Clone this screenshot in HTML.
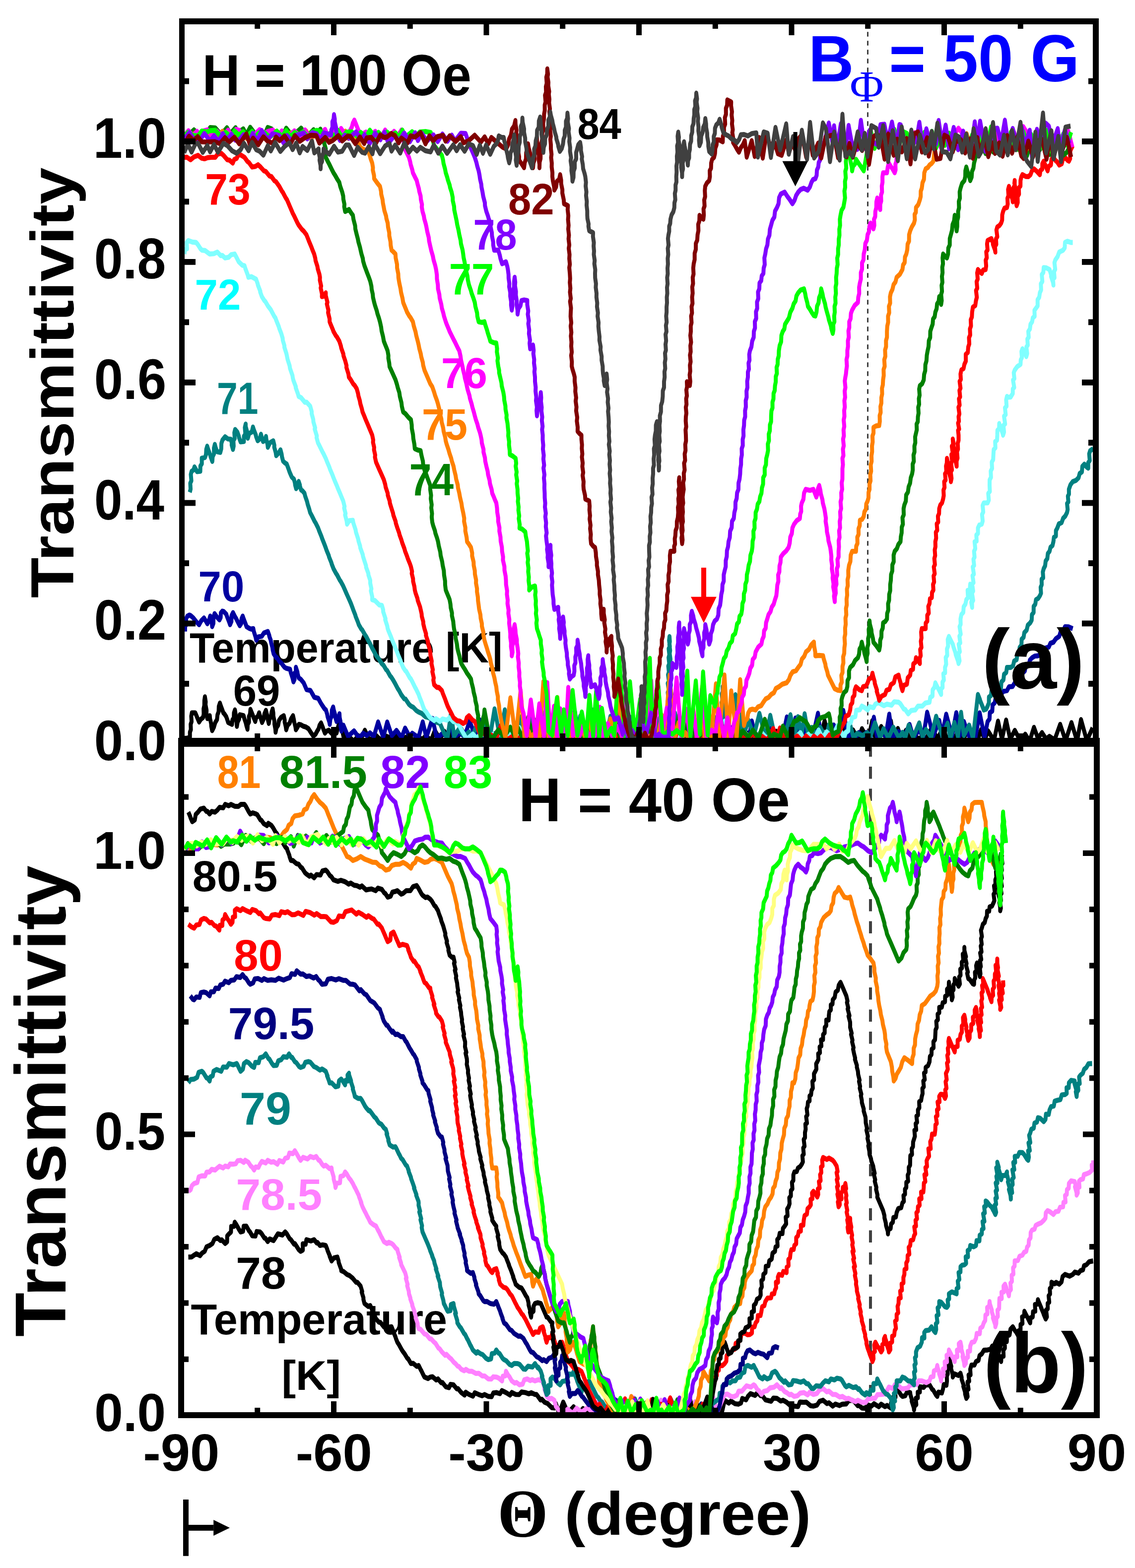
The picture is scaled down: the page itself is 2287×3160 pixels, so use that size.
<!DOCTYPE html>
<html><head><meta charset="utf-8"><title>Transmittivity vs angle</title><style>html,body{margin:0;padding:0;background:#fff;}svg{display:block;}</style></head><body>
<svg width="2287" height="3160" viewBox="0 0 2287 3160">
<defs><clipPath id="ca"><rect x="372" y="49" width="1830" height="1438"/></clipPath><clipPath id="cb"><rect x="371" y="1505" width="1833" height="1341"/></clipPath></defs>
<rect width="100%" height="100%" fill="#fff"/>
<line x1="1748.5" y1="49" x2="1748.5" y2="1487" stroke="#404040" stroke-width="3" stroke-dasharray="9.5 8.5" stroke-dashoffset="2.8"/>
<line x1="1754" y1="1505" x2="1754" y2="2846" stroke="#404040" stroke-width="6" stroke-dasharray="24.5 20" stroke-dashoffset="4.6"/>
<g><text transform="translate(189.82,1532.35) scale(1.0458,1.1493)" font-family="'Liberation Sans', sans-serif" font-weight="bold" font-size="100" fill="#000">0.0</text><text transform="translate(189.82,1289.47) scale(1.0458,1.1493)" font-family="'Liberation Sans', sans-serif" font-weight="bold" font-size="100" fill="#000">0.2</text><text transform="translate(189.94,1046.59) scale(1.0148,1.1493)" font-family="'Liberation Sans', sans-serif" font-weight="bold" font-size="100" fill="#000">0.4</text><text transform="translate(189.82,803.71) scale(1.0458,1.1493)" font-family="'Liberation Sans', sans-serif" font-weight="bold" font-size="100" fill="#000">0.6</text><text transform="translate(189.85,560.83) scale(1.0379,1.1493)" font-family="'Liberation Sans', sans-serif" font-weight="bold" font-size="100" fill="#000">0.8</text><text transform="translate(187.63,317.95) scale(1.0620,1.1493)" font-family="'Liberation Sans', sans-serif" font-weight="bold" font-size="100" fill="#000">1.0</text><text transform="translate(190.36,2884.08) scale(1.0344,1.0690)" font-family="'Liberation Sans', sans-serif" font-weight="bold" font-size="100" fill="#000">0.0</text><text transform="translate(190.39,2317.48) scale(1.0265,1.0690)" font-family="'Liberation Sans', sans-serif" font-weight="bold" font-size="100" fill="#000">0.5</text><text transform="translate(188.20,1750.88) scale(1.0504,1.0690)" font-family="'Liberation Sans', sans-serif" font-weight="bold" font-size="100" fill="#000">1.0</text><text transform="translate(148.31,1205.33) rotate(-90) scale(1.3349,1.2234)" font-family="'Liberation Sans', sans-serif" font-weight="bold" font-size="100" fill="#000">Transmittivity</text><text transform="translate(132.33,2694.16) rotate(-90) scale(1.4610,1.4415)" font-family="'Liberation Sans', sans-serif" font-weight="bold" font-size="100" fill="#000">Transmittivity</text><text transform="translate(1002.46,3096.62) scale(1.3088,1.3788)" font-family="'Liberation Serif', serif" font-weight="bold" font-size="100" fill="#000">Θ</text><text transform="translate(1137.40,3093.15) scale(1.2595,1.2213)" font-family="'Liberation Sans', sans-serif" font-weight="bold" font-size="100" fill="#000">(degree)</text><text transform="translate(407.52,191.83) scale(1.0548,1.1690)" font-family="'Liberation Sans', sans-serif" font-weight="bold" font-size="100" fill="#000">H = 100 Oe</text><text transform="translate(1628.94,163.90) scale(1.2656,1.3145)" font-family="'Liberation Sans', sans-serif" font-weight="bold" font-size="100" fill="#0000FF">B</text><text transform="translate(1712.20,203.60) scale(0.9343,0.8862)" font-family="'Liberation Serif', serif" font-weight="normal" font-size="100" fill="#0000FF">Φ</text><text transform="translate(1791.33,164.47) scale(1.2666,1.3310)" font-family="'Liberation Sans', sans-serif" font-weight="bold" font-size="100" fill="#0000FF">= 50 G</text><text transform="translate(1044.64,1654.56) scale(1.1937,1.2408)" font-family="'Liberation Sans', sans-serif" font-weight="bold" font-size="100" fill="#000">H = 40 Oe</text><text transform="translate(1163.42,280.12) scale(0.7944,0.8775)" font-family="'Liberation Sans', sans-serif" font-weight="bold" font-size="100" fill="#000">84</text><text transform="translate(1024.00,432.31) scale(0.8317,0.8944)" font-family="'Liberation Sans', sans-serif" font-weight="bold" font-size="100" fill="#800000">82</text><text transform="translate(953.53,503.32) scale(0.7913,0.8789)" font-family="'Liberation Sans', sans-serif" font-weight="bold" font-size="100" fill="#8000FF">78</text><text transform="translate(904.75,592.89) scale(0.8136,0.8897)" font-family="'Liberation Sans', sans-serif" font-weight="bold" font-size="100" fill="#00FF00">77</text><text transform="translate(889.07,782.12) scale(0.8330,0.8775)" font-family="'Liberation Sans', sans-serif" font-weight="bold" font-size="100" fill="#FF00FF">76</text><text transform="translate(850.10,885.91) scale(0.8250,0.8914)" font-family="'Liberation Sans', sans-serif" font-weight="bold" font-size="100" fill="#FF8000">75</text><text transform="translate(824.79,998.00) scale(0.8019,0.9058)" font-family="'Liberation Sans', sans-serif" font-weight="bold" font-size="100" fill="#008000">74</text><text transform="translate(413.31,411.72) scale(0.8214,0.8817)" font-family="'Liberation Sans', sans-serif" font-weight="bold" font-size="100" fill="#FF0000">73</text><text transform="translate(392.57,624.30) scale(0.8330,0.8800)" font-family="'Liberation Sans', sans-serif" font-weight="bold" font-size="100" fill="#00FFFF">72</text><text transform="translate(437.00,833.80) scale(0.7500,0.9043)" font-family="'Liberation Sans', sans-serif" font-weight="bold" font-size="100" fill="#008080">71</text><text transform="translate(399.57,1211.52) scale(0.8330,0.8789)" font-family="'Liberation Sans', sans-serif" font-weight="bold" font-size="100" fill="#0000A0">70</text><text transform="translate(469.69,1422.12) scale(0.8524,0.8789)" font-family="'Liberation Sans', sans-serif" font-weight="bold" font-size="100" fill="#000">69</text><text transform="translate(382.08,1334.72) scale(0.8241,0.8468)" font-family="'Liberation Sans', sans-serif" font-weight="bold" font-size="100" fill="#000">Temperature [K]</text><text transform="translate(437.63,1588.08) scale(0.7905,0.9239)" font-family="'Liberation Sans', sans-serif" font-weight="bold" font-size="100" fill="#FF8000">81</text><text transform="translate(562.77,1588.08) scale(0.9101,0.9239)" font-family="'Liberation Sans', sans-serif" font-weight="bold" font-size="100" fill="#008000">81.5</text><text transform="translate(765.98,1588.08) scale(0.9067,0.9239)" font-family="'Liberation Sans', sans-serif" font-weight="bold" font-size="100" fill="#8000FF">82</text><text transform="translate(893.63,1588.08) scale(0.8885,0.9239)" font-family="'Liberation Sans', sans-serif" font-weight="bold" font-size="100" fill="#00FF00">83</text><text transform="translate(387.76,1796.32) scale(0.8815,0.8789)" font-family="'Liberation Sans', sans-serif" font-weight="bold" font-size="100" fill="#000">80.5</text><text transform="translate(471.24,1956.11) scale(0.8856,0.8873)" font-family="'Liberation Sans', sans-serif" font-weight="bold" font-size="100" fill="#FF0000">80</text><text transform="translate(459.83,2093.89) scale(0.8915,0.9070)" font-family="'Liberation Sans', sans-serif" font-weight="bold" font-size="100" fill="#000080">79.5</text><text transform="translate(483.06,2266.48) scale(0.9340,0.9211)" font-family="'Liberation Sans', sans-serif" font-weight="bold" font-size="100" fill="#008080">79</text><text transform="translate(475.43,2438.11) scale(0.8920,0.8944)" font-family="'Liberation Sans', sans-serif" font-weight="bold" font-size="100" fill="#FF80FF">78.5</text><text transform="translate(475.36,2596.89) scale(0.9106,0.9070)" font-family="'Liberation Sans', sans-serif" font-weight="bold" font-size="100" fill="#000">78</text><text transform="translate(384.54,2688.80) scale(0.8633,0.8667)" font-family="'Liberation Sans', sans-serif" font-weight="bold" font-size="100" fill="#000">Temperature</text><text transform="translate(567.44,2800.57) scale(0.8598,0.8298)" font-family="'Liberation Sans', sans-serif" font-weight="bold" font-size="100" fill="#000">[K]</text><text transform="translate(288.23,2963.83) scale(1.0662,1.0662)" font-family="'Liberation Sans', sans-serif" font-weight="bold" font-size="100" fill="#000">-90</text><text transform="translate(595.73,2963.83) scale(1.0662,1.0662)" font-family="'Liberation Sans', sans-serif" font-weight="bold" font-size="100" fill="#000">-60</text><text transform="translate(903.23,2963.83) scale(1.0662,1.0662)" font-family="'Liberation Sans', sans-serif" font-weight="bold" font-size="100" fill="#000">-30</text><text transform="translate(1258.18,2963.83) scale(1.0662,1.0662)" font-family="'Liberation Sans', sans-serif" font-weight="bold" font-size="100" fill="#000">0</text><text transform="translate(1536.89,2963.83) scale(1.0662,1.0662)" font-family="'Liberation Sans', sans-serif" font-weight="bold" font-size="100" fill="#000">30</text><text transform="translate(1843.33,2963.83) scale(1.0662,1.0662)" font-family="'Liberation Sans', sans-serif" font-weight="bold" font-size="100" fill="#000">60</text><text transform="translate(2150.83,2963.83) scale(1.0662,1.0662)" font-family="'Liberation Sans', sans-serif" font-weight="bold" font-size="100" fill="#000">90</text></g>
<g clip-path="url(#ca)"><g transform="scale(1,1.27)">
<polyline points="372.0,1171.7 377.8,1171.4 382.7,1169.4 382.7,1161.9 384.6,1157.8 384.2,1149.4 386.0,1145.1 385.4,1136.5 386.6,1131.1 393.4,1131.1 396.3,1136.4 397.8,1139.5 401.2,1145.7 404.7,1141.4 409.0,1138.7 410.5,1133.3 410.2,1124.9 411.7,1119.5 411.8,1111.7 412.9,1105.7 414.5,1113.7 414.1,1118.2 416.2,1127.1 416.0,1132.0 417.8,1140.3 422.7,1135.7 423.2,1140.4 425.4,1148.1 425.7,1152.4 427.5,1159.4 431.0,1154.0 433.6,1146.9 437.3,1141.8 438.2,1134.3 440.5,1129.4 440.9,1121.0 443.1,1115.7 445.0,1120.2 448.2,1126.9 450.0,1131.1 452.2,1132.9 455.8,1137.2 458.3,1142.8 459.7,1146.5 467.5,1149.5 468.3,1142.6 471.1,1139.2 471.4,1131.3 473.4,1126.5 474.9,1134.0 474.8,1138.6 476.8,1146.8 477.3,1152.6 478.8,1145.7 481.7,1141.2 483.1,1134.2 490.9,1135.7 492.1,1139.7 495.4,1147.5 496.4,1151.1 498.7,1157.2 499.1,1149.5 501.7,1145.7 501.6,1137.1 503.9,1132.9 504.6,1125.7 508.4,1133.1 510.7,1137.9 514.3,1144.9 516.2,1139.0 519.8,1136.3 522.1,1131.1 523.4,1135.1 526.3,1141.9 528.0,1146.5 531.2,1141.1 532.8,1133.0 535.8,1127.2 538.3,1135.2 539.1,1140.0 541.6,1148.0 543.0,1141.2 545.9,1137.2 547.2,1130.3 549.4,1125.0 550.7,1131.7 550.8,1136.3 553.0,1144.5 553.0,1148.9 554.8,1156.5 555.3,1161.8 557.1,1154.8 560.5,1150.7 562.1,1143.4 566.3,1138.4 571.8,1135.7 573.6,1142.2 573.6,1145.7 575.8,1153.0 576.7,1158.0 579.4,1151.1 583.8,1147.3 586.6,1140.6 590.4,1135.7 592.1,1141.8 593.0,1146.2 595.3,1153.4 596.2,1158.0 599.4,1154.2 602.1,1149.5 606.5,1150.2 611.8,1152.6 616.2,1153.6 621.6,1156.4 626.9,1163.0 631.3,1168.0 635.8,1165.1 639.1,1160.2 642.0,1156.4 643.9,1150.9 646.9,1147.2 650.3,1153.9 651.5,1156.9 654.7,1163.3 658.1,1160.2 662.5,1158.7 667.0,1162.9 670.3,1164.9 678.1,1163.3 685.0,1141.9 693.2,1172.9 700.6,1166.8 712.7,1176.3 722.1,1167.6 727.6,1172.0 735.1,1158.8 745.1,1175.7 756.4,1166.1 766.6,1173.8 777.3,1168.0 789.7,1171.8 799.5,1166.1 810.7,1172.3 822.5,1168.5 833.2,1175.0 842.3,1168.0 850.4,1173.8 857.3,1168.1 868.8,1174.3 876.2,1159.4 886.1,1172.3 895.7,1160.7 901.9,1173.1 913.5,1160.9 920.6,1173.5 929.3,1156.4 940.8,1172.1 946.6,1164.4 952.1,1172.4 958.3,1168.4 968.2,1172.1 977.7,1143.8 984.1,1175.2 993.7,1168.0 1005.9,1175.1 1014.1,1148.1 1020.2,1175.6 1031.7,1168.3 1043.7,1175.4 1055.7,1167.1 1066.4,1175.3 1074.3,1168.5 1079.8,1174.0 1089.1,1168.3 1099.1,1171.9 1107.9,1162.8 1114.8,1171.9 1126.7,1150.0 1136.3,1171.8 1145.5,1144.0 1156.4,1174.9 1162.1,1160.9 1169.2,1176.3 1174.7,1167.7 1186.4,1172.2 1194.0,1166.7 1205.7,1174.9 1217.8,1167.9 1223.9,1173.3 1234.8,1159.6 1246.9,1175.0 1252.9,1166.6 1259.8,1172.9 1270.0,1164.4 1280.8,1171.7 1292.8,1168.1 1303.5,1175.6 1309.2,1161.9 1321.6,1171.7 1330.6,1164.8 1338.8,1172.6 1345.5,1167.2 1352.4,1173.0 1364.3,1144.8 1371.6,1171.8 1378.9,1149.8 1385.6,1174.8 1391.6,1166.1 1398.3,1174.6 1406.3,1153.7 1415.5,1173.6 1421.0,1150.6 1426.7,1174.0 1439.2,1152.9 1447.2,1176.0 1454.4,1160.8 1464.0,1175.1 1471.4,1165.3 1479.2,1176.0 1489.9,1166.3 1500.9,1174.6 1508.0,1163.1 1514.1,1172.7 1520.1,1168.4 1529.9,1175.6 1541.3,1167.7 1553.6,1173.2 1563.9,1160.4 1572.8,1174.9 1584.6,1156.9 1593.6,1175.7 1604.4,1165.7 1616.9,1173.6 1622.6,1143.9 1634.7,1174.2 1645.5,1156.9 1651.7,1175.4 1661.6,1143.8 1670.4,1173.0 1681.4,1161.7 1693.0,1171.9 1703.4,1147.0 1710.1,1172.1 1719.0,1158.4 1729.0,1174.2 1736.8,1156.3 1749.3,1174.0 1757.6,1143.6 1764.2,1174.3 1775.7,1152.9 1786.5,1174.9 1795.1,1143.8 1800.5,1173.7 1809.2,1156.0 1816.6,1172.6 1825.3,1159.0 1834.5,1175.8 1843.3,1167.8 1853.3,1173.5 1858.9,1165.2 1865.1,1174.7 1877.0,1155.4 1889.3,1172.3 1900.7,1154.1 1907.8,1173.9 1914.5,1166.7 1923.6,1173.5 1931.8,1156.3 1942.1,1172.2 1951.6,1153.5 1957.3,1175.2 1962.8,1164.7 1971.0,1171.7 1976.9,1157.8 1984.2,1174.1 1990.8,1159.7 2002.9,1175.2 2011.0,1144.3 2018.9,1173.0 2027.3,1142.6 2035.5,1173.0 2044.8,1159.0 2055.7,1175.0 2065.9,1165.0 2074.5,1176.3 2083.4,1154.2 2091.4,1171.7 2099.6,1162.5 2107.9,1172.6 2114.5,1168.5 2125.0,1174.1 2136.2,1149.4 2147.1,1175.4 2159.0,1146.7 2170.3,1175.9 2178.2,1141.9 2190.0,1175.5 2201.5,1154.8" fill="none" stroke="#000000" stroke-width="8" stroke-linejoin="round"/>
<polyline points="372.9,1002.1 373.0,994.5 375.4,990.9 374.9,982.1 377.5,977.7 381.7,976.0 385.1,977.4 389.5,980.6 396.0,987.1 401.2,991.3 405.6,985.0 411.0,980.6 414.0,984.5 417.8,989.8 421.1,984.4 423.6,977.6 424.2,982.0 427.0,990.1 427.5,994.4 430.0,989.1 430.1,979.4 432.4,973.7 438.0,980.0 442.2,983.7 444.6,979.9 445.0,972.6 448.0,969.8 451.0,970.5 455.8,974.5 457.7,978.9 461.7,986.9 463.6,991.3 466.3,986.2 466.6,976.9 469.5,972.1 473.6,978.7 475.5,981.1 480.4,988.9 483.1,992.9 486.0,989.5 486.7,982.0 489.0,977.6 491.1,982.3 494.6,989.5 496.8,994.4 502.1,997.1 506.5,998.3 510.4,997.5 511.4,1001.9 515.0,1010.9 516.3,1015.9 520.7,1010.7 527.5,1009.6 531.9,1004.4 539.7,1002.1 542.7,1008.7 542.6,1009.6 545.5,1015.9 546.6,1020.6 548.9,1027.4 549.5,1031.3 551.4,1037.4 556.5,1043.5 558.1,1043.6 563.1,1049.7 567.2,1052.5 573.1,1058.6 576.7,1060.5 584.5,1062.0 585.7,1066.8 589.5,1076.1 591.3,1082.0 593.6,1078.0 592.8,1068.7 596.1,1066.6 596.2,1058.9 599.3,1066.5 599.7,1069.3 602.1,1075.8 605.8,1077.7 611.8,1083.5 615.2,1089.6 617.7,1094.3 625.5,1095.7 628.7,1100.0 633.3,1106.5 641.1,1108.0 646.1,1115.3 648.9,1118.8 653.9,1124.7 656.7,1126.5 659.2,1133.2 660.1,1137.2 663.7,1145.9 664.5,1149.5 665.6,1141.5 668.3,1136.5 668.7,1127.2 671.3,1121.9 672.6,1127.0 675.6,1135.0 675.3,1137.2 678.1,1144.9 681.9,1140.2 684.0,1132.6 684.4,1138.5 686.5,1147.5 686.0,1151.7 687.9,1160.2 692.0,1150.8 701.3,1168.5 713.4,1159.8 723.7,1171.2 732.0,1163.6 739.0,1167.2 745.4,1162.9 753.3,1168.7 761.9,1145.6 772.2,1170.2 780.2,1145.7 789.6,1167.5 798.9,1159.0 809.2,1170.4 816.3,1155.3 825.0,1168.3 830.7,1163.6 843.2,1170.4 851.8,1145.6 859.1,1170.3 871.4,1140.0 880.1,1171.6 892.1,1163.6 900.5,1169.1 907.9,1148.0 914.3,1170.5 925.9,1163.5 936.3,1168.2 946.3,1144.3 958.7,1170.7 966.5,1142.3 973.0,1170.3 981.4,1160.3 988.5,1168.0 999.7,1163.2 1006.7,1167.8 1013.3,1142.3 1022.9,1170.1 1034.8,1154.8 1040.4,1167.8 1049.6,1143.1 1061.6,1169.3 1068.6,1149.0 1080.7,1168.5 1092.8,1132.3 1102.4,1169.2 1108.7,1163.1 1114.4,1169.8 1125.0,1126.4 1134.7,1171.6 1143.0,1162.8 1148.8,1168.3 1158.0,1126.9 1165.6,1168.0 1176.2,1156.9 1185.6,1167.6 1197.2,1131.3 1208.0,1171.3 1215.8,1163.7 1223.4,1171.2 1232.2,1161.7 1238.7,1167.7 1247.2,1130.9 1259.0,1170.5 1269.8,1161.9 1280.8,1168.0 1290.0,1163.7 1301.8,1167.5 1311.5,1145.8 1321.5,1170.2 1329.6,1138.9 1341.7,1169.8 1354.2,1135.6 1360.0,1170.1 1366.1,1145.8 1374.1,1171.0 1379.9,1129.5 1385.6,1167.2 1391.0,1162.9 1403.5,1170.9 1415.5,1161.9 1425.8,1170.7 1436.5,1160.2 1448.9,1170.4 1459.2,1159.8 1467.5,1170.5 1476.6,1153.4 1488.6,1168.9 1500.2,1163.6 1509.4,1170.3 1514.9,1144.1 1522.3,1169.9 1532.2,1162.7 1544.4,1168.1 1550.8,1155.1 1556.7,1167.4 1567.5,1163.2 1576.8,1171.1 1585.5,1137.7 1596.9,1167.7 1602.8,1139.4 1614.5,1171.0 1625.0,1152.5 1637.3,1170.4 1648.2,1131.8 1654.0,1170.4 1663.6,1163.8 1670.8,1170.3 1680.0,1150.4 1687.5,1169.6 1699.2,1127.3 1708.6,1170.4 1714.7,1162.7 1724.1,1170.8 1730.3,1162.6 1739.3,1168.4 1745.7,1162.4 1754.2,1170.7 1760.8,1138.1 1766.8,1168.1 1777.0,1163.8 1784.7,1167.7 1791.8,1133.3 1798.3,1170.3 1810.3,1160.8 1821.9,1168.4 1832.8,1149.6 1840.8,1171.1 1851.2,1158.9 1860.7,1168.3 1868.2,1130.1 1880.6,1167.7 1892.6,1143.2 1898.1,1167.4 1906.6,1133.3 1918.3,1168.1 1926.9,1130.9 1933.8,1167.4 1942.2,1144.9 1953.9,1171.1 1959.4,1162.1 1965.7,1169.7 1974.0,1131.1 1983.8,1169.8 1990.0,1145.0 1993.9,1140.9 1994.5,1130.8 1999.4,1128.5 2000.1,1118.7 2004.4,1115.2 2006.3,1107.5 2009.5,1102.0 2017.0,1101.7 2022.0,1097.0 2029.0,1095.9 2033.1,1089.9 2040.3,1089.4 2044.6,1083.6 2050.3,1079.4 2054.0,1071.5 2060.2,1068.3 2064.9,1064.7 2067.0,1056.7 2072.8,1055.1 2075.2,1047.6 2079.7,1043.7 2084.9,1041.1 2091.4,1040.6 2097.3,1037.8 2100.9,1030.8 2107.0,1028.3 2113.1,1026.9 2116.6,1020.8 2122.6,1019.1 2127.8,1013.3 2134.3,1009.9 2137.0,1002.7 2142.5,1000.4 2146.0,994.5 2153.0,994.7 2161.6,997.6" fill="none" stroke="#0000A0" stroke-width="8" stroke-linejoin="round"/>
<polyline points="382.4,781.2 384.0,776.1 383.4,766.9 385.6,762.8 384.5,752.9 386.1,747.8 389.9,745.9 391.9,740.9 394.1,743.9 397.0,748.3 403.6,747.8 403.8,739.5 406.7,735.9 406.6,727.1 413.1,725.9 415.1,720.9 415.6,713.2 417.5,708.0 419.1,712.4 423.5,721.7 424.5,724.9 427.8,732.2 428.5,724.5 431.2,720.1 431.1,711.1 432.9,705.2 434.2,709.4 437.3,716.7 443.9,717.9 445.8,712.1 446.1,703.7 448.2,698.3 453.4,693.1 459.2,696.5 465.1,697.1 467.2,703.7 466.8,705.9 469.4,713.2 470.8,707.8 470.3,699.1 472.9,695.8 472.2,686.6 473.8,681.6 478.2,685.6 481.3,692.4 481.5,694.0 484.8,701.2 491.4,700.6 491.5,692.3 494.4,688.8 493.4,678.5 495.0,672.9 495.0,676.6 498.1,685.8 497.6,688.5 499.4,695.4 502.0,687.9 507.4,685.5 509.7,677.6 511.3,681.6 515.6,690.6 516.0,692.6 519.2,699.4 523.6,696.3 525.8,689.1 527.4,693.9 530.1,700.6 534.1,698.5 536.0,692.5 536.6,697.1 539.0,705.0 539.7,709.8 544.0,702.6 550.6,699.4 552.8,706.6 552.6,709.6 555.6,718.1 556.5,723.0 561.3,719.2 565.2,713.8 567.5,720.7 568.2,724.9 570.4,731.7 574.5,734.8 577.7,736.3 581.1,743.5 583.5,749.0 586.3,754.1 587.9,757.0 592.3,760.5 594.3,766.5 594.7,769.5 596.7,775.4 600.2,771.4 601.8,763.9 604.3,769.9 604.2,771.3 606.9,777.7 609.5,778.9 613.5,782.7 614.9,787.2 618.7,795.9 620.0,800.3 623.2,808.1 625.0,813.4 628.3,818.3 634.1,827.5 635.8,829.6 641.0,837.8 643.2,842.6 647.4,850.7 649.4,855.2 653.5,863.3 656.0,868.5 657.7,872.5 662.5,881.8 663.0,883.7 667.8,893.1 668.4,895.1 672.0,902.4 677.0,909.8 679.2,912.3 684.7,920.7 686.6,922.7 691.5,929.9 694.2,934.7 698.2,941.9 699.6,944.4 704.4,952.8 707.0,957.5 710.5,964.7 711.6,967.4 716.1,976.4 716.5,978.0 721.0,986.8 723.0,991.3 727.9,998.1 729.8,999.5 734.8,1006.5 738.0,1010.2 742.4,1017.0 745.2,1020.9 750.6,1029.5 753.2,1033.1 758.0,1040.6 762.2,1044.4 769.2,1052.9 773.0,1055.9 778.0,1062.6 780.0,1063.9 786.2,1072.6 788.6,1074.7 793.0,1080.3 796.0,1084.4 801.6,1092.9 803.9,1095.5 808.5,1102.4 814.5,1108.9 817.2,1109.5 824.1,1117.6 828.0,1120.5 832.4,1122.2 838.8,1127.5 843.6,1129.9 849.6,1132.0 857.5,1137.5 863.0,1138.6 870.3,1140.8 879.2,1145.7 886.5,1148.0 895.0,1163.5 901.7,1171.5 908.7,1132.2 915.1,1168.5 923.9,1157.6 936.2,1168.1 945.1,1161.5 951.3,1170.2 959.1,1153.0 969.5,1167.3 975.3,1143.7 987.9,1167.0 996.5,1124.8 1007.9,1171.6 1017.1,1126.4 1022.9,1169.2 1034.4,1156.5 1043.0,1169.1 1051.1,1136.7 1063.6,1168.0 1071.3,1137.2 1082.0,1170.8 1092.3,1130.2 1103.8,1169.9 1111.3,1163.3 1122.9,1171.0 1134.7,1160.2 1145.4,1171.3 1152.3,1163.7 1158.9,1168.0 1169.2,1136.2 1180.5,1170.2 1193.0,1126.4 1201.5,1171.3 1212.1,1160.6 1221.7,1167.7 1230.0,1136.7 1235.5,1169.5 1244.0,1159.7 1249.9,1169.4 1257.7,1163.2 1266.0,1170.1 1271.9,1138.3 1277.9,1169.2 1286.0,1133.9 1297.8,1170.4 1305.3,1158.6 1316.7,1169.3 1326.6,1141.8 1333.4,1168.7 1344.0,1169.3 1345.3,1164.3 1343.9,1154.6 1345.0,1149.2 1344.1,1140.2 1345.7,1135.8 1344.4,1126.3 1346.5,1122.7 1345.3,1113.3 1346.7,1108.4 1345.5,1098.9 1347.5,1095.2 1345.5,1084.4 1347.9,1081.3 1346.1,1070.7 1347.9,1066.7 1346.6,1057.1 1348.5,1053.2 1347.2,1043.6 1348.7,1039.0 1347.4,1029.4 1349.7,1026.0 1348.2,1016.2 1349.0,1010.2 1349.7,1018.0 1348.8,1022.9 1350.3,1032.2 1349.4,1037.1 1351.0,1046.4 1349.7,1050.6 1351.6,1060.5 1350.2,1064.6 1351.9,1074.2 1350.0,1077.3 1351.9,1087.2 1350.9,1092.0 1353.0,1102.2 1351.3,1105.8 1352.9,1115.1 1352.0,1120.0 1353.8,1129.7 1352.3,1133.6 1354.2,1143.6 1352.5,1147.1 1354.1,1156.4 1352.6,1160.3 1354.0,1169.3 1360.0,1131.2 1370.8,1169.8 1381.6,1128.0 1388.4,1168.1 1399.3,1155.6 1411.8,1170.9 1421.0,1162.3 1430.8,1169.8 1440.4,1138.7 1449.2,1171.1 1452.0,1169.3 1453.4,1164.5 1452.2,1155.1 1454.1,1151.4 1452.2,1140.8 1454.2,1137.1 1453.5,1128.6 1455.3,1124.6 1453.9,1115.0 1455.7,1110.8 1454.3,1101.3 1456.3,1097.5 1456.0,1089.8 1457.2,1097.8 1455.6,1101.1 1458.2,1111.7 1456.9,1115.5 1458.7,1124.6 1457.4,1128.4 1459.5,1138.2 1458.0,1141.6 1459.4,1150.2 1458.7,1154.9 1460.5,1164.1 1460.0,1169.3 1465.0,1162.4 1475.9,1168.5 1480.0,1169.3 1481.0,1164.0 1479.5,1154.3 1481.1,1150.2 1480.2,1141.5 1482.1,1137.7 1480.5,1127.9 1482.1,1123.6 1480.7,1114.2 1482.7,1110.7 1482.0,1102.4 1481.6,1107.6 1483.9,1117.7 1482.1,1120.5 1484.7,1131.2 1482.9,1133.8 1485.3,1144.2 1483.9,1147.5 1485.9,1157.1 1485.2,1161.8 1486.0,1169.3 1490.0,1133.1 1498.4,1168.5 1507.7,1142.4 1519.1,1167.5 1530.2,1132.0 1542.6,1171.4 1552.1,1135.1 1561.8,1170.9 1574.3,1157.7 1580.6,1170.5 1592.7,1134.2 1601.5,1169.1 1607.8,1137.2 1615.1,1167.5 1621.3,1132.6 1629.6,1170.7 1635.6,1154.3 1646.3,1170.6 1653.1,1154.3 1664.3,1171.2 1670.4,1150.2 1682.2,1169.9 1693.3,1159.8 1702.2,1167.0 1713.4,1151.2 1720.1,1171.4 1727.0,1163.7 1737.6,1167.3 1747.8,1162.8 1753.3,1170.4 1763.1,1147.0 1773.6,1170.3 1780.3,1156.2 1790.0,1171.0 1800.0,1154.0 1811.3,1170.9 1818.5,1162.1 1824.0,1171.0 1830.9,1150.6 1840.1,1170.0 1852.2,1147.1 1858.9,1169.0 1865.6,1157.5 1876.3,1170.0 1886.3,1136.6 1898.8,1168.1 1909.3,1147.6 1914.9,1171.6 1923.2,1146.4 1930.2,1168.9 1936.5,1130.4 1942.2,1167.3 1952.8,1150.6 1960.5,1171.4 1970.5,1102.0 1974.4,1109.9 1975.2,1112.3 1980.4,1122.4 1982.2,1126.6 1987.1,1125.3 1990.0,1120.5 1992.6,1115.5 1992.7,1106.1 1996.8,1103.8 1997.8,1095.9 2006.4,1097.4 2013.4,1095.9 2017.0,1091.5 2017.8,1082.2 2021.9,1078.8 2023.1,1070.1 2027.5,1067.1 2029.0,1059.1 2036.8,1059.1 2041.4,1056.2 2043.5,1048.9 2048.5,1046.8 2049.8,1039.1 2053.8,1036.1 2054.6,1027.4 2058.2,1023.7 2058.6,1014.3 2062.5,1011.2 2064.0,1003.8 2068.7,999.9 2071.0,992.0 2075.8,988.4 2078.8,984.1 2079.3,975.4 2082.7,971.8 2082.8,962.4 2086.1,958.7 2087.5,951.6 2092.0,949.5 2095.3,945.4 2097.6,941.4 2096.9,932.1 2099.0,927.8 2098.8,919.2 2102.0,916.8 2101.3,907.5 2103.0,902.4 2105.9,897.8 2107.0,890.2 2110.3,886.4 2111.4,878.4 2114.8,874.8 2116.7,868.5 2120.7,865.7 2122.6,859.4 2123.7,852.6 2127.6,850.6 2127.7,842.0 2130.4,838.0 2133.5,831.4 2139.1,829.3 2142.1,822.6 2146.5,818.9 2150.0,813.4 2151.3,808.5 2150.1,799.0 2152.7,796.4 2151.8,787.4 2153.9,784.0 2153.8,776.5 2157.0,769.2 2161.6,764.3 2168.1,762.3 2173.3,758.1 2175.5,751.4 2180.0,748.9 2180.9,740.0 2185.0,736.6 2189.8,741.3 2192.8,742.8 2192.8,734.1 2195.8,730.8 2194.7,720.2 2196.7,715.1 2202.6,712.0" fill="none" stroke="#008080" stroke-width="8" stroke-linejoin="round"/>
<polyline points="371.7,403.1 372.7,396.0 376.9,394.7 376.2,384.7 379.5,381.7 387.8,384.2 395.0,384.7 398.3,387.7 403.8,394.5 406.8,397.0 413.1,397.5 422.4,403.1 430.8,402.6 438.0,400.0 444.6,405.6 447.9,405.3 453.6,409.3 460.7,408.3 465.9,404.1 473.0,403.1 476.3,408.1 481.0,415.4 488.1,420.8 492.6,421.6 494.3,426.0 499.2,436.3 500.4,440.0 506.8,439.0 516.0,443.1 519.2,450.2 519.6,452.1 524.6,462.4 524.2,463.1 527.7,470.7 532.4,476.7 534.7,478.5 540.1,485.8 543.3,489.1 545.7,491.6 552.6,502.0 555.0,504.5 556.7,508.4 561.7,518.2 562.8,521.2 566.7,529.1 569.6,536.9 569.8,540.0 573.1,548.6 573.0,551.0 577.0,560.8 578.4,565.9 579.5,570.4 583.6,580.4 584.3,584.4 589.3,595.8 590.0,599.7 591.2,603.6 596.1,613.8 595.8,615.1 600.2,624.7 601.8,629.1 606.5,630.9 614.3,638.4 617.8,638.2 625.0,644.5 628.1,653.3 628.0,656.5 631.2,665.7 631.5,669.5 635.0,679.0 634.1,680.8 638.4,691.8 637.9,694.4 640.8,702.8 644.0,707.7 649.5,716.7 651.4,719.3 656.4,727.4 658.6,731.9 663.7,741.5 664.9,744.3 670.0,753.9 672.0,758.1 674.4,762.8 679.7,772.6 680.3,774.0 686.1,784.6 686.7,786.0 691.5,795.0 694.3,803.8 693.4,806.0 696.3,815.0 695.3,817.1 698.5,826.6 699.3,831.8 703.7,826.2 711.0,825.7 712.1,830.2 716.5,840.7 717.2,844.4 721.5,854.8 722.7,859.4 725.6,866.5 725.9,869.1 730.9,880.0 731.4,882.8 734.4,890.2 737.5,897.7 737.6,899.9 742.2,910.0 742.4,912.4 746.0,920.9 746.0,925.5 748.4,934.5 747.3,937.4 750.1,947.1 750.0,951.6 755.7,953.1 764.4,960.0 769.5,960.6 772.1,967.9 772.1,970.6 776.8,981.8 776.1,983.1 780.3,993.4 781.2,997.6 782.8,1001.1 787.9,1010.8 789.5,1014.2 794.2,1023.1 796.8,1028.3 800.7,1035.8 802.0,1038.9 807.4,1049.0 807.8,1050.4 812.4,1059.1 816.8,1064.5 818.6,1065.4 825.5,1075.3 828.0,1077.5 831.3,1082.5 836.3,1090.7 838.2,1093.2 843.6,1102.0 845.1,1105.6 850.8,1116.7 851.1,1118.1 855.3,1126.6 858.4,1129.4 863.9,1136.1 867.0,1138.9 874.8,1143.3 878.6,1140.5 886.5,1144.9 891.9,1140.9 900.5,1142.7 906.0,1138.9 913.7,1145.2 917.8,1144.9 925.5,1151.2 930.0,1158.2 940.6,1173.1 952.8,1164.9 960.3,1171.4 970.7,1162.9 982.8,1170.7 993.7,1165.2 1001.1,1168.6 1012.2,1158.0 1024.4,1171.4 1032.2,1161.7 1040.3,1169.4 1046.5,1154.5 1054.1,1170.6 1064.6,1163.1 1073.2,1170.0 1080.9,1154.0 1087.0,1170.4 1093.2,1153.9 1100.8,1173.1 1109.6,1154.1 1118.8,1172.4 1129.3,1154.7 1134.9,1169.2 1145.7,1160.6 1158.1,1171.5 1169.4,1151.4 1181.8,1171.6 1193.9,1160.3 1201.3,1169.0 1208.5,1146.0 1218.6,1168.7 1224.2,1159.5 1233.5,1170.2 1239.1,1163.2 1250.8,1171.9 1262.1,1163.1 1272.3,1169.4 1279.9,1143.6 1286.8,1169.9 1293.8,1147.0 1304.1,1171.3 1315.6,1159.4 1327.6,1172.2 1335.2,1163.6 1344.5,1170.6 1355.6,1154.4 1366.3,1171.4 1373.6,1151.5 1386.1,1171.5 1396.6,1163.6 1402.8,1170.6 1412.5,1152.0 1421.3,1171.1 1427.4,1165.3 1433.6,1170.0 1440.8,1164.6 1448.6,1170.1 1460.0,1144.4 1472.5,1172.0 1478.0,1163.6 1490.6,1171.8 1502.2,1164.1 1509.3,1169.0 1518.5,1161.5 1527.3,1169.2 1532.8,1161.1 1544.9,1171.6 1554.4,1165.2 1563.0,1170.2 1572.9,1160.8 1584.1,1169.8 1594.7,1165.4 1601.2,1172.3 1612.7,1162.6 1619.5,1173.0 1629.2,1165.0 1641.7,1171.2 1649.3,1158.4 1657.3,1171.2 1665.7,1161.3 1676.4,1169.9 1687.8,1151.4 1700.0,1169.2 1701.4,1169.6 1703.8,1162.3 1709.1,1160.0 1709.7,1149.3 1714.6,1146.2 1717.0,1138.9 1723.5,1137.1 1725.4,1127.2 1732.4,1126.4 1736.5,1120.5 1741.8,1122.6 1748.2,1126.6 1752.2,1121.4 1760.1,1123.0 1763.8,1117.3 1770.3,1115.0 1780.8,1119.8 1787.2,1117.3 1796.5,1119.0 1801.8,1113.6 1810.6,1114.3 1814.1,1116.6 1821.2,1125.2 1823.8,1125.7 1830.0,1132.8 1835.9,1127.5 1844.2,1126.6 1849.6,1120.5 1858.5,1120.5 1864.7,1115.5 1873.0,1114.3 1874.4,1106.6 1879.0,1104.4 1879.3,1094.6 1882.9,1090.7 1884.7,1083.6 1889.8,1091.9 1891.1,1093.5 1896.4,1102.0 1896.0,1093.3 1899.3,1090.9 1899.1,1082.5 1901.8,1079.1 1900.8,1069.2 1904.4,1067.6 1904.2,1059.1 1906.5,1054.1 1905.6,1043.5 1908.6,1039.9 1908.1,1029.9 1910.4,1025.1 1909.7,1014.8 1912.0,1009.9 1917.5,1018.9 1919.8,1022.2 1921.3,1026.8 1925.2,1035.7 1925.8,1038.7 1930.2,1048.6 1931.5,1052.9 1933.5,1048.6 1931.2,1036.9 1934.0,1034.1 1931.8,1022.5 1934.9,1020.1 1933.2,1009.5 1935.8,1006.2 1933.5,994.4 1935.7,990.5 1935.4,982.3 1937.2,975.2 1941.0,971.7 1941.8,962.8 1945.3,958.7 1947.1,951.6 1950.5,947.9 1949.7,936.9 1954.6,935.9 1955.0,927.0 1954.5,931.1 1957.4,941.3 1955.3,942.6 1958.2,952.6 1957.1,955.8 1958.8,963.8 1958.6,956.1 1960.9,952.7 1958.5,941.0 1960.9,937.9 1958.9,927.1 1961.6,924.5 1959.6,913.6 1962.3,911.0 1960.1,899.6 1962.8,897.2 1961.5,887.5 1963.7,884.0 1962.7,874.8 1965.1,870.6 1963.8,859.8 1967.9,858.6 1967.3,849.1 1970.6,846.5 1970.5,837.8 1973.4,833.0 1978.3,831.8 1980.1,826.8 1978.8,816.4 1981.2,812.5 1980.0,802.3 1982.2,798.0 1990.0,798.0 1992.4,793.6 1991.3,783.0 1994.5,779.9 1994.0,770.4 1994.1,761.6 1996.8,757.4 1996.3,747.6 1999.0,743.4 1998.4,733.4 2001.2,729.4 2001.7,721.3 2002.3,713.5 2005.7,710.5 2005.2,700.8 2009.0,698.6 2009.5,690.6 2009.8,682.7 2013.2,680.3 2013.4,672.1 2015.3,677.1 2019.7,686.3 2021.2,690.6 2023.1,685.6 2021.9,675.0 2025.3,672.7 2023.1,660.5 2026.4,657.9 2025.0,647.1 2028.2,644.4 2027.4,634.6 2029.0,629.1 2029.0,630.4 2036.4,630.1 2040.7,624.3 2040.8,617.2 2043.6,614.8 2041.2,603.2 2043.9,600.8 2042.7,591.4 2044.6,587.4 2049.8,581.6 2056.3,578.2 2056.8,571.2 2059.1,567.4 2058.2,557.8 2060.2,553.5 2063.2,558.1 2068.0,565.9 2069.7,561.0 2068.2,550.7 2070.9,547.6 2070.1,538.2 2072.8,535.2 2072.0,526.0 2075.3,522.1 2076.4,514.5 2079.7,510.6 2081.1,504.3 2084.8,502.0 2084.4,492.5 2087.5,489.1 2090.8,485.4 2090.7,475.6 2094.0,471.8 2095.3,464.6 2097.8,460.1 2097.3,450.3 2100.3,446.7 2099.2,435.8 2102.3,432.4 2103.0,424.6 2108.3,425.1 2114.8,427.7 2118.1,436.3 2117.9,438.6 2122.0,448.5 2122.6,452.3 2121.9,443.3 2124.8,440.6 2123.8,430.9 2126.2,427.5 2124.7,416.9 2126.5,412.4 2131.0,407.2 2134.3,400.0 2142.1,397.0 2145.4,393.2 2146.0,384.7 2150.8,382.9 2157.7,384.7 2161.6,384.7" fill="none" stroke="#80FFFF" stroke-width="8" stroke-linejoin="round"/>
<polyline points="371.7,249.6 376.7,249.5 384.0,253.5 390.9,249.0 399.0,246.5 406.5,251.0 412.0,252.0 418.6,250.1 426.0,249.6 433.8,249.6 438.7,244.5 445.8,243.3 451.2,247.2 458.0,253.5 462.3,254.1 469.0,258.8 471.9,253.1 477.0,251.2 480.0,245.7 485.4,246.0 492.6,249.6 498.5,256.1 502.0,258.3 508.0,265.0 514.5,264.2 520.0,261.4 525.3,265.3 531.6,270.9 535.6,272.1 543.0,279.2 547.0,280.3 553.0,286.8 556.3,288.4 562.8,295.7 568.0,303.3 570.0,305.4 575.6,313.8 578.4,317.2 582.3,324.3 583.1,325.9 588.0,334.8 590.0,338.6 592.7,342.6 599.1,353.2 601.8,357.1 607.9,363.7 611.8,366.6 617.4,372.4 621.0,379.5 623.1,383.8 627.7,392.5 629.4,396.2 633.0,403.1 635.3,410.0 635.8,413.5 639.5,422.6 640.4,426.9 643.7,435.5 644.7,440.0 644.5,444.5 647.1,453.8 646.2,456.9 648.8,466.4 648.6,470.7 653.6,469.7 656.4,464.6 656.4,469.1 659.8,479.8 658.6,482.3 661.7,492.4 661.1,496.0 664.1,505.9 664.2,510.6 666.4,515.0 670.6,523.0 672.0,526.0 676.7,532.6 679.0,534.8 683.7,541.3 686.9,549.1 687.5,552.0 691.8,561.7 692.1,564.3 695.4,572.0 698.2,580.2 698.0,583.0 702.1,593.5 703.0,598.4 706.6,602.3 711.9,609.4 714.3,611.2 718.8,616.9 721.4,624.2 722.2,628.2 725.1,636.1 726.0,640.4 729.1,648.6 730.5,653.7 734.8,661.8 736.5,665.2 740.8,673.1 743.1,677.5 747.6,685.9 750.0,690.6 752.0,698.2 751.6,701.8 753.9,710.0 753.6,713.7 756.0,722.1 755.5,725.3 757.8,733.5 760.2,737.8 764.9,746.2 765.9,747.9 771.1,757.1 773.4,761.2 776.2,768.8 777.1,773.0 781.2,782.8 781.4,785.8 785.2,795.1 785.6,798.4 789.0,807.1 792.0,814.5 792.6,817.5 797.2,827.6 797.6,830.2 800.7,837.8 804.2,845.5 805.1,848.8 808.9,857.0 810.4,861.2 814.9,870.7 816.3,874.8 819.8,881.9 821.6,886.1 826.2,895.1 828.0,899.2 830.3,907.1 829.6,909.8 832.3,918.4 832.4,922.5 835.0,930.9 835.8,936.2 837.3,940.9 841.2,949.8 841.7,952.7 846.3,962.8 847.5,966.9 849.5,973.9 849.9,978.0 852.8,986.5 853.0,990.1 855.3,997.6 858.5,1006.0 858.2,1008.2 862.4,1018.3 862.2,1020.5 865.6,1029.4 867.0,1034.5 867.4,1040.1 869.9,1049.1 869.4,1053.1 872.1,1062.7 871.2,1065.9 874.0,1075.7 873.2,1079.1 874.8,1086.6 880.6,1090.8 884.1,1090.8 890.4,1095.9 892.2,1100.2 897.1,1109.8 898.6,1113.4 902.0,1120.5 906.3,1127.3 908.6,1130.6 913.8,1138.9 921.3,1143.8 926.4,1144.3 933.3,1148.0 938.1,1145.6 940.6,1138.9 945.0,1135.8 952.0,1142.5 956.7,1144.9 960.0,1151.0 961.5,1153.9 966.7,1163.4 968.4,1166.5 975.0,1160.6 980.7,1173.6 990.4,1166.6 998.8,1175.2 1009.0,1151.6 1021.2,1174.1 1033.7,1168.0 1042.8,1174.8 1054.9,1162.4 1063.4,1175.9 1072.2,1168.4 1080.9,1172.9 1091.0,1152.1 1096.7,1173.1 1108.6,1152.4 1119.7,1173.5 1131.9,1150.9 1143.2,1174.2 1153.2,1167.9 1158.9,1171.7 1164.7,1161.5 1176.9,1174.4 1188.0,1154.3 1200.2,1173.0 1209.1,1148.0 1216.9,1175.0 1225.3,1167.7 1232.1,1173.4 1237.8,1149.7 1245.7,1172.8 1256.9,1168.5 1267.8,1173.8 1273.8,1164.0 1286.3,1171.8 1293.8,1167.4 1303.4,1172.6 1314.9,1164.7 1327.2,1172.2 1334.2,1168.5 1339.9,1172.5 1349.6,1160.4 1360.2,1172.8 1369.9,1145.5 1377.6,1172.8 1384.4,1146.3 1394.3,1174.0 1403.3,1168.3 1410.3,1175.0 1417.5,1161.4 1429.5,1172.5 1438.3,1154.0 1449.0,1175.6 1461.0,1159.7 1468.0,1174.1 1480.1,1167.2 1487.6,1172.6 1499.3,1168.1 1505.8,1174.5 1516.5,1163.5 1527.2,1175.0 1535.5,1168.3 1545.8,1174.6 1558.1,1156.0 1564.0,1172.6 1571.6,1155.2 1579.2,1172.8 1586.0,1166.2 1594.9,1175.0 1606.5,1168.1 1615.8,1176.2 1624.1,1167.9 1634.2,1175.5 1639.9,1168.2 1647.5,1173.4 1653.7,1168.2 1662.1,1176.2 1671.6,1166.2 1683.9,1173.0 1697.5,1151.2 1701.8,1145.8 1704.1,1136.8 1710.1,1134.3 1713.1,1126.6 1714.2,1118.9 1717.4,1115.1 1718.2,1106.9 1721.6,1103.3 1722.3,1095.0 1724.8,1089.8 1731.7,1094.6 1736.5,1095.9 1739.2,1089.6 1744.9,1088.8 1748.2,1083.6 1750.9,1077.4 1755.9,1075.4 1758.0,1068.3 1759.5,1073.7 1762.4,1081.5 1762.7,1084.6 1767.0,1095.1 1766.6,1096.9 1770.1,1105.9 1771.6,1111.3 1776.4,1104.8 1783.3,1102.0 1786.3,1095.4 1792.2,1093.7 1795.0,1086.6 1801.1,1083.1 1804.1,1074.2 1810.6,1071.3 1811.8,1076.2 1815.0,1084.5 1815.3,1087.7 1818.4,1095.9 1821.1,1087.6 1827.4,1085.8 1829.1,1075.7 1834.0,1071.3 1835.2,1063.8 1839.7,1062.1 1840.3,1053.4 1844.4,1051.0 1845.7,1043.7 1849.0,1047.2 1853.5,1052.9 1853.1,1044.4 1855.2,1040.4 1854.2,1030.8 1856.7,1027.4 1855.5,1017.6 1856.8,1012.2 1856.1,1003.1 1857.4,997.6 1865.2,997.6 1865.3,988.8 1868.5,985.6 1868.4,976.4 1871.4,972.8 1870.5,962.3 1873.0,957.7 1873.8,950.2 1877.6,948.2 1878.0,940.2 1880.8,936.2 1880.1,927.4 1882.2,923.5 1881.2,914.0 1883.4,910.3 1881.6,899.6 1883.8,895.9 1882.7,886.3 1884.3,881.6 1883.5,872.6 1884.9,867.5 1884.7,859.4 1886.3,854.0 1885.7,844.7 1888.5,841.4 1887.5,831.3 1890.5,828.4 1889.9,819.1 1892.2,815.0 1892.5,807.2 1894.7,801.4 1898.2,797.9 1900.3,791.9 1901.6,786.4 1901.1,777.7 1903.2,773.5 1902.5,764.4 1905.4,761.7 1904.2,751.9 1906.8,748.7 1906.2,739.6 1907.8,734.7 1908.1,727.4 1910.5,735.5 1910.1,738.6 1912.9,747.4 1912.2,749.9 1915.6,759.7 1916.0,764.3 1917.3,759.0 1915.8,749.0 1918.1,745.6 1916.6,735.7 1918.4,731.4 1917.0,721.5 1919.7,718.8 1917.9,708.1 1920.5,705.4 1919.8,696.7 1921.7,704.2 1921.1,707.3 1923.7,716.1 1923.1,719.3 1926.2,728.9 1925.6,731.9 1927.6,739.7 1927.5,731.5 1929.4,726.9 1928.4,717.0 1930.3,712.5 1929.8,703.5 1931.5,698.6 1931.5,690.6 1930.5,683.0 1932.6,680.8 1930.5,671.4 1932.2,668.4 1931.5,661.4 1933.1,656.8 1931.3,646.2 1933.6,642.7 1932.3,632.9 1934.6,629.6 1933.3,619.7 1935.4,616.0 1933.6,605.3 1936.0,602.2 1935.4,593.5 1937.2,587.0 1941.5,584.8 1943.2,578.2 1946.1,573.0 1946.0,562.3 1950.1,559.4 1951.0,550.6 1953.1,545.6 1952.5,536.0 1954.9,531.5 1954.4,522.0 1956.5,517.2 1956.0,507.5 1958.3,503.1 1958.8,495.3 1960.4,487.4 1965.1,484.9 1966.6,476.9 1968.3,471.8 1966.7,461.0 1969.1,457.3 1967.9,447.1 1970.0,442.8 1969.0,433.1 1970.5,427.7 1974.9,431.7 1978.3,433.9 1980.9,428.6 1986.0,427.7 1987.1,422.1 1986.2,412.9 1988.3,409.0 1987.3,399.7 1989.9,396.7 1988.9,387.2 1990.0,381.7 1997.8,378.6 2000.7,385.7 2000.7,387.5 2004.9,396.8 2005.6,400.0 2005.0,391.2 2007.5,387.7 2006.9,379.0 2009.5,375.7 2007.8,364.9 2009.5,360.2 2013.8,357.9 2017.3,354.0 2019.3,349.2 2019.5,341.0 2021.2,335.6 2023.9,330.4 2029.0,329.4 2030.5,323.9 2030.0,314.8 2032.1,310.5 2031.3,300.8 2033.0,295.7 2035.4,302.6 2036.4,307.2 2040.0,316.2 2040.7,320.2 2041.0,312.6 2043.0,308.1 2042.0,298.1 2044.5,294.5 2044.6,286.5 2044.0,290.8 2046.6,301.0 2045.8,305.0 2047.7,314.0 2046.8,317.9 2048.5,326.4 2050.7,321.3 2050.4,311.9 2053.3,308.1 2052.8,298.1 2056.2,295.2 2056.3,286.5 2057.8,281.0 2060.2,277.2 2066.8,280.0 2072.0,280.3 2076.4,277.2 2079.2,271.2 2083.6,268.0 2089.0,271.8 2095.3,277.2 2096.4,270.4 2100.2,268.3 2100.3,259.7 2103.0,255.7 2106.4,262.2 2107.1,263.9 2111.0,271.1 2112.9,264.0 2117.6,261.7 2118.6,253.1 2122.6,249.6 2127.3,255.1 2129.8,256.5 2134.4,261.9 2139.4,259.8 2141.6,252.8 2146.0,249.6 2150.8,254.3 2153.8,255.7 2156.3,251.7 2155.6,242.1 2157.7,237.3 2161.6,231.2" fill="none" stroke="#FF0000" stroke-width="8" stroke-linejoin="round"/>
<polyline points="371.5,215.1 379.5,214.5 390.8,206.1 398.8,212.5 406.8,215.7 416.9,211.8 423.4,202.5 433.8,203.0 445.5,213.8 457.3,202.7 463.9,212.0 474.6,202.7 478.5,211.4 490.3,204.5 496.4,213.8 504.1,202.0 514.7,213.0 524.4,206.7 533.0,214.2 539.3,202.3 547.0,204.4 557.6,213.5 570.3,214.4 576.7,203.5 584.2,210.9 596.7,210.6 606.9,203.3 616.3,215.6 623.3,212.8 631.9,205.8 638.2,212.8 645.6,204.9 656.4,236.2 655.8,241.8 656.4,249.6 661.1,257.1 663.6,260.8 668.4,268.6 672.0,274.2 675.2,278.1 680.1,285.0 683.7,289.5 685.4,295.2 689.6,305.0 691.5,311.0 691.9,316.2 694.0,324.2 693.6,327.9 695.4,335.6 703.2,332.5 707.4,337.7 711.0,341.7 712.3,348.2 715.6,358.3 716.0,363.2 718.8,372.4 721.1,379.3 722.2,383.9 725.1,391.7 726.6,397.0 728.2,402.5 731.1,410.3 731.6,413.9 734.4,421.6 737.8,428.7 739.7,432.9 743.6,440.8 746.0,446.1 748.4,454.3 748.9,459.2 751.1,466.9 751.6,471.8 754.0,479.9 755.8,485.1 759.2,493.2 760.4,497.4 763.7,505.2 765.6,510.6 768.0,519.2 768.9,524.9 771.9,534.5 773.4,541.3 775.6,545.9 779.3,553.1 781.0,556.7 782.6,564.0 782.5,568.4 784.3,576.2 785.0,581.9 788.5,587.9 793.4,596.5 797.0,602.8 799.9,610.2 801.5,615.2 804.6,623.0 805.7,629.1 808.9,639.1 809.7,644.8 812.4,653.7 816.9,656.5 823.2,662.5 828.0,666.0 829.6,674.3 829.8,679.9 832.2,689.5 832.9,696.2 835.0,705.3 835.8,712.0 842.0,714.2 847.5,715.1 849.1,722.1 852.1,731.8 852.6,736.8 855.3,745.8 858.8,752.9 860.8,757.4 864.5,765.1 867.0,770.4 866.9,776.6 868.6,786.0 868.0,791.4 869.8,801.0 869.0,805.9 870.5,815.0 869.9,820.5 871.0,828.7 872.7,833.8 876.4,842.3 877.2,845.8 880.8,854.2 882.6,859.4 884.2,866.6 887.1,875.8 887.9,881.5 890.9,891.1 892.0,897.2 894.3,905.5 894.8,912.3 896.8,921.8 896.9,927.9 898.2,936.2 900.0,939.9 903.8,947.1 906.0,951.6 907.7,959.0 908.2,964.2 910.7,972.8 910.6,976.9 913.3,986.2 913.8,991.3 914.9,997.9 917.7,1007.5 918.2,1013.0 920.7,1022.1 921.6,1028.3 923.2,1033.9 925.9,1041.3 926.9,1045.6 929.4,1052.8 933.6,1058.5 936.6,1062.0 941.1,1068.3 944.4,1071.8 949.0,1077.5 950.4,1083.6 953.2,1092.4 954.4,1098.3 957.3,1107.1 957.9,1111.9 960.6,1120.5 960.8,1126.0 963.5,1135.6 963.2,1140.2 965.7,1149.6 965.8,1154.9 967.9,1163.6 968.4,1169.6 970.5,1163.8 970.2,1153.9 972.7,1148.8 973.3,1140.3 975.3,1134.6 976.2,1126.6 985.0,1165.3 991.8,1173.0 1003.8,1158.3 1015.6,1169.4 1028.2,1153.9 1038.0,1169.8 1043.5,1154.9 1053.4,1171.8 1064.4,1138.0 1070.0,1171.7 1076.0,1142.0 1085.2,1168.5 1093.5,1142.3 1105.3,1172.9 1114.4,1149.4 1124.7,1170.8 1135.6,1164.1 1142.7,1171.4 1153.4,1135.1 1159.3,1173.2 1166.9,1160.2 1177.3,1173.2 1184.2,1159.5 1196.1,1172.5 1204.5,1162.4 1215.7,1169.5 1223.7,1165.3 1230.7,1170.6 1239.7,1145.7 1249.6,1169.6 1257.8,1162.9 1264.2,1169.3 1276.5,1144.4 1288.0,1171.9 1295.3,1146.9 1304.6,1172.2 1314.2,1151.2 1320.5,1172.6 1331.0,1154.0 1338.2,1171.6 1346.6,1163.3 1357.5,1171.8 1368.7,1134.2 1377.0,1171.3 1383.0,1150.4 1394.3,1170.5 1399.8,1148.2 1408.0,1169.4 1418.9,1159.1 1427.9,1171.3 1436.6,1149.7 1444.0,1169.6 1452.8,1143.9 1460.5,1169.4 1467.8,1160.6 1474.3,1170.7 1483.8,1134.2 1489.9,1169.8 1496.4,1159.9 1508.0,1169.3 1517.1,1158.6 1528.5,1171.1 1541.1,1141.4 1553.1,1172.2 1559.3,1164.8 1571.7,1169.4 1577.6,1152.3 1587.3,1169.3 1600.0,1145.0 1606.4,1142.9 1611.7,1138.9 1617.9,1142.6 1623.4,1145.0 1626.8,1149.3 1632.0,1156.7 1635.1,1160.4 1639.7,1154.5 1645.6,1151.0 1649.0,1143.0 1654.6,1138.9 1663.0,1136.9 1670.2,1132.8 1672.6,1140.9 1672.8,1145.4 1675.5,1154.2 1676.0,1159.0 1678.0,1166.5 1683.4,1162.8 1689.7,1160.4 1690.3,1152.8 1692.2,1147.5 1691.9,1138.4 1694.1,1133.7 1693.8,1124.5 1695.9,1119.6 1695.7,1110.5 1697.5,1105.1 1700.6,1099.1 1705.3,1095.9 1707.4,1089.4 1707.8,1080.1 1710.8,1075.3 1710.7,1064.9 1713.1,1059.1 1718.8,1054.8 1723.0,1048.0 1728.7,1043.7 1731.0,1038.2 1731.9,1030.1 1734.9,1025.9 1736.5,1019.1 1737.9,1024.3 1740.8,1032.1 1741.9,1036.8 1744.7,1044.3 1746.3,1049.8 1746.5,1041.9 1748.2,1036.6 1747.7,1027.4 1749.5,1022.3 1749.2,1013.5 1750.9,1008.1 1750.4,999.0 1752.0,993.4 1752.1,985.4 1752.8,990.6 1755.9,999.9 1756.3,1004.6 1759.0,1013.4 1760.0,1019.1 1764.9,1023.8 1771.6,1031.5 1773.2,1024.8 1773.6,1016.1 1776.0,1010.8 1776.2,1001.8 1778.7,996.6 1779.4,988.4 1783.8,986.2 1787.2,982.3 1787.6,973.5 1789.8,968.2 1789.5,958.1 1791.5,952.4 1791.7,943.3 1793.7,937.3 1793.7,927.9 1795.0,920.9 1795.5,911.7 1797.9,906.0 1798.1,896.4 1800.8,891.3 1800.6,880.9 1802.8,874.8 1807.2,870.6 1810.2,863.9 1814.5,859.4 1815.2,851.6 1816.8,845.5 1817.0,836.8 1819.3,831.8 1818.5,821.5 1821.0,816.8 1820.7,807.2 1822.3,801.1 1825.2,795.3 1825.9,785.6 1829.5,780.9 1830.9,772.4 1833.8,766.7 1835.2,758.1 1837.9,752.0 1839.2,745.6 1839.0,736.6 1841.3,732.0 1840.7,722.1 1842.7,717.0 1842.5,708.0 1844.3,702.5 1844.0,693.2 1845.7,687.5 1847.3,682.0 1846.9,673.1 1849.3,669.1 1849.6,661.4 1850.9,655.7 1850.2,646.3 1852.0,641.6 1851.5,632.6 1853.0,627.1 1852.1,617.5 1853.5,612.0 1858.2,608.8 1861.3,602.8 1862.1,594.1 1864.3,588.1 1864.6,578.7 1866.8,572.6 1867.5,563.8 1869.1,556.7 1871.0,549.9 1871.6,540.8 1874.3,535.5 1874.5,525.8 1876.9,519.8 1879.3,514.4 1880.1,506.3 1883.4,502.5 1884.7,495.3 1887.2,490.2 1888.2,482.2 1891.4,478.3 1892.5,470.7 1893.8,475.7 1896.4,483.0 1897.5,477.1 1896.4,467.2 1898.1,462.4 1897.3,453.0 1898.9,448.0 1898.0,438.6 1899.2,432.8 1898.7,424.1 1900.1,418.5 1899.3,409.3 1900.3,403.1 1904.9,407.5 1908.1,409.3 1910.3,403.0 1910.8,393.7 1913.7,388.7 1913.8,378.7 1916.0,372.4 1918.3,365.5 1919.4,356.3 1922.4,350.6 1923.7,341.7 1925.5,349.4 1924.9,352.7 1927.0,360.8 1927.6,366.3 1928.8,359.3 1928.8,350.3 1930.6,344.5 1930.6,335.4 1932.4,329.7 1932.0,319.8 1934.1,314.4 1933.7,304.7 1935.4,298.7 1938.5,291.1 1943.2,286.5 1945.0,280.3 1945.2,271.1 1947.1,265.0 1949.2,271.1 1952.7,279.8 1955.0,286.5 1957.8,281.1 1958.6,272.2 1961.4,266.9 1962.7,258.8 1967.7,244.1 1975.8,223.4 1985.9,243.7 1993.9,220.1 2001.4,241.3 2010.2,222.1 2021.2,227.1 2030.5,242.7 2035.2,218.7 2042.9,215.0 2055.2,235.9 2062.1,227.1 2069.1,247.6 2078.7,222.2 2087.0,218.0 2095.4,237.5 2105.2,218.2 2115.3,245.2 2124.5,238.3 2134.4,226.9 2143.2,246.0 2149.3,241.8 2159.6,227.0" fill="none" stroke="#008000" stroke-width="8" stroke-linejoin="round"/>
<polyline points="373.2,222.1 383.7,216.0 394.1,210.9 404.6,217.1 413.1,212.2 422.9,215.9 432.7,210.5 440.0,216.5 448.3,208.4 457.5,219.7 465.1,217.9 475.1,210.8 482.3,218.6 489.1,210.1 496.8,219.6 504.0,211.5 510.7,219.2 518.0,211.0 523.6,217.0 533.2,210.4 543.4,218.2 554.2,208.8 559.9,216.7 567.7,212.4 575.9,219.3 585.6,211.0 597.7,218.0 609.8,211.3 617.2,208.0 623.7,218.7 632.9,215.9 642.3,210.5 648.1,216.8 661.6,221.3 669.7,208.3 679.0,210.7 688.0,218.7 695.8,208.2 701.8,219.6 709.0,212.1 716.8,216.0 726.6,234.3 734.7,237.9 742.2,240.4 745.5,247.8 746.7,251.5 750.0,258.8 751.5,265.9 751.2,269.7 753.6,278.3 754.0,283.5 760.4,290.6 765.6,295.7 767.8,303.5 768.2,308.3 770.9,317.0 771.6,322.2 773.4,329.4 774.5,334.2 778.0,343.0 778.5,346.5 781.2,354.0 781.9,360.2 784.3,369.3 784.4,374.2 786.8,383.4 787.2,389.0 789.0,397.0 792.6,399.6 796.8,403.1 797.3,409.3 800.0,419.5 800.1,425.0 802.5,434.7 802.8,440.6 804.6,449.2 807.0,457.7 808.1,463.9 811.0,473.2 812.4,479.9 814.2,483.6 817.9,490.7 820.2,495.3 824.8,501.5 827.2,504.0 832.0,510.6 833.7,517.0 837.4,526.8 838.6,532.0 841.5,540.6 843.6,547.5 844.9,553.0 847.8,561.4 848.8,566.2 852.0,575.2 852.6,579.4 855.3,587.4 859.5,595.1 862.7,601.0 867.0,608.9 871.0,613.8 874.6,621.9 876.4,626.8 880.6,636.0 882.6,641.4 885.4,650.1 886.1,655.3 889.3,664.8 890.0,669.9 893.0,679.0 893.9,684.4 897.0,693.7 898.2,699.8 900.1,705.2 903.9,714.0 905.6,719.1 909.1,727.2 910.4,731.6 913.8,739.7 915.4,746.2 918.0,754.6 919.1,760.1 922.4,769.7 922.9,774.3 925.5,782.7 927.1,789.8 929.9,799.0 930.9,804.9 933.3,813.4 935.4,822.6 935.1,827.3 937.7,837.3 937.6,842.5 940.2,852.5 941.1,859.4 944.5,863.1 949.0,868.7 951.4,877.6 951.3,882.1 954.3,892.0 954.5,897.0 956.7,905.5 956.9,911.0 959.3,920.5 959.1,925.3 961.2,934.2 961.1,939.0 962.9,947.5 963.2,953.2 964.5,960.6 965.4,966.6 968.0,975.5 968.5,980.8 970.9,989.4 971.0,993.8 974.0,1003.4 974.1,1007.9 976.2,1016.1 978.3,1021.7 981.2,1028.8 983.0,1033.9 986.3,1041.8 988.0,1046.8 989.2,1052.4 992.7,1062.4 993.3,1067.0 996.4,1076.1 997.7,1082.1 1000.0,1089.8 1000.9,1096.4 1003.3,1105.6 1003.2,1110.4 1005.6,1119.7 1005.9,1125.2 1008.0,1133.9 1010.0,1143.3 1018.4,1170.5 1028.4,1107.3 1039.0,1171.9 1049.0,1095.6 1056.9,1171.0 1065.2,1160.0 1070.2,1169.9 1077.7,1162.7 1087.0,1169.9 1094.9,1081.6 1105.1,1170.6 1113.0,1164.1 1118.0,1171.1 1123.1,1106.9 1128.7,1169.6 1138.4,1157.6 1147.9,1168.6 1155.9,1133.3 1162.2,1170.0 1172.4,1152.4 1178.6,1170.6 1185.9,1133.9 1194.1,1171.2 1200.5,1125.3 1208.8,1172.4 1215.3,1158.4 1222.2,1172.3 1229.9,1140.7 1238.2,1168.9 1244.8,1079.1 1252.7,1171.6 1258.2,1161.4 1269.3,1168.9 1278.9,1159.3 1287.5,1170.7 1293.6,1135.1 1304.8,1171.3 1314.2,1165.3 1324.9,1170.8 1333.5,1134.7 1339.6,1169.7 1349.3,1071.3 1358.9,1173.2 1367.3,1146.7 1375.6,1168.9 1380.7,1162.5 1388.9,1172.8 1397.1,1126.2 1405.6,1168.8 1414.8,1089.2 1419.7,1172.8 1428.3,1126.4 1433.4,1171.4 1442.6,1085.2 1448.8,1169.8 1459.7,1071.1 1467.3,1171.7 1473.4,1096.4 1484.4,1169.4 1491.4,1078.6 1499.2,1151.2 1501.5,1143.9 1505.8,1140.2 1507.5,1131.8 1511.0,1126.6 1516.0,1125.3 1522.6,1126.6 1527.4,1121.7 1533.8,1119.8 1538.2,1114.2 1542.8,1109.1 1548.9,1106.6 1553.8,1102.0 1559.6,1099.1 1563.4,1092.4 1569.4,1089.8 1576.6,1085.6 1585.0,1083.5 1589.6,1078.6 1592.8,1071.3 1597.3,1066.1 1603.9,1064.3 1608.4,1059.1 1613.1,1054.3 1615.8,1046.0 1620.5,1041.4 1624.0,1034.5 1630.0,1030.5 1634.4,1023.6 1640.0,1018.9 1640.5,1025.3 1642.7,1034.7 1642.9,1040.6 1650.4,1040.1 1658.5,1040.6 1659.8,1045.6 1663.1,1054.0 1663.6,1057.6 1667.2,1066.7 1668.3,1071.3 1672.3,1077.7 1674.4,1081.0 1678.9,1088.2 1681.9,1092.9 1688.2,1095.3 1693.6,1095.9 1693.6,1086.9 1696.2,1082.4 1695.3,1071.9 1697.7,1067.1 1697.6,1057.7 1699.4,1051.9 1699.0,1042.2 1701.1,1036.8 1701.4,1028.3 1702.5,1021.7 1701.7,1011.8 1703.2,1005.9 1702.9,996.8 1704.1,990.5 1703.6,981.0 1705.3,975.5 1704.6,965.6 1706.2,959.9 1705.8,950.7 1707.0,944.4 1706.5,934.9 1708.2,929.4 1707.8,920.2 1709.4,914.4 1709.2,905.5 1710.8,897.1 1713.5,890.9 1714.2,881.0 1717.0,874.8 1724.8,874.8 1725.3,866.7 1727.8,862.2 1727.4,852.4 1730.0,848.1 1729.9,838.9 1732.3,834.1 1732.6,825.7 1737.3,824.0 1740.4,819.5 1741.7,812.3 1744.8,808.0 1745.5,799.8 1748.2,795.0 1750.0,789.8 1750.1,781.4 1752.1,776.5 1752.1,768.0 1754.1,762.9 1753.6,753.2 1755.3,747.6 1754.5,737.6 1756.3,732.1 1756.0,723.1 1757.3,716.7 1757.1,707.7 1758.4,701.4 1758.0,691.9 1760.1,687.1 1760.0,678.3 1765.3,675.9 1771.6,675.2 1772.8,668.6 1772.5,659.5 1774.5,654.4 1774.1,645.1 1775.9,639.7 1775.9,631.1 1777.5,625.2 1777.2,616.1 1778.9,610.6 1779.4,602.8 1780.7,595.9 1780.4,586.4 1782.6,581.3 1781.8,570.8 1783.9,565.5 1783.4,555.5 1785.4,550.0 1785.3,540.7 1787.2,535.1 1787.2,526.0 1787.8,517.7 1789.6,511.4 1789.4,501.7 1791.7,496.3 1791.2,486.1 1793.6,481.0 1793.3,471.0 1795.0,464.6 1798.3,459.1 1800.5,451.7 1804.4,447.3 1806.7,440.0 1813.3,435.1 1818.4,427.7 1819.7,420.5 1822.9,416.5 1823.5,407.9 1826.2,403.1 1828.1,396.4 1828.8,387.5 1831.7,382.6 1831.8,372.5 1834.0,366.3 1837.6,359.6 1841.8,354.0 1843.4,348.9 1842.9,340.3 1845.4,336.8 1845.7,329.4 1850.3,324.6 1853.5,317.2 1855.2,311.8 1855.3,303.4 1857.4,298.7 1858.8,290.1 1861.8,284.3 1862.4,274.2 1865.2,268.0 1869.6,265.8 1873.0,261.9 1877.2,259.4 1880.8,255.7 1884.1,230.0 1897.4,218.3 1903.2,229.1 1912.2,212.8 1918.5,229.3 1926.9,214.6 1937.3,231.7 1947.8,212.1 1954.5,233.3 1966.9,216.8 1976.4,231.8 1988.9,215.3 1994.9,230.4 2004.6,225.4 2010.2,216.7 2018.7,225.1 2027.8,217.0 2038.8,218.3 2050.3,227.6 2056.9,216.1 2066.6,239.1 2074.7,230.0 2083.6,216.2 2092.0,229.5 2099.5,214.3 2109.2,237.5 2120.0,219.1 2128.1,227.8 2136.6,231.6 2144.9,214.2 2155.2,228.6" fill="none" stroke="#FF8000" stroke-width="8" stroke-linejoin="round"/>
<polyline points="372.2,214.1 379.8,207.6 389.2,216.0 396.8,208.3 402.3,214.8 410.0,207.8 418.0,206.0 429.5,217.3 436.9,208.0 449.3,217.0 459.4,206.6 467.0,214.8 475.6,205.3 482.2,207.1 490.2,214.8 501.5,217.7 511.4,215.0 523.1,205.7 528.5,213.6 540.2,208.4 550.0,206.4 558.4,218.0 567.7,207.7 575.4,218.0 585.8,213.7 593.2,207.6 604.6,216.5 614.6,206.1 622.5,217.5 633.1,208.2 641.6,217.8 655.1,205.3 661.3,216.6 671.5,206.9 679.1,216.8 687.2,203.8 698.0,216.6 706.0,206.3 709.0,201.6 711.0,195.3 714.0,190.6 717.5,197.3 718.5,199.5 722.0,206.3 727.6,214.6 737.4,209.5 744.4,216.1 756.2,208.5 766.5,219.4 776.0,206.4 781.5,219.3 794.0,208.6 801.6,215.8 809.0,206.4 816.3,237.3 819.7,242.8 824.0,249.6 826.4,256.4 827.5,261.0 830.7,269.3 832.0,274.2 836.5,281.5 839.7,286.5 841.4,292.1 844.0,299.4 844.8,303.6 847.5,311.0 848.0,316.4 850.3,324.7 849.8,328.3 851.4,335.6 854.1,343.0 854.9,347.2 857.7,354.9 859.2,360.2 860.9,367.4 863.9,376.9 864.6,382.3 867.0,390.9 868.9,397.4 872.3,406.7 873.6,412.3 877.0,421.5 878.7,427.7 880.3,436.5 880.4,442.6 882.3,452.0 882.6,458.4 885.3,467.5 885.9,472.8 889.1,482.7 890.4,489.1 893.3,496.9 894.7,501.9 898.2,510.6 899.9,514.2 904.1,522.1 906.0,526.0 910.4,533.0 913.8,538.3 916.9,543.0 922.3,551.9 925.5,556.7 927.9,565.1 928.9,571.2 931.6,580.2 933.3,587.4 935.7,594.9 936.8,600.0 939.5,607.9 941.0,613.8 942.6,619.1 946.0,627.8 946.9,632.1 950.2,640.6 951.9,646.2 954.8,653.9 956.7,659.8 958.6,665.3 962.1,673.4 963.3,677.5 966.8,685.8 968.4,690.6 970.4,698.3 970.9,703.1 974.3,713.2 974.2,717.2 977.2,726.6 977.7,731.6 980.0,739.7 982.7,748.2 983.4,753.1 986.5,762.3 987.2,767.2 990.7,777.0 991.8,782.7 995.1,788.7 996.4,791.4 1000.0,798.0 1001.5,806.2 1001.9,812.6 1003.8,821.6 1003.8,827.3 1006.4,837.4 1006.2,842.7 1008.5,852.3 1008.8,858.5 1011.3,868.5 1011.7,874.8 1013.7,883.8 1013.4,888.6 1016.4,899.2 1016.5,904.9 1018.8,914.2 1019.5,920.9 1019.7,927.5 1021.8,937.6 1021.4,943.1 1023.0,952.2 1022.6,957.8 1024.8,968.0 1024.3,973.4 1026.3,983.3 1025.9,988.8 1027.3,997.6 1028.3,1005.4 1028.2,1011.3 1029.8,1020.1 1029.6,1025.8 1031.3,1034.9 1031.2,1040.6 1032.8,1035.0 1032.2,1025.3 1034.1,1020.2 1034.1,1011.7 1036.0,1006.6 1035.3,996.8 1037.0,991.3 1038.6,999.5 1039.0,1005.5 1041.4,1014.9 1041.4,1020.3 1043.0,1028.3 1044.3,1037.2 1043.6,1042.4 1045.3,1052.1 1045.0,1058.0 1046.5,1067.2 1046.3,1073.5 1047.8,1082.6 1047.5,1088.7 1049.3,1098.4 1048.8,1104.1 1050.9,1114.3 1050.7,1120.5 1055.0,1132.3 1061.3,1167.2 1069.6,1110.9 1079.3,1168.9 1086.6,1117.0 1096.1,1168.3 1102.7,1083.3 1108.6,1167.8 1116.3,1120.7 1122.9,1170.8 1128.8,1124.8 1139.9,1167.9 1145.0,1090.9 1154.6,1167.6 1160.0,1159.2 1168.1,1167.6 1177.9,1146.8 1186.7,1170.6 1193.1,1163.2 1198.5,1168.8 1208.8,1122.4 1215.7,1169.4 1224.7,1148.2 1234.9,1171.0 1243.4,1152.8 1253.4,1168.0 1262.0,1100.4 1268.6,1167.4 1275.9,1159.0 1286.6,1170.6 1294.9,1148.1 1301.9,1171.1 1312.1,1080.2 1317.7,1168.5 1327.0,1090.0 1332.9,1170.1 1343.5,1123.5 1354.1,1167.4 1363.3,1075.8 1372.9,1171.5 1381.6,1124.8 1391.1,1169.0 1396.6,1125.6 1403.9,1169.9 1414.3,1094.0 1423.4,1168.5 1434.1,1158.6 1440.9,1167.3 1448.1,1126.0 1459.3,1170.4 1465.8,1139.1 1473.3,1171.2 1479.7,1144.9 1483.1,1139.7 1484.9,1131.5 1489.3,1128.1 1491.4,1120.5 1494.4,1115.3 1495.4,1106.5 1498.8,1102.0 1499.8,1093.3 1503.2,1088.7 1504.0,1079.6 1507.0,1074.4 1509.9,1068.3 1511.8,1060.5 1515.5,1055.6 1516.7,1046.6 1520.8,1042.6 1522.6,1034.5 1527.7,1027.0 1534.3,1022.0 1536.0,1014.9 1538.8,1009.8 1539.6,1001.1 1542.8,996.8 1543.6,988.1 1546.0,982.3 1548.6,975.2 1552.6,970.5 1555.1,963.3 1559.0,958.6 1561.6,951.6 1564.3,945.2 1565.5,936.2 1566.3,928.3 1568.4,922.5 1568.0,912.3 1570.4,907.2 1570.7,898.2 1572.7,892.4 1573.3,884.0 1578.3,878.4 1584.0,874.3 1589.0,868.7 1591.3,861.5 1592.4,852.3 1595.5,846.7 1596.7,837.8 1600.0,831.8 1605.3,826.2 1611.7,822.6 1612.4,815.9 1614.4,811.6 1614.1,803.2 1615.6,798.0 1618.9,792.1 1620.1,782.5 1623.4,776.5 1632.1,778.1 1639.0,776.5 1641.5,781.8 1644.9,788.8 1647.2,783.3 1648.2,775.5 1650.7,770.4 1653.1,778.4 1654.0,783.7 1657.2,793.0 1658.0,798.2 1661.1,807.4 1662.4,813.4 1664.1,822.3 1663.6,827.4 1665.7,837.1 1666.3,844.1 1668.7,852.7 1669.3,858.0 1672.9,868.6 1674.0,874.8 1675.2,882.8 1675.0,888.5 1676.6,897.4 1676.2,902.6 1678.3,912.3 1677.7,917.2 1679.6,926.5 1678.9,931.3 1681.4,941.7 1680.5,946.1 1682.0,954.6 1682.2,946.5 1684.0,941.2 1683.5,931.8 1685.5,926.8 1684.6,916.8 1686.9,912.3 1686.2,902.6 1688.4,898.0 1687.5,888.0 1689.8,883.5 1689.7,874.8 1690.5,867.7 1689.9,858.1 1691.7,852.7 1690.8,842.6 1692.7,837.4 1692.0,827.6 1693.5,821.7 1692.9,812.2 1694.8,807.0 1693.7,796.5 1695.4,790.9 1695.1,781.9 1696.9,776.5 1696.0,766.3 1697.4,760.3 1697.5,752.0 1697.5,743.7 1698.5,737.4 1697.5,727.4 1699.5,722.8 1698.5,712.8 1700.1,707.4 1698.8,696.8 1700.4,691.6 1699.7,682.1 1701.2,676.6 1700.0,666.3 1701.5,660.7 1701.0,651.5 1702.3,645.7 1701.4,635.9 1702.9,630.4 1702.0,620.6 1703.5,615.0 1702.2,604.6 1703.4,598.4 1704.6,593.4 1705.3,587.4 1706.5,580.8 1705.7,570.6 1707.4,564.9 1707.4,556.2 1708.7,549.9 1708.5,540.7 1710.3,535.1 1709.6,525.2 1711.3,519.5 1711.2,510.6 1713.9,505.8 1714.6,497.4 1717.0,492.1 1722.1,484.7 1728.7,479.9 1729.4,471.7 1731.3,465.8 1731.1,455.9 1732.6,449.2 1734.6,442.8 1734.6,432.7 1737.0,427.1 1737.0,417.2 1739.9,412.2 1740.4,403.1 1742.6,396.0 1743.6,386.5 1746.8,381.1 1748.2,372.4 1751.0,367.7 1751.8,359.7 1754.0,354.0 1756.3,357.3 1760.0,363.2 1761.7,357.6 1761.1,348.0 1763.5,343.7 1763.8,335.6 1765.7,329.5 1765.9,320.4 1767.7,314.2 1770.2,321.3 1771.3,325.8 1773.6,332.5 1773.7,324.0 1775.6,318.9 1775.2,309.6 1777.3,304.7 1776.8,295.3 1778.2,289.3 1778.1,280.5 1779.4,274.2 1787.2,274.2 1788.7,265.7 1791.0,258.8 1795.4,264.7 1798.2,267.8 1802.8,274.2 1804.6,269.4 1804.2,260.8 1806.1,256.4 1806.7,249.6 1810.6,230.1 1818.0,210.6 1827.4,212.3 1836.9,233.4 1842.9,210.6 1854.7,234.8 1865.8,214.4 1876.0,230.7 1887.6,215.8 1895.9,234.3 1905.9,212.5 1915.4,233.7 1924.2,211.4 1931.3,203.5 1940.5,212.9 1948.5,235.4 1958.4,230.0 1964.5,215.8 1976.5,228.4 1984.1,213.7 1991.0,230.3 1997.9,225.9 2007.8,211.4 2019.0,235.5 2025.7,217.8 2035.1,227.8 2043.0,209.4 2052.9,231.0 2061.7,200.8 2070.7,212.2 2079.3,225.7 2088.0,216.6 2098.4,231.4 2109.8,211.9 2119.9,229.0 2125.8,234.6 2135.0,216.0 2141.6,235.6 2152.4,207.9 2160.8,233.7" fill="none" stroke="#FF00FF" stroke-width="8" stroke-linejoin="round"/>
<polyline points="372.9,214.8 378.5,210.1 389.8,215.1 399.0,215.7 406.3,208.0 417.0,209.4 423.7,207.4 433.8,206.8 443.8,215.3 454.9,210.2 466.2,217.9 472.6,207.6 481.2,214.5 489.9,208.9 498.8,215.6 507.8,208.4 512.3,218.5 522.6,210.5 533.4,210.5 541.0,215.9 546.7,215.7 557.9,208.1 568.1,217.0 576.6,206.9 584.9,217.1 593.8,210.2 601.3,214.5 610.7,209.2 621.3,217.7 627.9,210.0 638.5,206.8 649.5,210.0 657.3,215.4 667.2,210.4 672.8,218.3 680.7,206.5 689.6,218.6 697.9,209.8 708.3,209.1 719.5,216.2 727.0,210.3 737.2,217.9 745.2,206.6 755.8,217.8 762.6,210.0 770.0,215.8 780.0,209.5 787.9,215.4 797.1,210.9 803.7,218.6 810.6,206.4 817.3,217.4 830.3,209.0 839.3,215.5 845.6,209.5 858.2,208.8 867.8,210.2 874.8,231.2 879.6,235.5 885.6,242.1 890.4,246.5 892.8,254.2 893.7,259.3 896.7,268.0 898.2,274.2 901.2,281.5 902.6,285.9 906.1,294.0 906.8,297.2 910.0,304.9 912.2,313.4 912.3,318.2 915.0,327.7 915.3,332.8 917.7,341.7 919.9,349.9 921.3,356.6 924.0,365.6 925.5,372.4 928.1,381.3 928.8,386.7 932.1,396.8 933.3,403.1 934.1,408.5 936.2,416.0 937.2,421.6 938.7,428.4 941.9,438.4 942.7,444.1 945.0,452.3 948.7,460.6 950.1,464.8 954.1,473.6 956.7,479.9 957.9,486.2 961.3,496.5 961.8,501.7 964.5,510.6 970.9,511.6 976.2,510.6 977.9,515.6 981.2,523.4 982.9,528.4 986.1,536.0 988.0,541.3 994.5,543.7 1000.0,544.4 1001.6,553.2 1001.2,558.4 1003.3,568.1 1002.4,572.5 1004.0,581.3 1005.7,587.7 1005.7,591.3 1007.8,598.4 1010.4,607.3 1011.0,612.5 1014.2,622.5 1015.6,629.1 1016.1,635.0 1018.4,644.3 1018.6,649.5 1020.8,658.6 1020.5,663.0 1022.6,671.8 1023.4,678.3 1024.4,686.1 1024.1,691.6 1025.8,700.6 1025.6,706.2 1027.0,714.7 1027.3,721.3 1032.6,723.4 1039.0,727.4 1040.1,735.4 1039.1,739.7 1041.0,749.0 1040.1,753.6 1042.1,763.1 1041.2,767.6 1042.8,776.5 1042.9,782.7 1044.1,790.8 1043.5,795.7 1045.0,804.5 1044.6,809.8 1046.2,818.6 1045.3,823.1 1047.2,832.4 1046.8,837.8 1051.9,839.5 1058.5,844.1 1059.5,850.6 1061.8,859.5 1062.4,865.4 1063.6,874.0 1062.4,878.1 1064.1,887.6 1063.3,892.6 1064.8,901.5 1064.3,907.1 1065.6,915.8 1065.1,921.2 1066.6,930.4 1066.3,936.2 1071.5,931.8 1078.0,929.9 1079.2,938.7 1078.4,944.1 1079.8,953.3 1079.4,959.3 1080.6,968.2 1079.8,973.6 1081.7,983.6 1080.8,988.8 1082.0,997.6 1085.3,1005.0 1086.5,1008.5 1089.7,1015.7 1089.7,1021.8 1091.8,1031.6 1091.2,1036.6 1093.1,1046.0 1092.1,1050.3 1093.6,1059.1 1095.4,1067.2 1095.5,1072.1 1098.3,1082.0 1098.1,1086.4 1100.4,1095.5 1101.4,1102.0 1105.0,1160.1 1112.7,1166.6 1122.3,1107.0 1130.7,1166.1 1136.0,1126.4 1144.0,1167.2 1153.8,1095.7 1163.5,1166.6 1172.3,1129.8 1181.4,1168.3 1187.7,1103.5 1195.2,1167.8 1201.2,1096.8 1207.2,1168.8 1212.9,1124.3 1221.4,1168.1 1232.0,1155.7 1237.7,1167.0 1247.8,1044.0 1258.5,1167.1 1269.4,1082.0 1279.7,1168.2 1289.9,1109.5 1298.2,1165.6 1309.4,1044.8 1314.2,1168.3 1325.1,1077.9 1335.8,1168.8 1344.9,1161.2 1355.1,1164.9 1363.6,1159.3 1374.5,1166.6 1384.9,1065.0 1391.1,1168.1 1402.0,1080.6 1410.2,1164.7 1416.7,1066.3 1426.0,1166.3 1431.2,1103.9 1440.7,1120.5 1442.6,1113.7 1443.0,1104.2 1445.8,1098.9 1446.5,1090.1 1448.5,1083.5 1449.7,1074.5 1453.0,1069.3 1453.8,1059.4 1456.3,1052.8 1458.5,1045.3 1462.4,1041.0 1464.3,1033.1 1468.0,1028.3 1470.6,1021.3 1475.0,1017.4 1476.7,1008.8 1481.3,1005.3 1483.6,997.6 1485.2,990.1 1488.9,986.5 1490.1,978.2 1493.7,974.4 1495.3,966.9 1496.0,957.9 1498.7,952.4 1498.9,942.4 1501.4,936.8 1501.9,927.3 1504.5,921.5 1504.9,912.1 1507.0,905.5 1508.5,897.1 1511.2,890.7 1512.1,881.2 1514.8,874.8 1516.1,867.7 1516.5,858.9 1518.4,852.9 1518.1,843.0 1520.5,838.0 1520.2,827.9 1522.4,822.5 1522.6,813.4 1525.3,807.9 1526.7,800.1 1530.1,795.8 1531.6,788.3 1534.3,782.7 1535.3,774.1 1537.6,768.1 1537.8,758.1 1540.9,753.3 1540.8,742.9 1543.4,737.3 1543.9,727.8 1546.0,721.3 1547.6,714.8 1547.2,704.6 1549.4,699.1 1549.0,689.0 1551.2,683.4 1551.4,674.3 1553.7,669.0 1553.8,659.8 1554.4,652.0 1556.6,647.2 1556.5,638.2 1558.5,633.0 1558.7,624.4 1561.0,619.7 1561.6,612.0 1563.1,606.0 1563.2,597.5 1565.4,592.7 1564.8,583.1 1566.9,578.2 1567.2,570.0 1569.1,564.8 1569.4,556.7 1571.0,548.4 1573.9,542.4 1574.5,532.3 1577.2,526.0 1580.4,522.0 1581.8,514.7 1585.0,510.6 1589.6,504.7 1592.4,495.6 1596.7,489.1 1599.2,482.2 1603.0,477.6 1604.8,469.6 1608.4,464.6 1613.4,460.1 1620.0,458.4 1622.5,466.2 1623.7,471.7 1626.6,480.2 1628.0,486.1 1631.4,490.0 1636.6,497.0 1640.0,500.8 1643.0,501.4 1645.3,494.9 1646.3,486.1 1649.3,480.8 1650.5,472.3 1653.4,466.9 1654.6,458.4 1657.4,466.6 1658.5,471.8 1662.4,481.9 1663.6,487.3 1666.3,495.3 1669.0,502.7 1670.2,507.4 1674.2,517.1 1675.1,521.4 1678.0,529.1 1679.3,523.2 1679.0,514.5 1681.3,510.4 1680.9,501.5 1682.0,495.3 1681.6,486.1 1683.6,481.1 1683.1,471.7 1684.4,465.5 1683.7,455.6 1685.2,449.8 1684.7,440.4 1685.8,433.9 1686.2,425.7 1687.8,419.7 1687.0,409.6 1688.8,403.8 1688.7,394.8 1690.1,388.6 1690.1,379.6 1691.5,373.3 1691.2,363.9 1692.7,357.7 1692.3,348.2 1693.6,341.7 1695.7,333.8 1699.5,328.7 1701.4,320.2 1702.7,313.9 1701.5,303.1 1703.0,297.2 1702.6,287.9 1704.2,282.2 1703.3,271.9 1705.2,266.6 1704.4,256.7 1705.3,249.6 1713.1,249.6 1713.7,255.6 1716.4,265.2 1717.0,271.1 1718.9,263.7 1722.9,260.0 1724.8,252.8 1730.3,259.4 1734.9,264.5 1740.4,271.1 1745.5,248.1 1754.3,206.5 1762.3,235.3 1771.5,214.8 1780.7,229.3 1786.7,217.5 1795.9,213.4 1802.0,205.1 1812.6,231.8 1817.5,208.1 1827.3,211.7 1835.3,239.8 1844.9,217.9 1854.1,230.8 1862.9,209.8 1870.8,237.6 1877.8,208.4 1886.0,235.2 1895.3,217.6 1904.1,230.5 1912.3,211.3 1920.6,229.9 1929.7,236.4 1940.9,210.9 1949.8,234.2 1958.9,214.0 1968.8,235.1 1977.7,215.6 1987.7,241.4 1996.9,201.4 2002.7,238.4 2012.0,239.4 2019.2,229.6 2031.1,230.6 2036.8,209.7 2043.9,232.9 2050.7,236.9 2062.0,208.9 2071.7,232.9 2077.9,213.3 2085.4,240.3 2095.1,231.8 2102.6,235.2 2109.6,206.8 2117.6,239.9 2123.6,215.8 2135.3,236.1 2142.3,212.5 2149.8,230.5 2158.3,209.7" fill="none" stroke="#00FF00" stroke-width="8" stroke-linejoin="round"/>
<polyline points="371.9,220.6 381.2,210.5 390.8,220.6 400.9,224.8 411.7,211.7 423.4,223.7 431.5,215.3 440.2,224.3 449.0,212.1 457.4,222.2 466.3,213.0 473.9,222.3 481.6,222.2 490.8,213.8 503.6,222.2 509.4,211.7 517.9,224.1 527.3,207.0 539.5,221.7 548.9,212.2 562.2,214.9 571.6,227.1 578.0,215.1 587.6,223.2 596.4,214.4 602.1,213.9 611.8,210.9 619.2,220.4 629.0,210.5 638.3,212.5 644.8,223.6 652.4,210.7 667.0,214.2 667.6,206.6 669.9,202.1 669.8,193.3 672.2,189.1 673.0,181.9 674.5,188.8 674.5,193.3 677.0,202.0 677.3,206.9 679.0,214.2 685.0,222.8 695.0,214.7 703.2,219.4 717.3,209.4 728.1,221.6 734.4,213.7 745.0,227.7 755.7,211.2 766.5,221.8 774.7,210.0 782.6,227.2 795.0,215.0 804.1,223.3 814.6,211.1 825.8,225.0 836.6,210.7 842.0,223.0 850.0,211.6 860.3,224.0 873.3,214.0 881.9,224.7 891.5,212.7 901.6,224.2 910.3,214.4 916.8,223.9 928.5,211.5 938.1,211.9 945.0,228.1 949.3,236.0 952.5,241.8 956.7,249.6 960.1,258.1 961.6,263.4 964.5,271.1 966.3,278.4 967.3,284.1 969.7,292.2 970.3,297.3 972.3,304.9 973.7,311.7 977.0,321.7 977.2,326.4 980.0,335.6 983.2,342.7 984.5,346.5 988.0,354.0 988.4,359.6 991.0,369.1 991.4,374.7 993.7,383.8 993.8,388.8 995.7,397.0 1004.0,397.0 1007.1,405.1 1008.3,409.9 1011.7,418.5 1019.5,415.4 1022.3,423.1 1023.4,427.7 1024.7,435.7 1024.8,441.4 1026.4,450.0 1026.0,454.9 1028.2,464.3 1028.1,469.8 1029.9,478.5 1029.8,484.0 1031.2,492.1 1032.6,485.6 1032.0,475.8 1034.5,471.3 1034.0,461.5 1035.7,455.5 1035.9,446.9 1037.0,440.0 1038.2,448.1 1037.7,453.3 1039.6,462.6 1039.4,468.3 1041.2,477.4 1040.9,482.9 1042.8,492.3 1042.9,498.4 1044.7,489.8 1048.7,485.1 1050.7,476.9 1056.1,476.0 1062.4,476.9 1062.4,483.4 1064.4,493.6 1063.5,498.7 1065.5,508.9 1064.5,513.7 1066.3,523.5 1065.8,529.3 1067.9,539.7 1067.1,544.7 1068.3,553.5 1074.0,547.5 1075.3,556.0 1074.7,561.3 1076.4,570.6 1076.0,576.1 1077.5,585.0 1076.8,590.1 1078.0,598.4 1078.0,605.3 1079.4,614.5 1079.1,620.7 1080.6,630.2 1080.0,635.9 1081.9,646.0 1081.1,651.5 1082.0,659.8 1083.0,651.5 1085.4,645.7 1086.3,637.1 1088.9,631.6 1089.7,623.0 1090.5,631.1 1090.0,636.9 1091.5,646.4 1091.0,652.3 1092.6,661.9 1091.8,667.2 1093.3,676.6 1092.3,681.6 1093.6,690.6 1093.5,697.4 1094.6,706.5 1094.0,712.6 1095.6,722.5 1094.9,728.4 1096.4,738.2 1095.1,742.8 1097.0,753.3 1096.0,758.6 1097.1,767.8 1096.9,774.4 1097.5,782.7 1097.6,789.8 1098.6,798.7 1098.0,804.5 1099.8,814.6 1098.8,819.9 1100.4,829.7 1099.8,835.6 1101.5,845.6 1100.2,850.4 1101.4,859.4 1102.9,867.6 1102.3,872.0 1103.8,880.2 1103.4,884.8 1105.4,894.0 1105.3,899.2 1106.6,893.4 1106.5,885.1 1108.1,879.6 1107.7,870.8 1109.2,865.4 1109.2,871.8 1110.8,881.1 1109.9,885.8 1111.0,894.3 1110.8,900.2 1112.3,909.4 1111.4,914.2 1113.0,923.3 1112.3,928.5 1113.0,936.2 1113.6,943.2 1115.3,952.2 1115.4,958.2 1117.0,966.9 1124.8,963.8 1124.6,969.4 1126.6,979.1 1125.7,983.4 1127.3,992.5 1126.7,997.4 1128.4,1006.5 1128.7,1013.0 1129.2,1005.0 1131.7,1000.6 1131.7,991.8 1133.7,986.5 1134.6,979.2 1136.0,987.3 1135.5,991.9 1137.6,1001.2 1137.5,1006.5 1139.6,1015.8 1139.2,1020.7 1140.4,1028.3 1142.2,1036.5 1142.3,1041.8 1144.1,1050.1 1144.1,1055.1 1146.8,1065.0 1146.4,1069.3 1148.2,1077.5 1151.7,1073.7 1156.0,1071.3 1157.4,1065.1 1157.2,1056.1 1159.5,1051.7 1159.3,1042.7 1161.2,1037.3 1161.0,1028.4 1163.6,1024.3 1163.8,1016.1 1165.6,1024.1 1166.0,1029.7 1168.1,1038.2 1168.7,1044.2 1171.0,1053.1 1171.6,1059.1 1173.3,1067.5 1173.5,1073.2 1176.2,1083.3 1176.2,1088.7 1178.8,1098.6 1179.4,1105.1 1180.3,1098.5 1180.2,1089.8 1182.2,1085.1 1181.7,1075.9 1183.1,1070.0 1182.7,1060.9 1184.4,1055.7 1184.1,1046.8 1185.3,1040.6 1185.5,1046.5 1187.4,1055.5 1187.2,1060.7 1188.9,1069.3 1188.5,1074.2 1190.8,1083.9 1191.0,1089.8 1199.0,1086.6 1202.0,1094.5 1203.4,1099.7 1206.7,1108.2 1208.3,1101.7 1207.9,1091.5 1210.0,1085.8 1209.8,1076.1 1212.2,1070.8 1211.7,1060.7 1214.2,1055.7 1214.5,1046.8 1215.5,1053.3 1217.8,1062.4 1217.6,1066.9 1220.0,1075.9 1220.2,1081.1 1222.3,1089.8 1225.1,1098.9 1225.6,1104.2 1228.6,1113.8 1230.0,1120.5 1231.9,1126.1 1236.2,1136.1 1238.0,1141.7 1245.7,1138.9 1248.5,1146.3 1250.1,1151.6 1253.0,1159.4 1255.0,1165.4 1260.0,1141.7 1265.2,1172.8 1274.2,1159.4 1282.5,1172.5 1291.7,1133.3 1300.8,1169.1 1311.8,1131.6 1322.1,1172.8 1327.7,1164.9 1335.2,1170.1 1347.0,1169.3 1347.7,1162.6 1347.3,1154.1 1348.4,1148.1 1347.9,1139.4 1349.3,1133.9 1348.7,1125.1 1350.0,1119.6 1349.2,1110.3 1350.9,1105.3 1350.3,1096.3 1351.0,1089.8 1351.3,1081.5 1353.2,1076.0 1352.6,1066.1 1354.9,1061.4 1355.0,1052.8 1359.5,1057.1 1362.7,1059.1 1363.8,1052.0 1363.6,1042.7 1365.2,1036.4 1364.8,1026.8 1366.4,1020.5 1366.3,1011.3 1367.8,1005.1 1367.6,995.7 1368.6,988.4 1368.6,995.4 1370.1,1004.9 1369.2,1010.1 1371.0,1020.2 1370.1,1025.5 1371.6,1035.2 1371.0,1040.9 1372.3,1050.2 1371.8,1056.0 1372.8,1064.7 1372.1,1070.3 1373.7,1080.2 1373.0,1085.8 1374.6,1095.6 1374.4,1102.0 1374.4,1094.1 1375.5,1088.1 1374.7,1078.8 1376.0,1073.1 1375.2,1063.6 1376.9,1058.8 1375.6,1048.5 1377.4,1043.8 1376.5,1034.2 1378.1,1029.0 1377.0,1019.2 1378.2,1013.4 1377.6,1004.4 1378.3,997.6 1379.8,1003.0 1382.5,1010.5 1383.3,1014.6 1386.0,1022.0 1387.8,1015.7 1387.6,1006.0 1389.8,1000.4 1389.8,991.0 1392.6,986.5 1392.3,976.6 1394.0,970.1 1397.0,977.9 1397.9,982.2 1401.6,991.5 1402.8,996.2 1405.6,1003.8 1408.4,1012.6 1408.9,1017.4 1412.1,1027.0 1412.6,1031.7 1415.4,1040.6 1415.4,1032.1 1417.5,1027.3 1417.4,1018.6 1419.2,1013.3 1418.9,1004.2 1420.8,999.1 1421.2,991.3 1423.6,999.8 1424.7,1006.0 1427.8,1015.7 1429.0,1022.0 1431.7,1015.7 1432.3,1005.7 1435.2,999.7 1436.8,991.3 1440.0,985.5 1444.6,982.3 1447.4,976.1 1448.0,966.0 1451.0,960.3 1452.4,951.6 1453.4,943.4 1455.3,936.8 1455.8,927.6 1458.3,922.1 1458.3,912.1 1460.2,905.5 1462.3,899.2 1462.4,889.5 1464.4,883.1 1464.8,873.7 1467.0,867.6 1468.0,859.4 1470.5,852.7 1471.2,842.9 1474.3,837.2 1475.0,827.3 1478.6,822.6 1479.7,813.4 1481.8,806.8 1482.0,797.0 1484.4,790.9 1485.2,782.0 1487.9,776.5 1488.1,766.6 1490.2,760.1 1491.4,752.0 1491.8,743.6 1493.2,737.1 1493.3,728.1 1494.8,721.8 1494.5,712.2 1496.7,707.0 1496.5,697.6 1498.2,691.6 1497.9,681.9 1499.2,675.2 1499.5,666.7 1501.5,661.2 1501.3,651.7 1502.9,645.6 1502.6,635.9 1504.5,630.3 1504.2,620.7 1506.0,614.7 1505.6,605.0 1507.0,598.4 1507.0,590.3 1509.0,585.7 1508.3,576.3 1510.2,571.6 1509.7,562.5 1511.0,556.7 1514.1,550.4 1515.6,541.4 1518.7,535.2 1519.0,526.0 1521.3,520.4 1521.0,510.3 1523.7,505.3 1523.3,494.8 1525.7,489.4 1525.4,479.2 1527.9,473.9 1527.4,463.4 1530.0,458.2 1530.4,449.2 1533.8,445.4 1534.9,437.8 1538.2,433.9 1538.8,425.5 1540.9,419.9 1540.2,409.3 1542.0,403.1 1543.6,394.8 1546.3,388.5 1547.4,379.3 1550.4,373.3 1551.3,363.9 1553.8,357.1 1556.4,349.5 1560.3,344.4 1561.7,334.9 1565.5,329.4 1568.7,323.3 1569.9,313.7 1573.3,307.9 1581.0,304.9 1586.7,311.9 1591.0,316.3 1596.7,323.3 1601.0,317.8 1604.1,310.4 1608.4,304.9 1613.3,300.7 1619.5,298.7 1627.3,301.8 1631.8,296.8 1635.0,289.5 1638.2,285.0 1643.0,283.5 1645.5,278.2 1646.1,269.8 1648.8,265.0 1649.7,257.9 1652.4,253.9 1652.7,245.8 1654.6,240.4 1661.4,224.2 1670.0,195.2 1677.0,224.7 1680.6,199.6 1686.2,235.0 1694.4,196.2 1704.9,232.6 1709.9,199.1 1718.3,235.5 1727.6,236.9 1734.7,191.0 1742.4,235.4 1752.1,207.0 1758.0,225.5 1767.1,229.2 1774.2,197.8 1782.0,197.2 1788.7,223.6 1797.3,193.7 1806.4,232.8 1812.3,197.7 1815.1,198.2 1822.4,225.0 1830.2,221.7 1836.3,233.1 1846.9,221.0 1852.5,194.1 1860.2,237.2 1866.6,204.4 1875.3,230.7 1886.0,228.3 1891.3,191.2 1898.1,226.5 1905.5,198.5 1912.2,236.0 1921.7,202.2 1930.7,237.5 1940.7,208.1 1948.5,229.4 1957.0,237.8 1964.1,193.3 1969.1,227.3 1974.9,192.3 1985.9,240.2 1994.1,228.5 2005.1,203.9 2009.9,203.4 2017.2,226.2 2024.8,190.7 2032.6,234.1 2040.6,203.8 2050.8,233.0 2058.6,201.1 2064.2,232.7 2074.9,206.7 2079.5,249.5 2089.5,205.2 2095.3,226.3 2107.2,195.6 2113.5,200.2 2120.9,228.4 2131.3,204.1 2136.1,235.1 2145.6,206.4 2155.1,227.7" fill="none" stroke="#8000FF" stroke-width="8" stroke-linejoin="round"/>
<polyline points="371.7,228.0 381.0,216.1 389.9,223.2 398.4,216.7 406.4,225.0 418.1,225.5 423.5,225.2 432.2,224.8 443.2,227.8 453.4,218.4 461.2,225.7 472.3,217.8 482.1,228.2 486.7,223.7 496.5,212.5 503.4,229.1 509.9,219.2 520.4,229.8 530.8,217.1 539.8,224.5 550.0,227.3 556.1,217.4 563.2,223.1 573.4,215.7 584.7,229.3 593.9,215.2 604.0,224.2 614.5,218.4 625.7,214.7 637.2,215.2 643.5,227.1 655.2,218.1 663.0,225.8 669.8,223.3 682.0,215.1 689.8,223.6 700.5,215.8 705.9,216.4 716.1,228.1 725.4,217.3 733.8,227.8 738.8,219.0 747.9,217.9 757.6,227.1 766.2,214.2 774.4,218.2 779.3,217.5 788.3,211.8 795.8,215.1 803.1,226.7 808.7,219.1 821.2,226.7 827.2,215.5 836.2,217.6 847.5,210.3 857.3,228.3 865.2,215.5 872.8,223.5 880.4,217.0 892.8,214.8 897.7,224.0 906.0,215.5 918.0,224.4 928.6,216.9 934.1,226.5 944.1,223.6 956.4,214.6 968.9,225.4 976.6,217.2 983.9,228.0 990.1,218.1 1005.0,228.3 1013.3,233.8 1020.0,236.2 1023.8,229.9 1025.8,220.6 1029.6,214.5 1031.6,205.0 1036.0,199.9 1038.5,191.3 1038.8,197.5 1040.8,206.5 1040.1,210.8 1042.7,220.9 1041.9,224.9 1044.1,234.4 1043.8,239.4 1046.0,248.7 1046.0,254.3 1050.5,259.3 1056.0,266.1 1057.3,258.1 1059.9,252.2 1060.2,242.4 1062.7,236.5 1064.0,228.3 1065.3,234.7 1068.6,244.5 1069.2,249.7 1072.6,259.7 1074.0,266.1 1074.9,258.8 1077.0,253.7 1076.9,244.6 1079.2,239.7 1079.1,230.7 1081.6,226.2 1082.0,218.1 1082.0,223.8 1084.3,233.4 1083.6,237.8 1085.7,247.1 1085.3,251.9 1087.1,260.7 1087.0,266.1 1087.3,257.4 1089.2,251.5 1089.3,242.4 1091.1,236.2 1090.9,226.6 1092.7,220.3 1092.6,210.9 1095.0,205.8 1094.5,195.6 1096.0,189.0 1096.3,181.2 1097.7,175.4 1097.6,166.8 1099.3,161.6 1098.2,151.3 1100.3,146.6 1099.9,137.6 1101.6,132.3 1100.8,122.6 1102.6,117.4 1102.8,109.4 1104.2,117.7 1103.3,122.0 1105.0,130.7 1104.7,136.1 1106.6,145.1 1105.8,149.5 1107.0,157.5 1106.4,163.2 1108.1,172.7 1107.0,177.5 1108.4,186.6 1107.7,192.1 1109.5,202.0 1108.5,206.9 1109.9,216.1 1108.9,221.0 1110.0,229.6 1110.0,236.2 1111.3,244.9 1110.5,250.0 1111.8,258.8 1111.6,264.9 1113.1,273.9 1113.0,280.3 1114.0,286.8 1116.3,295.6 1117.0,301.6 1120.5,296.5 1122.0,287.9 1126.6,284.7 1128.7,277.2 1130.7,286.1 1130.7,291.5 1133.2,301.2 1133.1,306.4 1135.9,316.9 1136.5,323.3 1144.3,326.4 1143.8,332.6 1145.2,342.4 1144.6,348.4 1145.7,357.6 1145.0,363.5 1146.4,373.2 1145.6,379.0 1147.1,388.8 1146.0,394.1 1147.6,404.0 1147.1,410.3 1148.2,419.4 1147.1,424.7 1148.2,433.9 1148.8,442.2 1148.2,448.3 1149.3,457.6 1148.5,463.6 1150.1,473.7 1148.7,478.4 1150.5,488.9 1150.0,495.3 1149.7,502.2 1151.1,512.2 1149.9,517.5 1151.3,527.5 1150.3,533.1 1151.5,542.8 1151.0,549.4 1152.1,558.8 1150.9,564.1 1152.3,574.1 1152.0,581.1 1153.6,586.1 1156.5,593.6 1158.0,598.4 1157.9,605.1 1159.6,615.0 1159.2,621.2 1160.9,631.1 1159.9,636.3 1161.6,646.0 1160.9,651.7 1163.1,662.5 1162.3,668.1 1164.0,677.8 1163.8,684.4 1168.2,688.4 1171.6,690.6 1171.6,697.2 1172.7,705.8 1172.3,711.6 1173.4,720.3 1172.5,725.3 1174.1,734.7 1173.4,740.2 1175.1,749.8 1174.0,754.5 1175.9,764.4 1175.5,770.4 1176.0,776.1 1178.8,785.9 1179.4,791.9 1187.2,795.0 1188.1,803.3 1187.7,809.3 1188.9,818.2 1188.1,823.6 1189.9,833.5 1189.1,838.9 1190.5,848.1 1189.9,853.9 1191.0,862.5 1195.8,867.1 1199.0,868.7 1200.6,877.0 1200.9,883.0 1202.8,891.9 1202.7,897.2 1204.9,906.7 1204.8,911.9 1206.7,920.9 1207.2,928.0 1208.5,936.9 1208.4,943.0 1210.1,952.3 1209.7,958.0 1211.4,967.4 1211.5,974.0 1212.6,982.3 1213.8,973.3 1216.5,966.9 1216.5,973.3 1218.6,983.4 1217.6,988.0 1219.8,998.2 1219.0,1003.2 1221.2,1013.4 1220.3,1018.2 1222.4,1028.3 1222.3,1034.5 1222.8,1026.9 1225.7,1023.6 1226.2,1016.1 1232.0,1009.9 1231.9,1016.3 1233.2,1025.1 1232.9,1031.1 1234.7,1040.6 1233.9,1045.8 1235.2,1054.7 1234.8,1060.5 1236.1,1069.2 1235.6,1074.8 1237.1,1084.1 1236.6,1089.7 1238.1,1098.8 1238.0,1105.1 1240.4,1099.1 1241.6,1090.8 1244.5,1085.8 1245.7,1077.5 1246.6,1083.9 1248.7,1092.5 1249.2,1098.2 1251.7,1107.6 1251.8,1112.6 1253.5,1120.5 1256.0,1129.1 1257.0,1135.1 1259.7,1144.1 1261.3,1151.2 1264.4,1158.2 1265.7,1161.9 1269.0,1169.3 1272.0,1165.1 1278.7,1174.3 1287.9,1157.2 1293.5,1175.6 1299.5,1163.5 1305.6,1174.4 1312.0,1169.3 1313.8,1163.1 1314.8,1155.3 1317.2,1150.2 1318.0,1142.0 1319.8,1135.8 1320.0,1127.1 1322.0,1121.7 1321.9,1112.3 1323.8,1106.6 1322.8,1095.9 1325.1,1090.9 1324.5,1080.7 1326.6,1075.4 1326.4,1066.0 1327.6,1059.1 1329.4,1053.2 1329.3,1044.0 1331.7,1039.3 1331.5,1029.9 1333.6,1024.7 1333.5,1015.5 1335.4,1009.9 1335.9,1001.7 1338.0,996.5 1338.4,988.2 1340.7,983.3 1340.1,973.2 1342.7,968.7 1343.2,960.6 1344.5,953.8 1344.2,944.2 1346.1,938.6 1345.2,927.9 1347.3,922.6 1346.9,912.9 1348.5,906.6 1348.5,897.6 1350.1,891.3 1349.8,881.8 1351.0,874.8 1358.8,874.8 1358.4,867.1 1360.2,863.2 1359.6,855.1 1360.8,850.2 1361.4,841.9 1363.8,836.8 1363.9,827.5 1365.8,821.4 1366.6,813.4 1366.1,805.1 1367.6,800.4 1366.8,791.6 1368.1,786.6 1367.0,777.4 1368.8,773.1 1367.8,764.1 1368.6,758.1 1368.5,764.7 1370.0,774.1 1369.1,779.1 1370.6,788.5 1370.4,794.9 1372.0,804.4 1370.7,808.9 1372.7,819.1 1371.5,823.8 1373.6,834.2 1372.8,839.5 1374.4,849.1 1373.2,853.6 1374.4,862.5 1375.4,856.8 1374.2,847.0 1375.5,841.7 1374.5,832.4 1376.0,827.5 1375.2,818.4 1376.0,812.4 1375.2,803.4 1376.6,798.2 1375.5,788.7 1376.4,782.7 1377.7,776.5 1376.5,765.9 1378.2,760.4 1377.8,751.1 1379.6,745.8 1378.4,735.1 1380.5,730.5 1379.6,720.4 1381.3,714.8 1380.8,705.4 1382.3,699.6 1382.0,690.6 1381.4,682.2 1382.7,677.2 1381.7,668.1 1382.0,661.4 1383.0,655.8 1381.9,646.4 1383.3,641.6 1382.6,632.9 1384.0,628.1 1383.0,618.8 1384.4,613.9 1384.0,605.8 1390.0,611.8 1390.9,605.2 1389.6,594.8 1390.8,588.9 1390.2,579.6 1391.6,574.0 1390.3,563.5 1391.7,558.0 1391.1,548.7 1392.5,543.1 1391.0,532.4 1392.0,526.0 1391.8,517.3 1393.5,511.9 1392.6,501.8 1394.4,496.6 1393.5,486.6 1395.4,481.5 1394.6,471.6 1395.7,465.3 1394.9,455.5 1396.5,449.9 1395.8,440.3 1397.5,434.8 1396.9,425.3 1397.8,418.5 1399.7,411.9 1399.7,402.0 1402.0,395.9 1402.1,386.3 1404.9,381.2 1405.6,372.4 1407.3,366.0 1406.9,356.0 1409.2,350.5 1409.5,341.7 1414.0,345.8 1417.3,347.9 1418.2,341.1 1417.6,331.6 1419.7,326.9 1419.0,317.3 1420.8,312.1 1420.2,302.6 1421.0,295.7 1424.5,290.2 1429.0,286.5 1430.4,280.2 1430.1,271.1 1432.7,266.9 1433.0,258.8 1435.0,252.7 1438.8,249.7 1440.7,243.5 1441.3,235.2 1443.8,230.0 1444.6,222.0 1449.7,222.2 1456.3,225.0 1456.6,216.4 1458.9,211.3 1458.8,201.8 1461.2,196.9 1460.6,186.7 1462.8,181.3 1462.7,171.9 1465.1,167.1 1465.5,158.6 1473.3,161.7 1473.1,167.7 1474.9,177.3 1474.2,182.4 1475.5,191.2 1474.9,196.5 1476.5,205.8 1475.6,210.4 1477.5,220.2 1477.2,226.1 1480.8,230.6 1485.6,237.4 1489.0,241.5 1492.5,234.7 1497.0,229.7 1500.6,223.1 1504.6,249.4 1514.7,223.2 1520.7,248.3 1529.6,218.2 1536.9,251.0 1544.4,211.6 1554.8,238.7 1560.8,226.7 1567.7,244.1 1575.0,246.3 1584.6,222.0 1589.4,243.3 1596.3,226.8 1603.3,239.7 1609.6,219.4 1616.3,213.3 1624.4,249.3 1631.4,215.8 1637.6,246.3 1648.7,227.1 1654.8,250.7 1663.6,217.1 1671.1,215.5 1680.3,213.9 1688.7,250.4 1695.1,218.3 1705.7,249.0 1711.5,227.7 1718.5,249.3 1726.5,227.4 1737.2,238.8 1742.5,216.9 1751.0,260.8 1759.8,217.0 1767.1,213.2 1774.9,219.1 1782.4,252.5 1789.9,212.7 1800.7,246.3 1807.8,220.8 1817.1,241.1 1826.9,219.7 1834.6,260.0 1841.5,212.8 1849.6,209.3 1857.7,241.3 1868.1,218.6 1871.4,247.7 1879.2,218.1 1887.4,252.6 1895.0,251.4 1902.9,214.5 1910.4,217.7 1919.7,241.0 1925.7,225.3 1936.4,221.7 1944.8,242.7 1955.1,220.3 1960.2,251.1 1969.3,218.3 1973.8,242.7 1983.4,217.7 1991.3,248.5 1999.5,226.7 2004.9,243.4 2013.5,226.6 2020.2,247.9 2029.6,215.1 2039.3,243.0 2049.5,217.5 2057.8,247.2 2062.9,251.6 2072.1,223.9 2081.6,249.0 2090.1,224.1 2099.3,221.1 2108.8,252.6 2116.8,214.7 2122.4,250.9 2131.4,225.0 2140.0,239.8 2149.8,218.0 2158.3,249.2" fill="none" stroke="#800000" stroke-width="8" stroke-linejoin="round"/>
<polyline points="371.1,242.2 378.5,228.5 386.0,241.2 394.1,227.8 399.2,227.5 408.6,241.8 417.7,230.9 423.4,240.9 431.2,229.3 439.1,241.5 450.2,227.5 458.3,231.2 467.6,239.3 476.7,243.1 484.8,237.7 491.6,227.4 500.9,239.2 507.9,226.1 516.3,237.6 523.0,239.9 530.8,246.2 539.6,231.1 545.6,239.5 554.5,226.2 564.9,240.3 573.5,232.4 582.9,226.6 589.6,237.4 596.9,226.9 604.0,242.6 609.7,232.4 619.1,238.7 628.7,223.7 633.3,242.6 642.0,236.2 642.0,241.1 644.4,250.3 643.9,254.2 645.9,262.6 646.0,267.7 646.4,260.1 648.9,256.1 648.8,247.4 651.5,243.8 652.0,236.2 657.8,241.3 663.6,244.6 673.1,232.1 680.9,241.4 689.5,240.0 697.0,230.1 703.0,230.1 713.5,246.6 720.7,233.6 729.6,241.6 735.6,243.0 742.9,232.7 750.5,243.9 754.5,228.0 766.0,243.9 776.0,231.6 784.8,227.6 788.9,239.7 796.3,230.2 806.5,242.9 814.7,226.8 824.1,241.5 832.1,233.6 840.0,239.6 847.0,233.8 857.2,239.2 867.6,241.0 874.2,230.0 883.1,243.0 891.5,231.9 900.8,243.4 913.4,229.8 920.1,239.1 927.0,229.6 936.2,240.0 944.6,228.3 953.1,231.2 960.5,244.9 966.8,230.4 973.1,243.2 979.4,230.2 987.8,244.8 995.1,232.2 1000.0,228.3 1003.3,223.5 1005.0,215.7 1010.6,218.0 1015.0,218.1 1016.2,223.7 1019.4,232.7 1020.1,237.6 1022.6,245.4 1023.5,250.3 1026.0,258.3 1028.0,251.5 1028.7,242.5 1031.7,237.5 1032.3,228.3 1034.8,222.3 1036.0,214.2 1037.5,222.4 1037.1,227.2 1038.7,235.7 1038.4,240.8 1039.9,249.0 1039.4,253.9 1041.0,262.2 1042.4,255.2 1042.7,246.1 1044.8,240.3 1045.2,231.5 1047.3,225.7 1047.5,216.5 1049.9,211.3 1049.5,200.9 1052.1,196.0 1052.6,187.4 1053.2,194.0 1056.0,204.4 1055.9,209.8 1058.2,219.3 1058.3,225.0 1060.7,234.9 1061.5,241.7 1064.8,249.1 1066.0,252.8 1069.6,260.7 1071.8,266.1 1073.5,259.7 1073.8,251.0 1076.5,246.3 1076.3,236.6 1078.8,231.8 1079.5,223.6 1081.8,216.9 1082.2,207.0 1085.5,202.1 1085.8,192.0 1088.4,185.8 1089.5,193.3 1089.7,199.3 1091.2,207.6 1091.1,212.9 1092.9,221.7 1092.7,226.9 1094.8,236.1 1094.8,241.7 1095.7,233.5 1098.2,228.1 1098.6,218.9 1101.6,214.4 1102.2,205.5 1104.9,200.5 1104.9,190.6 1107.8,185.8 1108.9,178.0 1110.0,183.1 1112.9,191.3 1113.9,196.2 1116.5,203.8 1117.9,209.4 1120.8,217.1 1121.2,220.5 1124.4,228.7 1125.1,232.5 1128.0,240.2 1132.0,235.6 1134.5,228.3 1135.5,220.8 1137.9,215.9 1138.0,206.9 1140.4,201.9 1140.4,192.6 1142.8,187.7 1143.4,179.5 1144.6,188.1 1144.0,193.5 1146.4,204.1 1145.6,209.1 1147.6,219.2 1147.1,224.7 1148.8,234.0 1148.6,240.1 1150.7,250.2 1149.8,255.1 1151.6,264.8 1151.4,270.8 1153.1,280.2 1153.5,287.4 1155.6,281.3 1155.8,272.0 1158.1,266.5 1158.1,256.7 1161.0,252.2 1160.9,242.1 1163.0,236.2 1165.2,229.7 1169.0,226.0 1170.6,233.9 1170.6,239.1 1172.9,248.4 1172.3,252.5 1174.3,261.2 1175.0,267.7 1177.9,275.2 1179.4,280.3 1180.7,289.3 1180.1,295.2 1181.6,304.6 1180.9,310.2 1182.4,319.8 1182.0,325.7 1183.3,334.9 1183.3,341.7 1183.7,346.9 1186.0,355.3 1185.7,359.1 1187.2,366.1 1195.0,369.3 1194.8,375.3 1196.6,385.0 1196.1,390.3 1197.0,398.5 1196.5,403.8 1198.3,413.4 1197.6,418.5 1199.4,428.1 1199.0,433.9 1199.2,440.8 1200.9,450.2 1200.4,456.0 1202.0,465.4 1201.8,471.6 1203.4,480.9 1202.9,486.6 1204.8,496.4 1204.1,501.8 1206.1,511.9 1205.7,517.7 1206.7,526.0 1208.0,534.3 1207.8,539.8 1210.3,550.3 1209.9,555.4 1212.3,565.7 1212.2,571.4 1214.4,581.3 1214.5,587.4 1215.1,592.9 1216.8,600.2 1216.6,604.2 1218.4,611.8 1219.1,604.7 1221.5,600.5 1222.3,593.5 1223.4,602.2 1222.4,607.3 1224.1,617.1 1223.2,622.2 1225.2,632.5 1224.6,638.3 1226.1,647.7 1225.2,652.8 1226.2,661.4 1226.8,669.7 1226.3,676.0 1227.3,684.9 1226.8,691.2 1227.9,700.3 1226.8,705.4 1228.6,715.8 1227.7,721.3 1229.0,730.7 1228.3,736.7 1229.4,745.8 1228.5,751.5 1229.7,760.7 1229.2,767.0 1230.5,776.5 1230.0,782.7 1231.2,791.8 1229.9,796.7 1231.4,806.4 1230.7,812.3 1232.4,822.3 1231.5,827.8 1232.9,837.5 1232.2,843.3 1233.9,853.3 1233.0,858.8 1234.2,868.1 1234.0,874.8 1235.2,883.7 1234.3,888.9 1235.8,898.4 1235.2,904.1 1237.4,914.7 1236.6,920.1 1237.9,929.3 1238.0,936.2 1239.1,944.8 1238.6,950.4 1240.3,959.9 1240.2,966.4 1241.9,975.9 1241.8,982.3 1243.7,991.5 1243.0,996.4 1245.2,1006.2 1245.7,1013.0 1247.8,1017.2 1251.6,1024.4 1253.5,1028.3 1255.0,1037.0 1254.8,1042.5 1257.2,1052.7 1257.4,1059.1 1258.8,1068.1 1258.2,1073.6 1260.2,1083.6 1259.3,1088.5 1261.5,1099.0 1261.3,1105.1 1261.8,1111.4 1264.6,1121.8 1264.7,1127.3 1267.3,1137.3 1267.4,1143.0 1269.0,1151.2 1269.9,1156.4 1272.0,1163.8 1273.0,1169.3 1280.0,1173.2 1288.6,1169.3 1288.1,1160.6 1290.2,1156.4 1289.2,1146.8 1290.4,1141.1 1290.1,1132.6 1291.3,1126.9 1290.3,1117.3 1291.8,1112.2 1291.4,1103.6 1293.0,1098.5 1292.5,1089.8 1293.5,1097.5 1292.6,1102.0 1294.3,1111.1 1294.0,1116.5 1295.6,1125.4 1295.1,1130.5 1296.7,1139.3 1296.4,1144.9 1296.3,1136.4 1297.6,1130.1 1296.7,1120.1 1298.7,1115.2 1297.3,1104.3 1299.0,1098.9 1298.5,1089.6 1299.8,1083.5 1299.1,1073.8 1300.6,1068.1 1300.3,1059.1 1300.0,1050.2 1301.4,1044.5 1300.6,1034.8 1301.9,1028.8 1301.4,1019.8 1303.1,1014.5 1301.9,1004.1 1303.4,998.6 1302.9,989.4 1304.1,983.2 1303.2,973.5 1304.2,966.9 1304.9,960.0 1304.2,950.4 1305.5,944.6 1304.6,934.7 1306.1,929.1 1305.4,919.6 1306.7,913.8 1305.9,904.0 1307.9,899.3 1307.0,889.5 1308.5,883.9 1308.0,874.8 1307.8,865.8 1309.5,860.3 1309.2,851.2 1310.6,845.2 1309.9,835.3 1311.3,829.3 1310.7,819.6 1312.0,813.4 1312.2,805.1 1313.7,799.2 1312.8,789.1 1314.8,784.1 1314.0,774.2 1315.3,767.8 1315.0,758.8 1316.0,752.0 1315.9,743.3 1317.7,738.0 1317.1,728.3 1318.2,721.8 1317.6,712.2 1319.6,707.2 1318.8,697.2 1319.8,690.6 1321.5,684.1 1321.6,674.8 1323.7,669.1 1324.8,677.9 1323.8,683.3 1325.7,693.6 1324.6,698.7 1326.0,708.1 1325.5,714.2 1326.9,723.6 1326.2,729.4 1328.1,739.7 1327.6,745.8 1327.2,737.0 1328.6,731.4 1327.5,721.2 1328.9,715.7 1327.7,705.3 1329.4,700.2 1328.3,690.1 1329.5,684.1 1328.8,674.6 1329.9,668.4 1329.6,659.8 1331.8,653.5 1331.9,643.5 1334.3,637.4 1335.4,629.1 1335.6,620.1 1338.0,614.9 1338.0,605.5 1339.3,598.4 1338.9,589.9 1340.4,584.7 1339.6,575.4 1340.8,569.6 1340.0,560.4 1341.8,555.7 1341.0,546.4 1342.2,540.7 1341.1,530.8 1342.9,526.1 1341.8,516.5 1343.3,511.2 1342.3,501.5 1343.2,495.3 1343.1,487.1 1344.0,480.4 1343.6,471.7 1344.6,465.3 1344.0,456.2 1345.2,450.2 1344.3,440.5 1345.5,434.5 1345.0,425.6 1345.9,419.0 1345.4,410.1 1346.5,403.9 1345.6,394.2 1347.1,388.9 1345.9,378.6 1347.0,372.4 1348.4,367.1 1348.4,359.1 1350.4,354.7 1351.0,347.9 1353.2,341.0 1356.6,336.3 1358.8,329.4 1359.0,321.8 1360.7,316.9 1359.8,307.1 1361.3,301.9 1361.2,293.7 1363.0,288.8 1362.7,280.3 1363.4,273.0 1363.0,263.5 1364.3,257.3 1363.9,248.0 1365.1,241.6 1364.4,231.7 1366.3,226.4 1365.4,216.2 1366.6,209.7 1368.0,217.8 1367.4,222.4 1369.6,232.0 1369.4,237.3 1370.9,245.7 1370.7,251.0 1372.7,260.2 1372.4,265.4 1374.3,274.4 1374.4,280.3 1374.6,272.9 1376.2,268.0 1375.5,259.0 1377.1,254.0 1376.6,245.3 1377.7,239.5 1377.1,230.7 1378.3,225.0 1379.5,231.7 1381.8,240.6 1382.5,246.4 1385.3,256.1 1386.0,261.9 1386.5,254.8 1388.5,250.5 1388.5,242.5 1390.0,237.3 1390.4,229.0 1392.6,223.9 1392.8,215.3 1394.8,209.9 1395.0,201.2 1397.3,196.3 1397.8,188.2 1399.0,182.0 1399.0,173.7 1401.1,169.3 1400.5,160.0 1402.6,155.3 1403.0,147.8 1404.5,156.9 1403.6,161.9 1405.5,171.8 1404.9,177.3 1406.7,187.0 1406.2,192.6 1407.5,201.6 1407.2,207.5 1408.9,217.1 1408.5,222.9 1409.5,231.2 1412.3,225.5 1412.9,215.9 1415.6,210.2 1417.0,202.0 1420.1,196.8 1421.2,188.2 1422.7,196.3 1422.9,202.2 1424.9,211.1 1425.1,217.1 1427.2,226.3 1427.3,232.0 1429.0,240.4 1434.3,244.6 1435.7,238.2 1435.9,229.9 1438.3,225.5 1438.2,216.6 1440.4,211.8 1440.7,203.5 1443.4,198.1 1447.4,195.0 1450.0,189.3 1453.4,197.9 1454.4,202.4 1457.7,210.8 1463.3,214.0 1468.0,215.7 1474.5,220.7 1479.0,222.0 1485.0,226.1 1489.5,221.0 1492.8,213.9 1499.2,213.5 1507.0,215.7 1514.8,212.0 1524.0,210.8 1527.1,249.2 1538.9,209.3 1546.7,211.4 1553.3,249.8 1562.6,202.2 1571.9,238.0 1584.2,196.6 1589.4,244.7 1598.0,216.8 1608.3,255.0 1615.7,206.7 1626.1,252.7 1632.3,194.4 1640.4,250.7 1650.2,239.8 1658.1,195.0 1664.3,204.6 1672.4,256.4 1680.8,209.5 1691.9,254.0 1697.5,181.4 1703.5,248.2 1711.7,241.0 1718.0,248.2 1728.3,209.4 1736.6,238.1 1742.5,211.7 1747.7,248.1 1755.8,199.4 1765.4,203.7 1770.5,233.6 1779.6,199.4 1789.4,256.3 1798.7,207.4 1809.2,254.9 1817.0,201.5 1827.2,251.7 1836.3,206.5 1844.0,252.1 1853.6,214.4 1864.1,242.8 1870.5,237.2 1877.4,208.7 1881.6,236.1 1888.9,195.4 1899.0,240.8 1907.4,241.6 1914.9,252.0 1925.2,214.4 1932.0,217.3 1938.7,241.3 1947.1,212.9 1954.4,249.3 1961.8,204.3 1972.2,247.8 1977.4,240.8 1986.1,204.3 1992.2,236.2 2000.9,194.5 2007.3,239.6 2015.2,246.1 2023.0,214.6 2030.6,245.7 2039.0,207.1 2046.8,237.6 2056.3,194.2 2063.1,245.4 2069.7,256.1 2077.9,264.4 2086.3,209.8 2091.0,256.0 2101.6,179.4 2108.0,242.6 2118.5,207.5 2123.0,251.9 2132.4,216.5 2137.9,256.2 2147.0,201.7 2157.1,200.0" fill="none" stroke="#404040" stroke-width="8" stroke-linejoin="round"/>
</g></g>
<g clip-path="url(#cb)"><g transform="scale(1,1.27)">
<polyline points="379.5,1994.8 386.1,1994.6 391.2,1991.7 395.7,1989.5 403.2,1992.5 406.8,1988.7 412.5,1985.5 416.1,1978.6 422.4,1976.4 428.1,1973.3 431.9,1966.6 438.0,1964.1 444.0,1968.5 446.8,1967.4 453.6,1973.2 457.6,1970.6 457.8,1961.3 461.4,1958.0 465.4,1955.2 465.8,1946.3 471.2,1946.1 473.0,1939.5 476.3,1943.4 481.6,1951.0 484.8,1954.9 489.8,1953.8 491.0,1945.9 496.5,1945.7 501.9,1953.5 503.6,1954.7 508.2,1961.0 514.8,1961.4 517.1,1954.3 523.8,1954.9 527.0,1957.5 532.8,1964.7 534.7,1964.9 539.4,1970.2 543.4,1966.0 551.2,1968.6 555.0,1964.1 559.8,1957.9 569.1,1959.9 574.5,1954.9 577.5,1957.4 583.9,1965.9 586.2,1967.2 592.5,1974.3 594.3,1973.5 602.0,1983.1 605.7,1985.6 610.2,1983.7 610.0,1973.7 615.9,1974.3 617.4,1967.2 626.4,1969.2 633.0,1967.2 638.1,1972.3 639.9,1971.7 644.7,1976.4 650.0,1975.4 656.4,1976.4 659.4,1982.5 660.1,1984.5 665.2,1994.2 664.3,1993.4 668.1,2000.9 673.0,1996.1 679.8,1994.8 682.3,2001.2 682.5,2003.4 687.4,2014.0 687.6,2016.3 692.7,2018.0 699.3,2022.4 704.3,2024.1 711.0,2028.6 717.4,2034.7 720.3,2034.9 726.6,2040.9 729.8,2049.4 728.8,2050.4 732.3,2059.3 732.3,2062.0 734.4,2068.5 741.9,2073.1 746.1,2071.7 747.7,2074.7 752.5,2083.4 754.2,2086.5 757.8,2093.1 763.5,2098.1 766.7,2098.6 773.4,2105.4 781.8,2106.4 789.0,2105.4 792.4,2112.2 792.5,2113.1 797.2,2122.2 797.7,2123.8 800.7,2129.9 804.0,2133.9 809.6,2142.1 812.4,2145.3 815.6,2148.7 820.8,2155.5 822.4,2156.1 828.0,2163.8 832.4,2163.4 839.7,2168.2 843.6,2166.8 848.1,2174.1 848.9,2175.0 853.0,2181.8 855.3,2185.2 862.4,2187.5 867.0,2185.2 871.4,2184.7 878.9,2189.8 882.6,2188.2 888.9,2194.2 891.6,2194.0 898.2,2200.6 904.8,2202.0 907.6,2196.8 913.8,2197.5 920.3,2203.9 923.0,2203.6 929.4,2209.8 936.3,2213.8 938.3,2209.2 945.0,2212.8 953.0,2215.5 956.5,2210.2 964.5,2212.8 971.6,2214.9 976.4,2212.9 984.0,2215.9 990.7,2216.3 993.9,2210.5 1000.0,2209.8 1007.5,2211.5 1011.3,2206.7 1019.5,2209.8 1027.7,2213.8 1031.2,2209.6 1039.0,2212.8 1046.1,2213.0 1050.9,2208.9 1058.5,2209.8 1065.6,2211.8 1070.5,2210.0 1078.0,2212.8 1081.2,2212.9 1089.1,2221.5 1091.6,2220.3 1097.5,2225.2 1103.4,2227.2 1111.9,2233.8 1117.0,2234.3 1120.0,2227.3 1126.5,2242.7 1134.9,2224.8 1144.5,2242.1 1155.8,2232.4 1166.8,2242.6 1174.7,2235.1 1181.2,2244.6 1191.4,2234.1 1201.1,2244.2 1213.4,2237.3 1219.5,2245.1 1231.7,2226.8 1241.0,2245.5 1252.8,2237.5 1263.2,2244.8 1270.5,2224.3 1282.5,2243.3 1290.9,2230.3 1302.1,2244.0 1314.7,2232.4 1322.4,2241.6 1333.0,2231.0 1342.7,2245.6 1354.3,2226.0 1364.2,2242.2 1373.3,2235.2 1382.1,2245.6 1391.6,2224.4 1401.3,2243.0 1413.0,2228.9 1421.0,2243.0 1431.2,2222.0 1437.1,2241.3 1447.1,2235.7 1453.6,2245.1 1460.2,2222.0 1468.7,2226.5 1472.8,2223.2 1481.2,2227.6 1487.5,2228.2 1493.1,2226.4 1495.6,2219.2 1503.5,2221.3 1507.0,2215.9 1512.2,2211.5 1521.4,2214.3 1526.5,2209.8 1532.4,2214.7 1535.2,2214.0 1542.5,2221.5 1546.0,2222.0 1553.9,2223.6 1558.2,2218.6 1565.5,2219.0 1573.2,2223.2 1577.9,2222.0 1585.0,2225.2 1591.3,2229.5 1594.3,2227.9 1600.0,2231.3 1608.1,2232.1 1611.7,2224.9 1619.5,2225.2 1624.7,2225.0 1633.3,2230.7 1639.0,2231.3 1646.3,2229.7 1651.3,2223.8 1658.5,2222.0 1666.2,2227.2 1670.3,2226.0 1678.0,2231.3 1683.3,2228.1 1691.7,2230.4 1697.5,2228.2 1705.0,2227.9 1709.8,2222.8 1717.0,2222.0 1721.1,2223.7 1728.2,2230.7 1730.9,2229.9 1736.5,2234.3 1743.8,2234.7 1747.8,2229.3 1756.0,2231.3 1761.0,2227.5 1770.8,2232.3 1775.5,2228.2 1783.1,2232.1 1787.3,2230.2 1795.0,2234.3 1795.4,2226.4 1800.1,2226.2 1799.8,2217.2 1804.4,2216.7 1804.0,2207.3 1806.7,2203.6 1809.9,2206.5 1815.8,2214.1 1818.4,2215.9 1824.2,2214.8 1827.3,2209.2 1834.0,2209.8 1834.5,2213.3 1837.7,2221.8 1837.0,2223.3 1841.2,2233.5 1841.8,2237.4 1842.9,2231.1 1846.4,2229.1 1845.3,2218.9 1849.4,2217.9 1849.2,2209.3 1853.5,2208.8 1853.5,2200.6 1861.1,2201.6 1865.9,2197.5 1873.0,2197.5 1878.4,2204.8 1880.2,2205.6 1886.0,2213.5 1888.6,2215.9 1891.0,2209.1 1897.9,2210.4 1900.3,2203.6 1901.5,2197.1 1907.1,2198.3 1908.1,2191.3 1907.8,2183.7 1909.8,2180.1 1908.4,2170.5 1911.5,2168.8 1909.2,2157.6 1912.1,2155.7 1912.0,2148.3 1914.7,2156.9 1913.6,2158.9 1916.9,2168.5 1916.1,2171.0 1919.5,2180.8 1919.8,2185.2 1923.3,2180.1 1931.1,2182.7 1935.4,2179.1 1937.7,2185.8 1937.6,2188.5 1942.2,2199.3 1941.1,2200.0 1944.5,2208.9 1944.7,2212.0 1947.1,2219.0 1949.7,2216.0 1947.7,2205.0 1951.6,2204.4 1949.5,2193.1 1952.9,2191.7 1951.6,2182.0 1955.7,2181.7 1955.0,2172.9 1957.4,2166.2 1963.5,2166.1 1966.6,2160.6 1971.7,2158.6 1973.7,2151.2 1978.3,2148.3 1982.6,2142.6 1990.0,2142.2 1995.8,2141.2 1999.2,2136.1 2005.6,2136.1 2007.3,2139.8 2011.7,2148.3 2011.6,2149.0 2015.6,2156.9 2017.3,2160.6 2017.9,2153.0 2022.2,2152.0 2021.7,2142.4 2024.8,2139.2 2024.7,2130.4 2028.7,2128.9 2029.0,2120.7 2034.3,2118.1 2036.1,2109.3 2040.7,2105.4 2045.2,2111.6 2047.3,2113.5 2052.4,2120.7 2052.3,2111.9 2056.4,2110.5 2056.4,2101.8 2060.3,2100.1 2059.4,2089.8 2063.5,2088.4 2064.1,2080.8 2067.7,2086.6 2069.2,2088.7 2074.6,2097.6 2075.8,2099.2 2076.5,2091.2 2080.9,2089.8 2081.5,2081.6 2086.1,2080.6 2085.4,2070.1 2090.2,2069.5 2091.4,2062.4 2092.7,2065.2 2098.0,2075.1 2097.5,2074.6 2103.2,2085.3 2102.8,2085.1 2107.0,2093.1 2109.5,2089.6 2107.9,2078.8 2111.2,2076.8 2111.0,2068.5 2114.2,2066.3 2113.0,2056.3 2115.8,2053.4 2115.4,2044.7 2118.6,2042.4 2118.7,2034.7 2124.8,2037.3 2128.1,2034.9 2134.3,2037.8 2139.0,2034.1 2141.1,2025.7 2146.0,2022.4 2155.3,2025.1 2161.6,2022.4 2165.8,2018.6 2173.1,2020.3 2177.2,2016.3 2182.2,2015.1 2184.2,2008.6 2189.0,2007.1 2194.7,2002.1 2202.6,2000.9" fill="none" stroke="#000000" stroke-width="8" stroke-linejoin="round"/>
<polyline points="379.5,1890.4 384.2,1887.8 386.8,1881.3 391.2,1878.1 397.7,1876.4 400.3,1867.7 406.8,1865.8 413.3,1866.1 416.2,1860.0 422.4,1859.7 426.4,1855.6 433.4,1856.7 438.0,1853.5 442.2,1850.7 449.5,1853.4 453.6,1850.4 460.1,1851.6 463.3,1847.2 469.2,1847.4 475.1,1846.7 478.8,1841.9 484.8,1841.3 491.3,1844.6 494.0,1841.1 500.4,1844.3 505.4,1850.4 507.6,1851.6 512.0,1856.7 515.0,1851.9 520.9,1852.4 523.8,1847.4 527.6,1843.0 535.4,1845.5 539.4,1841.3 546.5,1844.3 551.3,1843.3 559.0,1847.4 562.7,1841.7 570.8,1843.9 574.5,1838.2 580.3,1836.8 583.0,1829.8 590.1,1830.7 594.0,1826.0 597.4,1830.2 602.7,1837.8 605.7,1841.3 610.7,1836.5 619.7,1839.0 625.2,1835.1 632.2,1837.1 637.0,1835.1 642.1,1841.2 643.9,1841.2 649.3,1847.8 652.5,1850.4 656.4,1849.1 663.9,1854.3 668.1,1853.5 668.6,1857.7 672.3,1867.7 672.4,1871.1 675.3,1879.7 676.0,1884.3 678.8,1877.5 685.1,1876.8 686.1,1866.8 692.0,1865.5 695.4,1859.7 698.3,1862.5 703.7,1869.8 706.4,1872.2 711.0,1878.1 714.9,1884.5 715.4,1884.7 720.7,1893.5 722.7,1896.5 723.7,1899.5 728.1,1908.5 727.0,1907.6 730.5,1915.0 735.0,1922.3 736.1,1923.7 740.7,1931.2 741.5,1932.0 746.1,1939.5 752.5,1943.5 757.8,1945.7 762.5,1953.4 762.6,1952.9 768.7,1963.2 769.4,1963.8 773.4,1970.2 779.8,1973.4 783.3,1971.3 789.0,1973.2 792.2,1975.2 797.5,1980.6 800.7,1982.5 801.5,1986.1 805.4,1995.2 804.2,1995.1 808.1,2004.2 808.5,2007.1 810.4,2009.9 815.3,2018.0 816.3,2019.4 819.1,2027.7 817.8,2028.7 821.4,2038.3 820.4,2040.0 823.7,2049.1 824.1,2053.1 826.9,2059.8 826.8,2061.3 830.8,2070.0 830.5,2071.2 835.1,2081.0 835.8,2083.9 837.9,2089.8 837.5,2091.2 841.6,2100.5 841.4,2102.4 843.6,2108.4 847.7,2109.6 855.3,2116.8 859.2,2117.6 865.9,2124.4 869.1,2124.9 874.8,2129.9 877.4,2131.5 883.5,2139.2 885.9,2140.4 890.4,2145.3 896.9,2150.6 899.6,2149.2 906.0,2154.5 909.3,2156.6 914.4,2161.7 917.7,2163.8 922.2,2167.9 924.7,2168.4 929.4,2172.9 935.3,2175.2 938.7,2173.0 945.0,2176.0 951.0,2176.1 958.8,2179.5 964.5,2179.1 971.7,2183.4 976.6,2183.5 984.0,2188.2 990.0,2188.4 993.9,2184.8 1000.0,2185.2 1005.0,2186.8 1011.7,2191.3 1013.0,2183.9 1018.2,2183.3 1019.5,2176.0 1024.2,2182.6 1026.2,2184.3 1031.2,2191.3 1037.2,2194.8 1040.7,2193.8 1046.8,2197.5 1053.2,2196.4 1056.3,2189.6 1062.4,2188.2 1068.5,2190.8 1072.2,2189.3 1078.0,2191.3 1084.7,2189.4 1093.6,2191.3 1094.5,2195.1 1097.8,2203.2 1096.9,2203.7 1100.6,2212.3 1101.4,2215.9 1107.7,2220.0 1111.2,2218.9 1117.0,2222.0 1120.0,2231.6 1131.9,2243.7 1143.8,2236.2 1154.1,2242.9 1161.7,2234.7 1172.0,2241.0 1184.0,2233.7 1195.6,2242.7 1203.8,2225.5 1215.7,2242.8 1223.1,2235.8 1232.8,2243.0 1242.6,2234.8 1252.7,2242.7 1260.9,2226.0 1271.2,2243.9 1276.7,2218.2 1287.3,2240.0 1293.9,2232.9 1303.7,2242.1 1312.1,2221.3 1321.3,2242.2 1331.8,2221.9 1338.3,2239.8 1347.1,2222.1 1358.9,2241.9 1365.4,2227.4 1376.9,2242.9 1383.6,2236.1 1392.3,2240.5 1400.0,2224.5 1410.9,2242.1 1422.9,2225.6 1429.5,2241.3 1437.0,2217.1 1445.5,2240.7 1460.2,2212.8 1465.8,2212.3 1474.0,2216.3 1479.7,2215.9 1485.1,2213.8 1488.2,2207.6 1494.8,2207.6 1499.2,2203.6 1504.3,2199.1 1513.1,2201.1 1518.7,2197.5 1521.2,2198.8 1527.1,2206.2 1529.2,2206.8 1534.3,2212.8 1539.1,2207.9 1546.0,2206.7 1551.7,2202.3 1559.5,2201.4 1565.5,2197.5 1572.0,2203.4 1574.4,2202.1 1581.0,2208.2 1585.0,2209.8 1590.9,2213.4 1594.2,2212.5 1600.0,2215.9 1607.0,2214.8 1612.4,2210.7 1619.5,2209.8 1627.5,2213.5 1631.2,2209.4 1639.0,2212.8 1646.3,2211.2 1651.3,2205.4 1658.5,2203.6 1666.1,2208.6 1670.2,2207.5 1678.0,2212.8 1684.0,2212.9 1692.1,2216.9 1697.5,2215.9 1705.0,2219.7 1710.0,2219.0 1717.0,2222.0 1724.1,2224.2 1728.7,2221.9 1736.5,2225.2 1744.3,2225.5 1748.9,2220.0 1756.0,2219.0 1763.5,2218.8 1768.0,2213.1 1775.5,2212.8 1782.5,2211.9 1787.2,2206.7 1791.0,2201.1 1799.2,2203.3 1802.8,2197.5 1808.5,2198.1 1817.0,2203.7 1822.3,2203.6 1829.3,2202.5 1834.1,2197.5 1841.8,2197.5 1847.7,2196.7 1851.0,2191.3 1857.4,2191.3 1866.7,2194.0 1873.0,2191.3 1875.4,2185.2 1880.8,2184.3 1881.7,2175.4 1886.7,2173.8 1888.6,2166.8 1889.3,2170.2 1893.1,2179.0 1892.3,2179.7 1895.6,2187.7 1896.4,2191.3 1897.1,2184.0 1901.2,2182.8 1900.1,2172.3 1904.3,2171.2 1903.5,2161.2 1908.1,2160.9 1907.3,2150.9 1911.4,2149.6 1912.0,2142.2 1914.3,2145.7 1918.5,2152.5 1919.4,2153.6 1923.7,2160.6 1924.4,2153.3 1929.1,2153.0 1928.1,2142.6 1933.0,2142.8 1931.9,2132.4 1935.4,2129.9 1937.2,2137.0 1937.1,2140.6 1940.7,2150.9 1939.4,2152.4 1942.5,2161.8 1943.2,2166.8 1946.1,2163.3 1946.6,2155.6 1950.4,2153.7 1950.0,2144.5 1954.6,2143.9 1955.0,2136.1 1957.9,2130.2 1963.4,2129.1 1966.6,2123.8 1968.1,2116.0 1974.2,2116.3 1975.3,2107.8 1979.7,2105.2 1982.2,2099.2 1985.2,2095.4 1985.6,2086.9 1989.6,2084.9 1989.0,2074.8 1993.1,2072.9 1994.0,2065.4 1994.7,2069.4 1998.5,2078.8 1998.4,2081.5 2002.2,2090.9 2000.7,2091.1 2005.5,2102.4 2005.6,2105.4 2007.5,2100.2 2007.6,2092.0 2010.6,2088.9 2009.9,2079.1 2013.2,2076.5 2013.4,2068.5 2013.8,2060.7 2018.5,2060.5 2017.9,2050.8 2022.4,2050.1 2022.1,2041.0 2025.1,2037.8 2027.9,2043.8 2027.4,2044.2 2032.3,2054.0 2032.9,2056.2 2033.7,2049.1 2036.9,2046.4 2036.0,2036.3 2039.0,2033.2 2038.5,2023.8 2042.0,2021.7 2041.3,2012.0 2044.4,2009.0 2044.6,2000.9 2051.1,2000.2 2054.3,1993.5 2060.2,1991.7 2063.3,1987.3 2068.0,1985.6 2069.5,1979.1 2072.7,1975.7 2073.3,1967.8 2076.5,1964.3 2076.8,1955.8 2079.7,1951.8 2084.6,1950.5 2086.9,1944.6 2091.4,1942.6 2097.8,1940.5 2103.1,1936.5 2106.6,1933.0 2107.3,1924.5 2110.9,1921.1 2116.1,1923.1 2122.6,1927.2 2126.8,1922.9 2132.8,1922.0 2135.9,1915.7 2142.1,1915.0 2142.8,1908.0 2147.0,1907.2 2146.0,1897.2 2149.5,1895.2 2149.9,1887.7 2153.4,1885.6 2153.8,1878.1 2158.1,1873.9 2165.5,1875.0 2168.1,1883.2 2166.0,1883.2 2169.4,1893.0 2169.4,1896.5 2171.7,1892.9 2171.3,1884.6 2175.1,1883.7 2174.2,1874.4 2177.2,1872.0 2182.2,1870.8 2184.0,1863.9 2189.0,1862.8 2195.3,1860.6 2200.6,1856.6 2199.8,1848.9 2203.0,1848.2 2202.6,1841.3" fill="none" stroke="#FF80FF" stroke-width="8" stroke-linejoin="round"/>
<polyline points="379.5,1718.4 384.0,1713.0 391.2,1712.3 397.2,1709.6 400.2,1701.7 406.8,1700.0 409.6,1702.0 416.2,1710.5 417.9,1710.5 422.4,1715.4 424.2,1708.9 428.7,1707.1 430.2,1700.0 436.4,1697.2 445.8,1700.0 449.4,1693.1 457.1,1693.5 461.4,1687.7 470.3,1689.7 477.0,1687.7 478.2,1689.3 482.8,1696.9 484.8,1700.0 489.5,1696.4 491.5,1687.8 496.5,1684.6 500.8,1686.2 507.4,1691.8 512.0,1693.9 514.3,1685.9 521.3,1686.2 523.8,1678.5 530.5,1677.0 535.5,1672.4 541.0,1680.0 542.6,1680.4 547.8,1687.4 551.0,1690.8 557.7,1690.4 560.7,1683.3 566.7,1681.6 571.0,1676.9 578.4,1677.8 582.3,1672.4 587.1,1678.1 588.5,1677.8 594.0,1684.6 597.1,1686.3 602.8,1692.5 605.7,1693.9 611.7,1692.1 615.1,1685.9 621.3,1684.6 625.3,1685.5 632.7,1692.5 637.0,1693.9 644.7,1698.1 649.0,1696.3 656.4,1700.0 660.1,1707.7 659.0,1707.0 662.8,1714.8 664.2,1718.4 668.4,1718.4 676.0,1724.6 681.6,1723.5 683.1,1715.2 687.6,1712.3 690.8,1715.6 695.4,1721.5 696.0,1714.5 701.0,1715.4 700.3,1706.1 703.2,1703.1 703.2,1705.4 707.3,1714.9 707.5,1717.6 711.2,1726.3 710.9,1728.2 713.9,1735.7 715.0,1739.9 721.8,1743.1 726.6,1743.0 729.4,1746.1 735.7,1755.4 738.3,1758.3 742.9,1762.5 744.9,1762.3 750.0,1767.6 754.4,1772.4 757.2,1774.2 763.0,1781.4 765.6,1782.9 768.4,1784.0 773.9,1790.0 777.3,1792.1 780.2,1799.5 778.9,1799.3 782.8,1808.3 782.4,1809.8 785.1,1816.7 792.1,1820.3 796.8,1819.8 798.6,1822.3 804.1,1831.6 804.8,1832.1 808.5,1838.2 811.3,1840.3 817.6,1848.6 820.2,1850.4 823.6,1857.9 823.6,1859.2 828.1,1868.5 828.4,1870.4 832.0,1878.1 835.0,1885.1 834.2,1885.4 839.1,1895.8 838.6,1896.5 843.3,1906.5 843.6,1908.8 843.4,1912.5 846.5,1922.1 844.9,1923.2 848.7,1934.0 847.3,1935.6 850.4,1945.1 849.7,1947.9 851.4,1954.9 855.6,1962.5 856.1,1963.5 861.7,1973.6 863.1,1976.4 866.4,1983.1 866.6,1984.1 871.0,1992.6 870.7,1993.0 874.8,2000.9 875.6,2004.6 879.3,2013.5 878.3,2014.0 883.2,2025.0 881.8,2024.8 886.4,2035.4 886.5,2037.8 887.1,2042.2 890.7,2051.9 890.1,2054.3 893.3,2063.4 894.3,2068.5 895.7,2070.5 901.0,2079.3 902.1,2080.8 907.7,2079.8 908.5,2070.1 913.8,2068.5 914.6,2073.2 918.6,2083.8 917.1,2084.5 921.3,2095.4 921.6,2099.2 926.3,2105.2 928.6,2107.1 935.0,2116.0 937.2,2117.6 941.7,2125.0 942.1,2125.0 948.1,2135.1 948.8,2135.7 952.8,2142.2 959.7,2147.3 962.5,2145.1 968.4,2148.3 972.6,2149.6 979.4,2155.4 984.0,2157.5 989.5,2156.3 991.0,2148.0 996.7,2147.3 1000.0,2142.2 1004.5,2147.1 1006.6,2147.7 1012.7,2155.4 1015.6,2157.5 1020.1,2159.4 1026.9,2165.2 1031.2,2166.8 1036.1,2163.6 1042.9,2163.8 1047.3,2165.3 1054.8,2172.4 1058.5,2172.9 1064.0,2168.0 1072.9,2169.3 1078.0,2163.8 1083.6,2170.8 1084.4,2169.4 1089.7,2176.0 1092.9,2184.0 1091.7,2184.2 1096.3,2194.6 1095.0,2194.6 1099.7,2205.2 1098.5,2205.4 1101.4,2212.8 1105.2,2209.8 1104.4,2198.8 1109.6,2198.3 1109.3,2188.2 1113.1,2185.2 1117.4,2187.6 1124.3,2194.8 1128.7,2197.5 1133.2,2192.1 1140.2,2191.2 1144.3,2185.2 1147.2,2180.4 1153.2,2180.9 1156.0,2176.0 1157.3,2179.4 1162.4,2189.4 1163.0,2191.5 1167.9,2201.1 1168.0,2202.4 1171.6,2209.8 1173.8,2202.1 1181.0,2203.3 1182.5,2194.5 1187.2,2191.3 1189.0,2193.9 1194.2,2202.5 1196.0,2205.0 1200.5,2212.5 1202.8,2215.9 1205.6,2217.8 1211.1,2224.5 1212.8,2224.4 1218.4,2231.3 1222.0,2236.1 1233.4,2241.7 1244.6,2222.8 1255.0,2241.2 1264.1,2235.1 1271.4,2239.5 1279.5,2219.9 1290.0,2239.7 1297.9,2231.8 1307.1,2241.8 1318.5,2235.2 1328.5,2242.4 1334.0,2235.6 1340.3,2242.3 1351.9,2220.5 1363.3,2242.0 1373.2,2226.8 1380.7,2241.7 1387.1,2233.5 1395.1,2243.9 1402.0,2230.8 1407.8,2239.7 1417.0,2228.6 1426.1,2244.0 1435.0,2227.8 1444.6,2222.0 1449.2,2219.7 1450.1,2211.0 1455.6,2210.2 1455.6,2199.8 1460.2,2197.5 1463.8,2192.6 1471.2,2194.4 1475.8,2191.3 1482.0,2191.1 1485.6,2186.2 1491.4,2185.2 1494.6,2179.3 1500.0,2177.4 1501.7,2168.9 1507.0,2166.8 1514.4,2169.6 1518.7,2166.8 1522.8,2173.5 1523.0,2173.2 1528.1,2181.7 1530.4,2185.2 1536.6,2188.0 1539.4,2184.7 1546.0,2188.2 1552.2,2186.0 1555.6,2178.7 1561.6,2176.0 1564.5,2178.2 1570.7,2186.5 1573.3,2188.2 1579.7,2193.4 1582.1,2191.4 1589.0,2197.5 1595.0,2196.9 1597.9,2190.8 1604.5,2191.3 1613.2,2193.4 1619.5,2191.3 1625.1,2195.7 1628.3,2195.8 1635.6,2203.2 1639.0,2203.6 1644.7,2199.1 1653.3,2199.8 1658.5,2194.5 1663.0,2191.1 1670.3,2192.8 1674.1,2188.2 1681.4,2189.7 1686.4,2187.0 1693.6,2188.2 1696.2,2189.9 1702.8,2198.9 1705.3,2200.6 1710.5,2198.3 1719.1,2201.9 1724.8,2200.6 1729.4,2204.8 1730.9,2203.6 1736.5,2209.8 1743.3,2213.6 1745.9,2210.0 1752.1,2212.8 1754.2,2206.0 1760.0,2206.0 1760.0,2195.5 1766.1,2195.7 1767.7,2188.2 1772.0,2195.2 1773.0,2196.4 1777.8,2204.3 1779.4,2206.7 1785.3,2212.0 1788.7,2212.9 1795.0,2219.0 1797.4,2227.1 1796.3,2229.0 1798.9,2237.4 1801.0,2233.6 1799.8,2224.0 1803.5,2223.1 1801.1,2211.4 1804.6,2210.1 1803.8,2201.1 1806.8,2199.0 1806.7,2191.3 1814.2,2191.3 1818.4,2185.2 1823.5,2186.9 1830.1,2191.3 1834.4,2191.6 1841.8,2197.5 1841.2,2189.8 1843.2,2186.8 1841.7,2177.6 1844.3,2175.6 1842.6,2166.0 1845.1,2163.9 1843.6,2154.7 1845.9,2152.2 1845.7,2145.3 1848.8,2138.7 1854.1,2136.1 1857.4,2129.9 1857.9,2122.7 1862.6,2123.1 1862.3,2114.4 1865.2,2111.5 1872.3,2110.6 1876.9,2105.4 1882.2,2112.4 1884.7,2114.6 1886.4,2109.7 1885.7,2100.7 1888.8,2098.2 1887.3,2087.7 1891.0,2086.3 1889.3,2075.5 1892.6,2073.4 1892.5,2065.4 1896.5,2066.4 1904.0,2073.5 1908.1,2074.6 1910.5,2071.8 1909.5,2062.9 1912.5,2061.2 1912.0,2053.1 1918.0,2050.0 1927.6,2053.1 1927.6,2045.0 1931.2,2043.3 1929.9,2033.0 1933.0,2030.2 1931.5,2019.5 1935.3,2018.2 1935.4,2010.2 1938.8,2007.7 1943.2,2007.1 1946.7,2004.7 1945.8,1994.5 1950.5,1994.3 1949.8,1984.4 1953.8,1982.8 1955.0,1976.4 1962.0,1978.4 1966.6,1976.4 1967.8,1968.7 1973.5,1969.1 1974.0,1960.1 1978.3,1958.0 1978.5,1951.0 1981.8,1949.4 1979.9,1938.7 1983.5,1937.8 1981.0,1926.1 1984.4,1924.7 1983.1,1915.1 1986.6,1913.9 1986.1,1905.7 1989.1,1907.3 1994.7,1913.2 1997.8,1915.0 2001.4,1920.8 2001.3,1920.1 2005.6,1927.2 2007.2,1923.7 2004.4,1912.3 2007.2,1910.8 2005.7,1901.8 2008.7,1900.6 2006.3,1890.0 2009.0,1888.4 2006.3,1877.2 2009.8,1877.0 2007.7,1866.9 2009.6,1863.8 2007.3,1853.3 2010.2,1851.9 2009.5,1844.3 2012.5,1852.5 2011.8,1854.0 2015.5,1863.3 2014.2,1863.7 2017.3,1872.0 2019.8,1865.4 2026.0,1865.3 2029.0,1859.7 2028.9,1863.6 2032.1,1873.5 2030.9,1875.5 2035.1,1887.1 2032.9,1887.4 2036.8,1898.6 2036.8,1902.7 2035.8,1893.5 2039.4,1892.5 2037.9,1882.4 2040.5,1879.7 2039.7,1870.9 2042.6,1868.6 2040.0,1856.6 2043.7,1855.7 2041.7,1844.7 2045.5,1844.2 2044.6,1835.1 2050.8,1834.8 2053.8,1828.9 2060.2,1829.0 2063.4,1831.8 2069.1,1839.1 2071.9,1841.3 2073.1,1836.2 2071.6,1826.5 2075.0,1825.4 2072.4,1813.7 2076.0,1812.9 2073.7,1801.7 2075.8,1798.3 2078.1,1791.9 2083.0,1790.1 2084.4,1782.2 2089.4,1780.7 2091.4,1773.7 2096.0,1774.6 2103.1,1779.8 2106.6,1776.3 2107.6,1768.2 2113.2,1768.3 2114.8,1761.4 2117.8,1756.1 2123.4,1755.1 2125.1,1747.4 2130.4,1746.1 2136.7,1744.9 2139.4,1737.4 2146.0,1736.9 2149.4,1734.9 2149.1,1726.2 2153.4,1725.8 2153.8,1718.4 2158.2,1714.4 2165.5,1715.4 2164.8,1718.5 2169.0,1730.4 2167.7,1732.4 2169.4,1739.9 2170.0,1733.1 2172.8,1730.0 2171.7,1720.2 2175.6,1719.2 2174.4,1709.1 2177.2,1706.1 2181.8,1703.2 2184.5,1696.9 2189.0,1693.9 2193.2,1688.0 2200.6,1687.7" fill="none" stroke="#008080" stroke-width="8" stroke-linejoin="round"/>
<polyline points="383.4,1580.3 388.7,1585.9 391.2,1586.5 395.4,1582.1 402.3,1582.7 404.7,1575.2 410.7,1574.2 415.4,1575.2 422.4,1580.3 425.0,1573.8 431.1,1573.7 434.1,1568.0 440.8,1568.6 443.9,1562.9 449.7,1561.9 453.3,1557.0 461.0,1559.3 465.3,1555.7 472.1,1555.0 476.3,1549.9 484.2,1551.1 488.7,1546.5 493.2,1551.3 495.4,1552.1 501.2,1559.4 504.3,1561.9 510.0,1559.7 513.3,1553.3 520.0,1552.8 527.6,1555.8 531.9,1552.9 539.4,1555.7 546.6,1554.8 555.0,1555.7 561.4,1552.3 571.4,1555.2 578.4,1552.8 584.1,1551.2 587.3,1545.1 594.6,1546.2 597.9,1540.4 605.7,1545.8 610.4,1545.6 617.4,1549.6 623.4,1548.6 631.8,1552.0 637.0,1549.6 641.6,1555.0 644.0,1556.4 648.6,1561.9 656.5,1561.2 660.6,1553.9 668.1,1552.8 676.6,1555.0 682.8,1553.1 691.5,1555.7 696.8,1555.7 705.5,1561.6 711.0,1561.9 715.3,1563.0 724.2,1572.3 727.0,1570.5 734.4,1577.2 738.0,1578.5 746.1,1587.7 750.0,1589.5 754.1,1591.6 761.3,1599.3 765.6,1601.8 766.6,1604.8 771.0,1613.7 770.5,1613.9 773.4,1620.2 778.7,1626.9 780.2,1626.6 785.1,1632.5 790.4,1638.1 791.5,1636.2 796.8,1641.7 801.0,1641.0 807.9,1645.0 812.4,1644.9 817.4,1652.2 819.0,1653.4 825.2,1662.9 828.0,1666.3 832.5,1672.5 834.2,1673.7 839.7,1681.6 839.8,1684.1 844.1,1694.0 844.1,1696.4 847.1,1703.9 847.0,1705.9 851.2,1715.7 851.4,1718.4 854.7,1721.5 860.7,1729.3 863.1,1730.7 863.7,1735.1 867.6,1745.4 866.9,1747.5 870.5,1757.2 871.0,1761.4 873.2,1767.7 872.8,1769.3 876.9,1778.9 876.3,1780.1 880.2,1789.3 880.0,1791.4 882.6,1798.3 888.0,1804.0 890.4,1804.4 893.2,1812.9 892.6,1815.5 895.6,1824.3 895.7,1828.0 899.0,1837.3 897.7,1838.6 901.8,1849.5 902.1,1853.5 902.5,1858.3 906.0,1868.6 905.0,1870.9 907.5,1879.5 906.8,1882.3 910.3,1892.5 909.5,1895.1 912.6,1904.7 912.0,1907.7 913.8,1915.0 916.3,1922.8 915.8,1925.2 919.9,1936.0 919.0,1937.8 921.6,1945.7 922.2,1948.4 927.1,1958.7 926.2,1958.8 930.4,1967.8 930.2,1969.1 933.3,1976.4 933.6,1980.7 936.2,1989.0 935.8,1992.0 938.8,2001.1 938.3,2003.9 940.9,2012.2 941.1,2016.3 948.5,2020.5 952.8,2019.4 955.9,2027.0 956.1,2029.5 959.6,2038.0 959.0,2039.1 964.0,2050.0 964.5,2053.1 967.7,2056.0 973.7,2063.8 976.2,2065.4 981.2,2065.3 988.0,2068.5 995.5,2069.6 1000.0,2065.4 1003.4,2071.9 1004.0,2073.5 1007.8,2080.8 1008.8,2083.7 1012.7,2091.7 1012.4,2092.3 1015.6,2099.2 1019.8,2101.6 1027.5,2110.1 1031.2,2111.5 1035.9,2116.0 1039.0,2117.6 1044.7,2120.5 1048.4,2119.9 1054.6,2123.8 1059.3,2130.5 1061.4,2132.8 1067.3,2141.7 1070.2,2145.3 1074.3,2146.4 1081.5,2152.9 1085.8,2154.5 1092.5,2159.1 1095.6,2157.6 1101.4,2160.6 1106.0,2155.4 1112.5,2153.6 1117.0,2148.3 1119.1,2157.3 1117.4,2159.3 1119.2,2167.7 1117.9,2170.6 1120.8,2180.9 1119.7,2184.1 1120.9,2191.3 1121.4,2183.6 1125.5,2182.1 1125.3,2173.2 1128.8,2170.6 1128.7,2161.9 1131.7,2158.5 1132.6,2151.4 1133.0,2153.2 1138.0,2163.3 1137.8,2164.0 1140.4,2169.8 1139.9,2173.0 1142.9,2182.4 1142.8,2186.2 1145.0,2194.1 1143.7,2195.8 1147.0,2205.8 1146.1,2208.2 1148.2,2215.9 1152.5,2211.2 1159.5,2211.3 1163.8,2206.7 1166.3,2208.1 1172.3,2215.7 1175.0,2217.3 1179.4,2222.0 1186.1,2228.9 1188.4,2227.7 1195.0,2234.3 1200.0,2237.6 1210.6,2245.2 1222.0,2237.8 1227.5,2243.1 1239.7,2221.2 1247.3,2245.4 1258.5,2233.7 1265.2,2241.6 1273.2,2237.6 1282.2,2243.8 1294.6,2237.6 1300.7,2243.8 1307.2,2237.1 1316.8,2244.2 1327.8,2234.6 1334.2,2241.0 1345.3,2226.7 1351.3,2243.7 1357.1,2232.9 1368.5,2245.5 1378.1,2222.7 1387.0,2245.5 1394.1,2237.8 1403.0,2245.6 1413.0,2227.9 1424.0,2244.3 1434.7,2234.9 1442.6,2245.0 1449.8,2231.7 1456.3,2203.6 1458.2,2197.2 1463.6,2197.0 1464.2,2188.3 1468.0,2185.2 1474.3,2183.0 1479.7,2179.1 1486.3,2177.3 1491.4,2172.9 1492.1,2165.2 1496.7,2164.2 1496.9,2155.5 1501.3,2154.3 1503.1,2148.3 1506.1,2143.6 1510.9,2142.2 1517.6,2146.7 1522.6,2148.3 1527.1,2146.0 1534.3,2148.3 1538.8,2149.1 1546.0,2154.5 1548.9,2147.6 1555.3,2146.8 1557.7,2139.1 1562.3,2137.0 1569.4,2139.1" fill="none" stroke="#000080" stroke-width="8" stroke-linejoin="round"/>
<polyline points="379.5,1466.7 385.9,1470.8 391.2,1472.8 395.4,1467.9 402.0,1467.0 405.0,1459.8 410.7,1457.5 415.2,1458.4 422.7,1464.3 426.3,1463.6 432.1,1468.7 435.5,1469.6 442.0,1475.9 442.9,1468.4 448.0,1468.6 448.3,1460.0 452.0,1457.5 453.6,1451.3 458.2,1457.8 460.7,1460.4 465.3,1466.7 468.5,1463.4 469.1,1455.4 473.7,1454.4 473.2,1444.5 477.0,1442.1 484.6,1445.0 488.7,1441.9 496.5,1445.2 504.5,1447.9 508.4,1443.2 516.0,1445.2 521.8,1449.9 524.3,1448.7 531.7,1456.3 535.5,1457.5 543.5,1458.2 547.8,1452.2 555.0,1451.3 563.0,1453.0 566.6,1446.8 574.5,1448.3 579.6,1446.7 588.1,1451.5 594.0,1451.3 600.8,1448.7 611.2,1452.6 615.8,1446.3 625.2,1448.3 633.4,1452.2 638.0,1449.7 646.6,1454.5 652.5,1454.3 657.5,1454.8 666.9,1462.9 672.0,1463.6 678.8,1460.9 682.9,1453.5 691.8,1454.5 695.8,1446.9 703.2,1445.2 708.5,1444.0 718.1,1450.6 722.5,1447.7 730.5,1451.3 738.3,1455.6 742.2,1453.1 750.0,1457.5 753.3,1458.6 760.6,1466.7 763.1,1466.4 769.5,1472.8 771.1,1475.9 776.3,1485.2 777.2,1487.1 781.2,1494.3 786.5,1491.7 787.7,1481.7 793.0,1479.0 796.8,1485.9 797.5,1487.4 802.4,1496.3 804.6,1500.5 811.3,1498.5 820.2,1500.5 823.0,1506.6 822.6,1507.1 826.7,1515.4 828.0,1518.9 833.5,1525.5 835.0,1525.1 841.1,1532.8 843.6,1534.3 847.5,1541.9 846.7,1541.4 851.9,1551.3 852.3,1552.7 855.3,1558.8 858.3,1560.4 864.5,1567.4 867.0,1568.0 867.5,1571.7 871.3,1581.0 870.7,1582.7 875.3,1593.6 873.9,1593.9 878.4,1604.7 878.7,1607.9 883.4,1613.3 885.2,1613.8 890.4,1620.2 893.2,1628.5 892.0,1629.7 895.9,1639.9 895.1,1641.9 898.4,1651.1 898.2,1654.0 902.1,1661.4 902.3,1662.2 906.0,1669.3 906.6,1673.7 910.5,1683.9 909.2,1685.2 913.1,1695.4 913.8,1700.0 913.3,1704.0 916.2,1714.0 914.5,1715.8 917.4,1725.8 916.1,1728.3 918.3,1737.1 916.6,1738.8 919.3,1748.4 917.9,1750.9 920.8,1760.8 919.4,1763.2 921.8,1772.2 921.6,1776.8 922.1,1781.7 924.8,1790.6 924.5,1794.2 927.3,1803.1 926.9,1806.5 929.7,1815.5 928.7,1817.9 931.6,1827.0 931.5,1831.0 933.3,1838.2 936.1,1846.7 934.8,1847.9 938.4,1857.7 937.8,1860.1 941.1,1869.6 940.5,1872.0 944.0,1881.6 942.5,1882.5 945.0,1890.4 948.1,1898.7 947.6,1900.6 950.9,1909.1 950.3,1910.8 954.8,1921.5 954.2,1923.2 956.7,1930.3 959.9,1937.7 959.6,1938.8 964.0,1948.3 962.9,1948.0 968.0,1958.7 968.4,1961.0 968.3,1964.0 972.6,1974.8 972.0,1977.0 975.8,1986.8 975.2,1988.9 978.3,1997.5 977.9,2000.0 980.1,2007.1 982.9,2009.3 989.0,2017.3 991.8,2019.4 995.0,2014.7 1000.0,2013.2 1003.1,2020.8 1002.2,2021.5 1005.4,2029.2 1005.2,2031.0 1007.8,2037.8 1014.7,2042.8 1019.5,2043.9 1022.5,2046.5 1028.2,2053.8 1031.2,2056.2 1032.9,2058.7 1038.5,2067.9 1039.4,2069.0 1042.9,2074.6 1046.2,2078.1 1051.4,2085.1 1053.4,2086.3 1058.5,2093.1 1060.4,2095.9 1065.7,2104.5 1067.2,2106.6 1072.5,2115.3 1074.1,2117.6 1078.5,2113.6 1085.4,2114.2 1088.2,2107.4 1093.6,2105.4 1096.1,2111.9 1095.2,2112.5 1099.1,2121.6 1099.1,2123.7 1101.4,2129.9 1104.1,2122.6 1110.8,2122.5 1113.1,2114.6 1115.6,2121.2 1115.1,2122.4 1118.3,2130.3 1118.6,2132.8 1120.9,2139.1 1124.1,2134.7 1130.1,2135.6 1132.6,2129.9 1135.3,2136.3 1135.7,2138.7 1139.2,2146.6 1139.4,2148.7 1143.6,2157.8 1144.3,2160.6 1148.6,2163.1 1155.7,2170.5 1160.0,2172.9 1165.0,2173.0 1171.6,2176.0 1175.5,2183.4 1176.2,2185.2 1180.9,2194.0 1181.4,2195.3 1185.4,2203.0 1187.2,2206.7 1189.6,2210.4 1194.1,2217.6 1195.0,2218.7 1200.7,2228.2 1202.8,2231.3 1208.0,2228.2 1219.1,2244.4 1228.5,2223.6 1239.6,2245.1 1246.1,2225.7 1252.3,2241.0 1259.4,2219.8 1265.8,2245.4 1276.3,2220.0 1284.4,2241.8 1295.5,2237.8 1305.3,2244.9 1313.5,2221.0 1322.3,2243.0 1332.0,2228.4 1342.7,2243.6 1350.4,2218.2 1359.6,2241.8 1367.8,2228.0 1375.5,2243.0 1385.0,2229.7 1390.7,2244.9 1399.9,2237.2 1409.7,2244.5 1415.7,2228.3 1420.6,2244.3 1428.5,2230.4 1440.7,2191.3 1441.5,2185.2 1444.5,2182.8 1444.0,2174.2 1448.4,2174.3 1448.5,2166.8 1455.4,2167.1 1460.2,2163.8 1463.5,2160.0 1464.1,2151.2 1468.0,2148.3 1472.6,2146.4 1475.8,2142.2 1481.1,2140.6 1482.3,2131.7 1487.5,2129.9 1492.0,2125.8 1493.9,2117.2 1499.2,2114.6 1506.2,2118.1 1510.9,2117.6 1515.1,2115.2 1515.5,2106.2 1520.5,2105.3 1522.6,2099.2 1526.1,2095.7 1527.1,2087.6 1532.5,2087.5 1534.3,2080.8 1535.7,2073.6 1540.2,2071.8 1542.1,2065.4 1546.6,2059.8 1553.8,2059.3 1555.3,2053.3 1560.0,2052.9 1561.6,2047.0 1563.9,2043.5 1563.4,2034.8 1567.7,2034.7 1567.4,2026.5 1569.4,2022.4 1575.9,2023.7 1578.2,2017.6 1585.0,2019.4 1585.2,2010.8 1588.9,2008.5 1588.5,1998.8 1591.9,1996.0 1592.8,1988.7 1594.6,1983.1 1599.3,1982.7 1600.6,1976.4 1604.3,1973.6 1604.3,1964.1 1607.8,1961.0 1609.3,1954.7 1613.7,1953.4 1613.8,1944.6 1618.7,1944.0 1619.5,1936.5 1621.2,1928.9 1625.9,1926.6 1627.1,1918.2 1631.2,1915.0 1633.8,1911.8 1633.3,1903.4 1637.0,1902.1 1636.2,1893.2 1639.0,1890.4 1641.6,1892.6 1646.8,1899.6 1648.7,1895.4 1648.0,1886.6 1651.6,1885.3 1650.1,1875.1 1653.5,1873.5 1652.5,1864.1 1654.9,1860.7 1654.2,1851.9 1657.5,1850.1 1656.7,1841.1 1658.5,1836.7 1665.9,1839.9 1670.4,1837.7 1678.0,1841.3 1680.7,1843.7 1685.8,1850.4 1687.7,1859.0 1685.7,1860.8 1688.0,1870.1 1686.1,1871.9 1688.7,1881.8 1686.6,1883.3 1688.9,1892.6 1687.4,1895.2 1690.0,1905.0 1688.3,1907.3 1689.7,1915.0 1692.1,1911.6 1691.5,1902.7 1695.7,1902.5 1694.7,1893.1 1697.5,1890.4 1698.3,1884.2 1702.0,1883.1 1703.4,1878.1 1704.9,1886.0 1703.0,1887.6 1705.5,1897.1 1704.5,1900.6 1706.2,1908.6 1704.7,1911.1 1707.2,1920.6 1706.0,1923.6 1708.8,1933.7 1707.2,1935.9 1709.1,1944.5 1707.9,1947.5 1709.2,1954.9 1709.2,1947.8 1712.7,1946.9 1711.3,1937.3 1713.1,1933.4 1713.2,1938.4 1715.4,1947.2 1714.4,1950.5 1717.0,1960.0 1716.0,1963.2 1718.3,1972.1 1717.3,1975.4 1720.0,1985.1 1717.7,1985.8 1721.0,1996.6 1719.2,1998.3 1722.7,2009.5 1720.5,2010.6 1723.6,2020.9 1722.6,2024.0 1725.2,2033.5 1724.8,2037.8 1726.6,2044.8 1726.6,2048.7 1729.8,2058.2 1729.2,2060.9 1732.4,2070.4 1731.7,2073.1 1734.5,2081.9 1733.8,2084.4 1736.5,2093.1 1736.5,2096.2 1740.3,2106.1 1739.9,2108.5 1743.3,2117.8 1743.2,2120.8 1746.0,2129.0 1745.8,2131.8 1748.2,2139.1 1751.3,2145.7 1752.4,2148.7 1756.6,2157.1 1758.0,2160.6 1760.1,2156.1 1759.5,2146.9 1762.9,2144.6 1761.7,2134.4 1763.8,2129.9 1769.2,2137.8 1770.7,2138.5 1775.5,2145.3 1778.0,2142.1 1777.8,2133.9 1781.1,2132.2 1781.2,2124.6 1783.3,2120.7 1783.4,2122.9 1787.2,2131.9 1786.4,2132.7 1790.6,2142.3 1791.1,2145.3 1794.1,2141.5 1793.5,2131.4 1797.6,2129.6 1797.6,2120.5 1801.8,2118.7 1802.8,2111.5 1805.3,2107.8 1803.6,2096.7 1806.8,2094.2 1806.7,2085.9 1809.8,2083.2 1808.6,2073.1 1810.6,2068.5 1810.9,2060.6 1814.9,2059.4 1813.8,2049.0 1817.4,2047.2 1816.7,2037.5 1820.4,2035.8 1820.3,2027.2 1822.3,2022.4 1822.6,2014.6 1826.5,2013.1 1826.1,2004.2 1828.7,2000.3 1828.9,1992.4 1832.3,1990.0 1831.0,1979.5 1834.0,1976.4 1835.1,1968.7 1839.9,1967.3 1841.8,1961.0 1844.1,1957.6 1842.3,1947.0 1845.7,1945.5 1844.8,1936.5 1847.7,1934.0 1846.5,1924.5 1849.4,1922.1 1849.6,1915.0 1853.1,1912.6 1852.2,1902.5 1856.8,1902.1 1855.9,1891.8 1860.5,1891.5 1861.3,1884.3 1861.6,1877.3 1864.5,1874.9 1862.7,1864.2 1866.6,1863.7 1864.7,1852.9 1867.9,1851.0 1867.1,1842.2 1869.1,1838.2 1872.1,1834.6 1870.7,1823.3 1875.3,1822.4 1874.4,1811.9 1876.9,1807.5 1878.0,1799.7 1883.5,1799.8 1884.7,1792.1 1884.9,1785.1 1887.6,1782.6 1885.8,1772.1 1888.9,1770.2 1888.0,1761.3 1891.2,1759.6 1889.2,1748.8 1893.1,1748.2 1892.5,1739.9 1895.3,1736.4 1900.3,1736.9 1903.1,1741.4 1904.2,1743.0 1906.1,1739.2 1904.7,1729.6 1907.1,1726.7 1905.4,1716.6 1907.5,1713.1 1906.0,1703.3 1908.1,1700.0 1909.8,1696.5 1908.2,1687.1 1910.5,1684.5 1908.8,1674.9 1910.8,1671.9 1909.8,1663.6 1911.8,1660.6 1911.0,1652.6 1912.0,1647.9 1915.5,1654.2 1917.3,1657.7 1922.2,1666.4 1923.7,1669.3 1924.8,1661.6 1929.6,1660.5 1929.6,1650.7 1934.0,1649.0 1935.4,1641.7 1938.2,1637.7 1937.9,1628.4 1941.1,1625.2 1940.4,1614.9 1943.2,1611.0 1945.0,1617.9 1944.6,1621.0 1947.5,1629.8 1946.7,1632.2 1949.4,1640.6 1948.7,1643.2 1951.0,1650.9 1953.8,1647.0 1953.9,1638.3 1956.9,1634.8 1957.0,1626.0 1961.0,1624.2 1960.3,1614.2 1964.3,1612.3 1964.0,1603.0 1966.6,1598.7 1968.4,1606.0 1968.0,1609.3 1970.5,1617.8 1969.1,1619.3 1972.7,1629.7 1972.0,1632.5 1974.4,1640.9 1974.4,1644.9 1973.7,1636.9 1976.6,1635.1 1974.3,1624.1 1977.0,1622.2 1974.9,1611.6 1977.9,1610.1 1976.4,1600.5 1978.9,1598.1 1977.3,1588.5 1979.0,1584.6 1977.8,1575.6 1980.4,1573.4 1978.9,1564.0 1981.4,1561.5 1980.3,1552.8 1983.4,1558.5 1984.1,1560.0 1988.4,1568.0 1990.0,1571.1 1991.0,1574.1 1995.3,1582.8 1995.0,1583.4 1997.8,1589.5 1998.2,1582.2 2001.1,1579.3 2000.3,1570.0 2003.0,1566.7 2002.1,1557.0 2004.7,1553.6 2004.7,1545.6 2007.2,1542.1 2006.0,1531.9 2009.7,1530.4 2009.5,1522.0 2009.2,1526.9 2011.0,1535.4 2010.0,1538.9 2012.6,1548.9 2010.4,1550.3 2013.3,1560.8 2012.0,1563.8 2014.1,1572.8 2013.1,1576.4 2015.1,1585.2 2013.1,1587.0 2015.8,1597.2 2015.4,1601.8 2017.5,1598.5 2015.7,1588.3 2018.6,1586.3 2017.3,1577.1 2020.6,1575.8 2018.4,1564.9 2021.7,1563.6 2021.2,1555.7" fill="none" stroke="#FF0000" stroke-width="8" stroke-linejoin="round"/>
<polyline points="379.5,1288.6 383.3,1295.8 383.7,1297.1 387.3,1303.9 392.5,1301.1 394.4,1292.5 399.0,1288.6 403.9,1283.8 410.7,1282.4 415.8,1287.6 417.8,1287.4 422.4,1291.7 426.5,1287.6 433.4,1288.7 438.0,1285.5 442.4,1281.1 449.8,1281.9 453.6,1276.4 460.8,1278.7 465.5,1276.5 473.0,1279.4 480.3,1279.7 485.5,1276.4 492.6,1276.4 495.2,1279.2 501.1,1287.9 504.3,1291.7 509.2,1289.9 516.0,1291.7 518.5,1293.0 524.8,1301.1 526.9,1301.8 531.6,1307.1 538.0,1310.1 540.6,1306.5 547.2,1310.1 550.4,1313.7 555.5,1320.8 557.5,1322.4 563.4,1330.9 566.7,1334.6 570.0,1337.7 575.4,1344.5 578.4,1346.9 579.0,1349.1 583.1,1357.5 583.4,1359.2 586.2,1365.4 590.4,1365.7 597.1,1370.4 601.8,1371.5 606.4,1376.5 608.4,1377.1 614.6,1384.9 617.4,1386.9 623.5,1390.5 626.6,1388.7 633.0,1392.9 637.7,1387.8 645.7,1388.6 649.6,1382.1 656.4,1380.7 659.4,1383.0 664.9,1389.6 667.4,1390.9 672.0,1396.1 680.6,1398.6 686.9,1396.9 695.4,1399.2 702.5,1403.0 706.5,1401.2 713.5,1404.8 718.8,1405.3 725.3,1407.9 729.1,1405.8 737.6,1412.1 742.2,1411.4 748.6,1410.6 757.0,1413.4 761.5,1409.3 769.5,1411.4 774.1,1416.7 776.4,1417.9 781.2,1423.6 787.2,1422.1 790.6,1415.8 796.8,1414.5 800.8,1413.4 808.5,1418.9 812.4,1417.6 818.6,1413.4 827.1,1413.3 832.2,1407.1 839.7,1405.3 842.8,1409.0 848.9,1417.9 851.4,1420.6 857.5,1424.3 861.1,1423.4 867.0,1426.8 869.9,1429.6 875.3,1437.0 877.3,1438.1 882.6,1445.2 884.3,1449.5 888.6,1458.5 889.1,1460.9 893.1,1469.3 894.3,1472.8 897.4,1481.4 897.1,1484.2 900.7,1493.6 899.9,1495.5 903.8,1505.5 903.5,1508.1 906.0,1515.7 910.9,1519.2 913.8,1518.9 916.1,1527.0 914.8,1528.7 917.9,1538.3 916.5,1539.8 919.3,1548.8 918.7,1551.8 921.1,1560.1 921.6,1565.0 923.1,1571.6 922.1,1574.0 925.4,1583.8 924.7,1586.5 927.6,1595.8 926.8,1598.4 929.0,1606.2 929.4,1611.0 931.0,1617.8 930.6,1621.3 933.0,1629.5 932.4,1632.5 935.0,1641.2 933.9,1643.2 937.2,1653.0 937.2,1657.1 936.9,1660.9 939.7,1670.0 938.1,1671.3 940.7,1680.3 941.0,1685.0 940.5,1688.8 943.1,1698.1 942.9,1702.5 945.0,1710.8 944.3,1714.3 946.9,1723.6 945.8,1726.4 948.6,1735.9 947.3,1738.3 949.0,1746.1 950.9,1753.2 950.3,1755.9 953.2,1764.9 952.8,1768.0 955.6,1776.7 955.1,1779.6 958.5,1789.4 957.6,1791.7 960.9,1801.4 959.7,1803.0 962.6,1811.9 962.3,1815.1 964.5,1822.8 965.0,1827.2 968.5,1836.7 967.9,1839.0 971.9,1849.5 971.1,1851.4 974.4,1860.6 974.6,1864.4 977.6,1873.1 977.1,1875.6 980.1,1884.3 980.9,1889.2 983.9,1897.9 983.6,1900.9 986.1,1909.0 986.0,1912.2 988.5,1920.1 988.1,1922.8 991.9,1933.1 991.8,1936.5 996.6,1942.3 1000.0,1945.7 999.9,1949.4 1003.9,1960.2 1002.7,1961.9 1005.8,1971.4 1006.0,1975.5 1007.8,1982.5 1012.7,1988.4 1015.1,1989.9 1019.5,1994.8 1021.4,1998.9 1025.6,2007.2 1025.3,2007.5 1030.0,2016.5 1031.2,2019.4 1034.4,2026.1 1033.8,2026.2 1038.1,2035.1 1039.0,2037.8 1045.9,2042.7 1050.7,2043.9 1054.1,2048.2 1059.6,2056.1 1062.4,2059.3 1064.9,2067.1 1065.1,2070.7 1068.4,2080.0 1067.8,2082.3 1070.2,2090.0 1071.1,2082.7 1075.0,2080.8 1075.2,2072.5 1078.0,2068.5 1083.1,2067.2 1089.7,2068.5 1093.5,2075.5 1094.9,2078.1 1099.9,2087.1 1101.4,2090.0 1103.9,2090.6 1109.9,2097.4 1113.1,2099.2 1112.2,2102.7 1115.0,2112.7 1113.0,2114.2 1115.6,2123.7 1114.0,2126.0 1116.5,2135.4 1115.0,2137.8 1117.2,2146.7 1117.0,2151.4 1120.9,2147.8 1121.6,2138.5 1126.5,2136.5 1128.7,2129.9 1130.5,2134.4 1134.8,2143.5 1134.9,2145.1 1139.1,2153.8 1140.4,2157.5 1146.7,2160.4 1150.3,2158.7 1156.0,2160.6 1157.2,2164.5 1161.0,2172.7 1160.8,2174.1 1165.1,2183.4 1164.5,2184.0 1167.7,2191.3 1170.4,2193.8 1176.1,2201.5 1178.8,2204.2 1183.3,2209.8 1186.9,2216.3 1188.7,2219.6 1192.6,2226.8 1195.0,2231.3 1201.7,2235.8 1206.7,2237.4 1210.0,2234.5 1220.5,2245.2 1229.6,2234.5 1240.7,2243.1 1251.6,2235.2 1258.5,2244.5 1266.0,2228.8 1277.1,2245.0 1283.9,2227.5 1293.6,2242.0 1302.8,2225.2 1310.4,2245.4 1315.8,2220.6 1320.8,2243.3 1327.2,2234.2 1333.9,2241.5 1344.9,2229.9 1354.0,2241.0 1364.1,2236.6 1369.5,2245.0 1374.7,2235.9 1384.7,2244.3 1390.8,2221.5 1396.3,2241.4 1404.6,2228.2 1413.9,2241.4 1425.1,2216.9 1429.9,2241.1 1440.7,2191.3 1443.1,2187.2 1442.5,2177.7 1444.6,2172.9 1445.3,2166.4 1448.5,2164.5 1448.6,2157.0 1452.0,2155.3 1452.4,2148.3 1455.7,2146.2 1454.9,2136.7 1459.4,2136.6 1460.2,2129.9 1463.3,2136.5 1462.9,2137.0 1467.0,2145.4 1468.0,2148.3 1473.7,2146.1 1477.4,2140.4 1483.6,2139.1 1487.4,2136.7 1487.4,2127.8 1492.0,2126.8 1491.6,2117.0 1495.3,2114.6 1499.9,2112.8 1502.4,2107.1 1507.0,2105.4 1510.5,2102.3 1510.2,2092.6 1514.8,2091.6 1514.7,2082.1 1519.1,2080.7 1519.0,2071.4 1522.6,2068.5 1525.3,2061.7 1530.4,2059.3 1532.8,2055.0 1532.5,2046.2 1535.0,2042.0 1534.2,2032.3 1537.6,2029.8 1538.2,2022.4 1542.4,2019.3 1543.0,2009.7 1548.3,2008.5 1550.0,2000.9 1555.0,1997.8 1556.6,1988.6 1561.6,1985.6 1562.7,1978.7 1566.8,1977.1 1566.1,1967.1 1569.4,1964.1 1571.0,1957.2 1576.7,1957.4 1577.6,1949.2 1581.1,1945.7 1584.1,1942.0 1583.2,1931.6 1586.9,1929.2 1586.1,1918.7 1589.0,1915.0 1591.0,1910.0 1590.4,1900.6 1593.6,1897.8 1593.6,1889.5 1596.7,1886.4 1595.8,1876.4 1598.6,1873.0 1598.6,1864.6 1600.6,1859.7 1605.5,1859.0 1607.8,1853.5 1612.2,1851.3 1615.6,1847.4 1617.8,1843.7 1616.8,1834.1 1619.5,1831.4 1618.5,1821.8 1621.1,1818.8 1619.5,1808.3 1622.1,1805.2 1622.0,1797.2 1623.4,1792.1 1622.8,1783.8 1626.0,1782.2 1624.4,1772.0 1626.9,1769.1 1625.5,1759.3 1627.3,1755.3 1628.0,1748.9 1631.3,1747.0 1631.2,1739.1 1634.3,1737.1 1635.1,1730.7 1637.8,1726.5 1637.0,1716.2 1640.4,1713.3 1640.1,1703.9 1642.9,1700.0 1645.0,1696.5 1644.5,1688.2 1646.8,1685.0 1649.1,1681.1 1648.6,1672.2 1652.2,1670.6 1651.5,1661.4 1655.1,1659.8 1654.3,1650.2 1658.4,1649.6 1658.5,1641.7 1661.7,1638.9 1661.8,1630.4 1664.9,1627.4 1664.9,1618.8 1669.6,1618.6 1670.2,1611.0 1671.1,1605.0 1674.1,1602.6 1674.0,1594.7 1677.5,1593.3 1678.0,1586.5 1682.0,1582.5 1683.7,1574.4 1688.2,1571.3 1690.0,1563.5 1693.6,1558.8 1695.9,1563.0 1700.0,1570.5 1701.5,1573.3 1705.3,1580.3 1707.7,1588.6 1706.6,1590.8 1709.2,1599.3 1708.0,1601.1 1711.6,1611.6 1709.8,1612.5 1713.0,1622.1 1713.1,1626.4 1713.0,1630.2 1716.1,1639.7 1714.8,1641.4 1717.7,1650.5 1717.0,1653.3 1719.9,1662.4 1719.0,1664.8 1721.0,1672.4 1723.1,1678.9 1722.7,1681.0 1726.6,1690.7 1726.5,1693.4 1728.7,1700.0 1729.2,1704.9 1732.1,1714.1 1730.9,1716.0 1733.1,1723.9 1732.4,1726.8 1735.6,1736.3 1734.6,1738.6 1736.5,1746.1 1736.7,1749.8 1740.4,1759.8 1740.3,1762.9 1743.9,1772.6 1744.3,1776.8 1744.5,1781.7 1747.0,1790.7 1745.9,1793.4 1748.8,1803.2 1748.0,1806.4 1750.8,1816.0 1749.6,1818.4 1751.7,1826.8 1752.1,1832.0 1755.2,1839.4 1755.5,1841.8 1759.5,1850.7 1760.0,1853.5 1762.4,1861.8 1760.5,1862.6 1763.5,1872.0 1762.6,1874.4 1765.9,1884.3 1765.3,1887.3 1768.1,1896.3 1767.7,1899.6 1769.6,1903.1 1774.1,1911.3 1775.7,1914.3 1779.4,1921.1 1782.1,1929.1 1782.2,1932.5 1784.8,1940.4 1785.3,1944.6 1788.9,1954.2 1789.2,1958.0 1790.3,1950.9 1794.6,1949.6 1795.5,1942.4 1799.0,1939.5 1800.2,1932.0 1805.2,1931.1 1806.7,1924.2 1809.9,1917.8 1815.9,1916.4 1818.4,1908.8 1821.3,1906.3 1820.5,1897.2 1823.6,1895.0 1823.5,1887.2 1826.2,1884.3 1826.2,1876.2 1829.8,1874.4 1829.0,1864.9 1831.3,1860.9 1831.2,1852.4 1833.8,1849.0 1834.0,1841.3 1834.3,1833.8 1837.7,1831.9 1837.1,1823.0 1839.6,1819.5 1839.9,1812.1 1841.8,1807.5 1843.5,1803.1 1842.5,1793.7 1846.1,1792.6 1845.0,1783.2 1847.9,1780.9 1846.6,1771.1 1849.8,1769.2 1849.6,1761.4 1852.5,1757.8 1852.1,1748.2 1856.0,1746.3 1857.4,1739.9 1859.0,1735.3 1858.6,1727.2 1861.4,1724.5 1860.4,1715.4 1863.3,1712.9 1861.9,1702.9 1865.0,1701.0 1865.2,1693.9 1870.0,1690.9 1873.0,1684.6 1873.7,1676.7 1876.9,1673.4 1877.3,1665.0 1881.1,1662.6 1880.8,1653.0 1884.1,1649.8 1884.7,1641.7 1885.1,1634.4 1887.4,1630.3 1886.6,1620.8 1889.8,1618.2 1889.3,1609.3 1892.6,1607.0 1892.5,1598.7 1897.8,1598.1 1899.5,1591.2 1904.2,1589.5 1904.4,1581.0 1908.5,1579.3 1908.2,1569.9 1911.7,1567.2 1912.0,1558.8 1912.6,1563.3 1914.8,1570.7 1914.8,1574.1 1917.8,1582.9 1917.9,1586.5 1919.6,1582.2 1918.5,1572.8 1921.3,1570.6 1921.2,1562.9 1923.7,1560.1 1923.7,1552.8 1925.8,1555.9 1929.6,1562.1 1931.5,1565.0 1934.1,1561.4 1932.6,1550.5 1935.5,1547.4 1934.9,1538.1 1938.4,1536.0 1937.9,1527.0 1941.0,1524.3 1939.9,1514.2 1943.3,1512.0 1943.2,1503.5 1943.2,1508.0 1946.4,1518.1 1944.8,1519.6 1947.6,1529.0 1946.6,1531.8 1950.2,1542.4 1948.8,1544.5 1951.0,1552.8 1954.0,1554.2 1960.1,1561.1 1962.7,1561.9 1963.0,1555.0 1965.2,1551.5 1964.5,1542.9 1967.9,1541.6 1966.9,1532.4 1968.6,1528.1 1969.5,1532.5 1972.4,1540.4 1972.2,1542.9 1974.4,1549.6 1975.6,1545.3 1974.5,1536.9 1976.3,1533.6 1974.7,1524.4 1977.2,1522.3 1975.0,1512.1 1977.7,1510.3 1976.2,1501.4 1978.1,1498.3 1976.8,1489.5 1978.5,1486.0 1976.6,1476.3 1978.3,1472.8 1980.4,1466.8 1984.2,1463.8 1986.1,1457.5 1988.6,1453.7 1988.9,1446.2 1993.2,1445.8 1994.0,1439.1 1998.9,1437.8 2001.7,1432.9 2003.7,1429.1 2002.1,1419.1 2004.7,1416.4 2002.9,1405.8 2005.8,1403.8 2005.6,1396.1 2007.6,1392.2 2006.9,1383.5 2009.5,1380.7 2009.4,1385.4 2011.6,1394.2 2010.4,1397.0 2012.5,1405.6 2011.5,1408.9 2013.4,1417.1 2012.0,1419.5 2014.8,1429.3 2013.7,1432.3 2015.4,1440.2 2015.4,1445.2 2016.7,1441.1 2015.3,1432.3 2017.0,1428.9 2015.5,1419.8 2018.0,1417.8 2016.2,1408.2 2018.7,1406.2 2016.8,1396.5 2018.8,1393.7 2016.8,1383.7 2018.9,1381.0 2017.3,1371.9 2019.9,1370.1 2018.4,1360.9 2019.3,1356.1" fill="none" stroke="#000000" stroke-width="8" stroke-linejoin="round"/>
<polyline points="379.5,1346.5 389.7,1346.0 399.0,1343.9 408.0,1341.4 418.5,1341.7 427.4,1339.7 438.0,1340.8 446.2,1339.8 453.0,1336.2 461.4,1335.4 468.8,1333.7 477.7,1334.6 484.8,1332.3 493.3,1333.1 499.7,1330.3 508.7,1331.9 516.0,1330.7 525.8,1331.4 533.6,1328.6 543.3,1329.1 552.0,1332.2 559.0,1332.3 565.9,1327.7 571.6,1321.0 578.4,1316.2 581.6,1309.6 586.9,1306.7 589.5,1299.1 594.0,1294.7 602.1,1293.7 609.6,1291.7 612.7,1285.2 618.3,1283.0 621.3,1276.4 625.5,1271.8 628.8,1265.5 633.0,1260.9 639.6,1268.4 644.7,1273.2 649.8,1276.5 656.4,1282.4 659.4,1288.2 660.8,1291.3 664.2,1297.8 666.5,1302.3 669.7,1308.6 672.0,1313.1 676.4,1320.9 679.1,1325.8 684.4,1335.1 687.6,1340.8 691.9,1347.6 694.8,1352.0 699.3,1359.2 704.3,1360.7 711.0,1365.4 719.1,1362.9 726.6,1359.2 735.0,1363.3 742.2,1365.4 750.7,1368.2 757.8,1368.5 765.1,1374.0 770.1,1375.3 777.3,1380.7 784.6,1379.1 789.7,1373.4 796.8,1371.5 805.3,1371.3 812.4,1368.5 819.5,1371.8 828.0,1377.6 831.4,1371.6 836.5,1368.6 839.7,1362.2 847.2,1364.8 855.3,1368.5 862.3,1367.4 867.9,1363.5 874.8,1362.2 882.2,1364.6 890.4,1368.5 893.6,1374.5 898.5,1383.5 902.0,1389.9 906.4,1396.7 910.0,1402.2 912.4,1409.3 913.4,1413.8 916.2,1421.4 917.7,1426.8 920.5,1436.0 921.2,1441.5 924.4,1451.3 925.5,1457.5 927.9,1466.0 929.1,1472.3 931.9,1481.6 933.3,1488.2 934.6,1493.2 937.4,1500.9 938.5,1505.6 941.0,1512.8 945.0,1518.9 946.7,1527.2 946.9,1533.1 949.3,1542.6 949.4,1548.2 952.1,1558.3 952.8,1565.0 954.4,1573.1 954.6,1578.9 957.3,1589.0 957.2,1594.3 959.7,1604.0 960.6,1611.0 961.1,1617.3 963.8,1627.4 963.6,1632.5 966.5,1642.9 966.6,1648.6 968.4,1657.1 969.2,1662.9 972.0,1672.3 972.0,1676.6 974.3,1685.0 974.4,1691.7 976.3,1701.4 975.5,1706.5 977.9,1717.0 977.4,1722.6 979.3,1732.5 978.4,1737.3 980.4,1747.2 980.2,1753.2 982.0,1762.9 981.2,1768.0 983.3,1778.0 982.7,1783.5 984.0,1792.1 984.4,1798.7 986.7,1808.7 986.4,1814.3 988.2,1823.4 988.5,1829.9 990.1,1838.7 990.1,1844.6 991.8,1853.5 1000.0,1853.5 1001.5,1862.7 1000.7,1867.7 1002.2,1877.1 1002.3,1883.7 1004.0,1893.2 1003.9,1899.6 1007.1,1902.9 1011.7,1908.8 1013.4,1915.1 1016.8,1924.2 1017.9,1929.4 1021.9,1939.8 1023.4,1945.7 1025.4,1951.3 1028.9,1959.4 1029.8,1963.0 1033.5,1971.6 1035.1,1976.4 1038.3,1983.0 1040.1,1987.2 1044.3,1995.5 1046.8,2000.9 1049.1,2006.0 1053.3,2014.4 1054.9,2018.1 1058.5,2025.5 1064.1,2023.5 1070.2,2022.4 1072.1,2029.7 1072.4,2034.1 1074.1,2040.9 1077.3,2033.4 1082.0,2028.6 1085.5,2034.0 1090.5,2042.2 1093.6,2047.0 1095.4,2052.8 1098.7,2061.3 1100.0,2066.2 1103.4,2074.8 1105.3,2080.8 1111.7,2075.6 1117.0,2068.5 1119.3,2077.1 1119.6,2082.4 1122.3,2091.8 1122.7,2097.0 1124.8,2105.4 1129.5,2099.5 1132.2,2090.3 1136.5,2083.9 1137.8,2092.1 1137.8,2098.0 1139.9,2107.6 1139.7,2113.4 1141.9,2123.1 1141.8,2129.0 1144.0,2138.8 1144.3,2145.3 1148.9,2141.4 1151.2,2133.5 1156.0,2129.9 1157.6,2134.8 1161.5,2143.6 1162.5,2147.3 1166.1,2155.7 1167.7,2160.6 1176.0,2164.7 1183.3,2166.8 1184.0,2157.7 1186.8,2152.4 1187.3,2143.0 1189.9,2137.4 1189.9,2127.1 1192.8,2122.0 1193.3,2112.6 1195.0,2105.4 1195.3,2111.7 1197.4,2121.5 1197.4,2127.4 1199.5,2137.1 1199.7,2143.3 1201.8,2153.0 1201.6,2158.6 1204.0,2168.8 1203.7,2174.2 1206.3,2184.7 1206.7,2191.3 1209.4,2196.8 1213.2,2204.1 1215.8,2209.3 1220.0,2217.3 1222.3,2222.0 1225.6,2226.2 1230.4,2232.8 1234.0,2237.4 1238.0,2234.4 1245.2,2243.4 1253.0,2224.3 1263.2,2243.4 1272.0,2216.0 1278.0,2241.4 1283.8,2233.4 1288.7,2244.6 1299.5,2237.2 1304.9,2243.6 1313.7,2237.7 1319.9,2241.0 1325.6,2234.2 1332.0,2241.7 1340.9,2227.4 1350.7,2243.0 1357.0,2232.1 1363.2,2243.0 1368.4,2232.2 1378.2,2244.8 1383.9,2235.6 1394.6,2242.9 1405.6,2222.0 1408.1,2215.3 1409.0,2205.8 1411.9,2199.8 1412.6,2189.9 1416.0,2184.8 1417.3,2176.0 1421.8,2182.2 1424.6,2185.3 1429.0,2191.3 1431.3,2184.8 1432.3,2175.9 1435.6,2171.1 1435.9,2161.2 1439.5,2156.8 1440.7,2148.3 1446.4,2143.0 1450.3,2134.6 1456.3,2129.9 1458.0,2122.6 1461.8,2119.1 1462.9,2110.8 1466.2,2106.2 1468.0,2099.2 1471.5,2094.0 1473.0,2085.5 1477.1,2081.3 1479.7,2074.6 1484.9,2070.5 1491.4,2068.5 1492.8,2060.8 1496.1,2056.6 1496.8,2047.7 1500.0,2043.2 1500.8,2034.7 1503.1,2028.6 1508.7,2021.9 1514.8,2016.3 1516.1,2008.9 1519.4,2005.3 1519.8,1996.4 1522.6,1991.7 1524.0,1983.0 1527.1,1977.4 1528.0,1967.9 1531.2,1962.4 1531.7,1952.1 1534.3,1945.7 1535.6,1936.8 1538.6,1931.1 1539.7,1921.8 1542.1,1915.0 1546.4,1910.5 1549.6,1904.2 1553.8,1899.6 1556.7,1894.5 1557.7,1885.9 1561.2,1881.8 1562.8,1874.4 1565.5,1868.9 1566.5,1860.3 1569.2,1855.0 1569.6,1845.4 1571.8,1839.0 1572.3,1829.6 1574.6,1823.5 1575.2,1814.2 1577.2,1807.5 1579.7,1800.8 1580.3,1790.6 1583.4,1785.0 1584.3,1775.5 1587.8,1770.4 1589.0,1761.4 1591.0,1755.5 1591.1,1746.2 1593.6,1741.2 1593.8,1732.1 1595.8,1726.2 1596.7,1718.4 1600.0,1718.4 1602.6,1711.9 1603.4,1702.2 1606.2,1696.1 1607.8,1687.7 1609.0,1678.8 1612.4,1673.7 1613.2,1663.9 1616.0,1657.8 1617.2,1648.9 1619.5,1641.7 1620.9,1633.8 1623.4,1627.9 1624.3,1619.0 1627.0,1613.4 1628.0,1604.9 1630.5,1601.8 1631.2,1595.7 1633.0,1589.2 1637.2,1586.9 1639.0,1580.3 1640.1,1573.4 1640.0,1564.4 1641.8,1558.7 1640.9,1548.4 1643.0,1543.2 1642.1,1532.8 1644.3,1527.8 1643.4,1517.5 1645.6,1512.5 1644.9,1502.5 1646.6,1496.6 1646.8,1488.2 1649.6,1483.6 1650.0,1474.6 1653.1,1470.6 1654.6,1463.6 1659.7,1456.1 1666.3,1451.3 1670.6,1449.0 1674.1,1445.2 1675.5,1437.3 1678.8,1432.7 1679.7,1423.9 1682.0,1417.6 1686.6,1414.3 1689.7,1408.3 1693.2,1412.8 1697.9,1419.2 1701.4,1423.6 1708.0,1424.9 1713.1,1423.6 1715.9,1431.1 1717.1,1435.9 1720.8,1445.1 1722.0,1449.9 1724.8,1457.5 1726.5,1462.5 1730.3,1471.2 1731.5,1475.3 1734.7,1483.0 1736.5,1488.2 1740.3,1496.6 1741.6,1500.7 1745.9,1510.0 1748.2,1515.7 1753.6,1521.0 1760.0,1528.1 1761.8,1536.5 1761.9,1542.0 1764.7,1552.1 1764.5,1557.0 1767.3,1567.1 1767.4,1572.5 1769.4,1581.3 1769.9,1587.5 1771.6,1595.7 1773.9,1604.0 1774.9,1610.0 1778.0,1619.6 1779.0,1625.6 1782.1,1635.3 1783.3,1641.7 1783.6,1647.4 1786.1,1657.0 1785.5,1661.1 1787.2,1669.3 1790.2,1675.2 1791.9,1678.7 1795.0,1684.6 1797.2,1693.7 1797.7,1699.5 1800.0,1708.6 1800.9,1715.4 1804.6,1711.1 1807.0,1704.5 1810.6,1700.0 1815.1,1693.8 1818.0,1684.9 1822.3,1678.5 1829.8,1682.6 1837.9,1687.7 1838.5,1678.8 1840.9,1673.1 1841.1,1663.5 1843.7,1658.1 1844.0,1648.7 1845.7,1641.7 1848.2,1634.9 1848.9,1625.1 1851.8,1619.2 1853.2,1610.5 1856.1,1604.5 1857.4,1595.7 1863.9,1592.3 1869.1,1586.5 1874.3,1580.7 1880.8,1577.2 1885.6,1572.6 1888.6,1565.0 1889.6,1558.4 1888.9,1548.7 1890.2,1542.7 1889.5,1533.0 1891.3,1527.9 1890.1,1517.4 1892.0,1512.5 1891.1,1502.5 1892.9,1497.2 1892.5,1488.2 1893.4,1481.4 1892.9,1472.1 1895.0,1467.2 1894.3,1457.7 1895.9,1451.9 1895.5,1442.9 1896.4,1436.0 1897.5,1427.8 1900.8,1423.6 1901.5,1414.8 1905.0,1410.7 1905.5,1401.5 1908.1,1396.1 1909.5,1390.7 1909.7,1383.1 1911.9,1379.1 1912.0,1371.5 1913.3,1379.3 1913.3,1384.7 1915.5,1394.0 1915.6,1399.6 1917.3,1408.0 1917.9,1414.5 1919.1,1408.2 1919.3,1400.0 1921.2,1394.9 1920.8,1385.7 1922.7,1380.5 1922.3,1371.4 1923.7,1365.4 1926.9,1360.7 1927.9,1352.2 1931.6,1348.4 1932.6,1340.0 1935.4,1334.6 1935.8,1325.9 1938.4,1321.1 1938.1,1311.2 1940.5,1306.0 1940.3,1296.2 1942.4,1290.5 1943.2,1282.4 1945.2,1288.5 1948.7,1297.4 1951.0,1303.9 1953.6,1298.2 1954.2,1289.0 1957.7,1284.7 1958.8,1276.4 1963.8,1273.4 1970.5,1273.2 1978.3,1273.2 1979.9,1280.2 1982.6,1289.3 1983.3,1294.7 1986.1,1303.9 1986.2,1310.6 1987.7,1319.8 1987.7,1326.4 1989.1,1335.4 1988.9,1341.5 1990.0,1350.0 1994.5,1358.2 1997.5,1363.8 2001.7,1371.5 2008.2,1369.6 2013.4,1365.4" fill="none" stroke="#FF8000" stroke-width="8" stroke-linejoin="round"/>
<polyline points="372.5,1348.1 378.7,1338.6 384.8,1339.5 392.2,1338.6 400.3,1346.7 411.5,1337.6 419.7,1343.3 430.4,1335.2 438.1,1335.1 445.3,1342.9 452.2,1339.3 463.3,1339.4 470.9,1337.8 476.5,1331.1 486.2,1340.4 495.2,1325.7 506.5,1335.3 512.5,1330.2 520.0,1327.8 531.5,1338.8 536.8,1330.5 543.8,1334.3 557.7,1338.6 568.0,1329.0 574.3,1337.4 586.2,1327.7 591.9,1342.6 600.1,1325.7 606.1,1333.9 616.3,1326.8 627.4,1333.7 637.3,1321.2 647.5,1336.7 657.7,1325.8 667.6,1336.2 679.1,1326.8 691.5,1319.3 693.2,1312.0 696.9,1308.2 698.3,1300.4 701.4,1295.6 703.2,1288.6 704.9,1280.9 708.3,1276.2 709.6,1267.9 712.9,1262.9 714.1,1254.3 716.9,1248.7 720.9,1255.8 723.1,1259.8 727.9,1268.6 730.5,1273.2 737.1,1280.6 742.2,1285.5 743.8,1292.6 746.9,1302.3 747.8,1308.1 750.0,1316.2 756.4,1321.8 761.7,1325.4 764.3,1333.4 764.8,1337.8 768.3,1347.5 769.5,1353.1 774.8,1358.3 781.2,1365.4 786.6,1358.3 793.0,1353.1 800.4,1355.6 808.5,1359.2 815.2,1354.6 820.2,1346.9 827.3,1348.7 835.8,1353.1 841.6,1350.1 845.7,1343.9 851.4,1340.8 855.8,1343.5 862.1,1349.5 867.0,1353.1 874.2,1356.6 882.6,1362.2 890.0,1361.6 899.0,1363.6 906.0,1362.2 913.2,1366.6 918.7,1367.9 925.5,1371.5 928.9,1378.5 930.7,1382.6 934.8,1390.9 937.2,1396.1 939.6,1403.0 940.7,1407.6 943.5,1415.3 945.0,1420.6 947.5,1429.5 947.8,1434.6 950.9,1444.5 951.3,1449.8 953.8,1458.6 954.3,1464.1 956.7,1472.8 959.8,1476.5 964.8,1483.6 968.4,1488.2 970.1,1496.6 970.3,1502.3 972.8,1512.1 973.2,1518.2 975.2,1527.1 976.2,1534.3 978.3,1543.4 977.9,1548.1 980.8,1558.5 980.6,1563.6 983.0,1573.2 984.0,1580.3 984.2,1586.6 986.4,1596.5 986.6,1602.8 988.4,1612.0 988.1,1617.4 990.1,1626.9 990.1,1632.8 991.8,1641.7 993.4,1647.8 996.2,1656.1 997.5,1661.6 1000.0,1669.3 1001.4,1677.8 1001.3,1683.5 1003.6,1693.6 1003.1,1698.7 1005.1,1708.1 1005.2,1714.2 1007.6,1724.4 1007.8,1730.7 1009.0,1739.2 1008.8,1745.1 1010.6,1754.5 1010.1,1759.9 1012.0,1769.6 1011.8,1775.5 1013.8,1785.4 1013.5,1791.2 1015.5,1801.0 1015.6,1807.5 1017.8,1811.9 1021.2,1818.4 1023.4,1822.8 1024.4,1830.0 1026.5,1839.0 1026.8,1845.0 1029.0,1854.3 1029.6,1860.7 1031.2,1868.9 1032.1,1875.9 1034.2,1885.0 1034.4,1890.7 1037.2,1901.0 1037.0,1906.1 1039.0,1915.0 1040.3,1921.4 1043.5,1931.4 1044.4,1937.2 1047.3,1946.5 1048.4,1952.7 1050.7,1961.0 1052.1,1966.7 1055.0,1975.0 1056.1,1980.2 1058.9,1988.3 1059.7,1993.0 1062.4,2000.9 1067.1,2007.4 1069.6,2010.1 1074.1,2016.3 1079.1,2019.4 1085.8,2025.5 1089.1,2020.5 1090.6,2012.5 1093.6,2007.1 1095.0,2013.9 1098.2,2023.7 1098.7,2028.7 1101.4,2037.8 1103.0,2042.7 1106.5,2050.9 1107.7,2054.9 1111.5,2063.6 1113.1,2068.5 1116.4,2076.0 1118.1,2080.8 1122.4,2090.1 1124.8,2096.1 1131.5,2099.2 1136.5,2099.2 1138.0,2103.8 1141.8,2112.7 1142.8,2116.3 1146.4,2124.8 1148.2,2129.9 1150.1,2122.6 1153.7,2118.2 1156.0,2111.5 1158.0,2118.3 1161.1,2127.0 1162.6,2132.9 1166.0,2142.0 1167.7,2148.3 1173.5,2155.6 1177.3,2159.3 1183.3,2166.8 1185.1,2159.6 1185.7,2150.4 1188.4,2145.0 1188.4,2134.8 1190.9,2128.9 1191.8,2120.2 1194.0,2113.8 1195.0,2105.4 1195.6,2112.3 1197.5,2121.6 1197.6,2127.8 1199.6,2137.2 1199.2,2142.5 1201.2,2152.0 1201.5,2158.5 1202.8,2166.8 1205.0,2171.6 1209.1,2179.8 1211.2,2184.6 1214.5,2191.3 1217.4,2198.5 1218.5,2202.3 1222.0,2210.7 1223.4,2215.1 1226.2,2222.0 1229.5,2226.1 1234.7,2233.5 1238.0,2237.4 1242.0,2235.3 1251.6,2244.3 1259.3,2233.9 1266.1,2241.1 1271.3,2234.0 1277.9,2243.8 1288.1,2231.7 1295.6,2242.9 1304.1,2234.2 1309.3,2245.2 1317.9,2234.3 1327.5,2241.2 1334.8,2233.6 1342.2,2242.6 1347.9,2236.6 1357.5,2243.6 1364.9,2221.3 1370.1,2242.9 1376.5,2229.5 1386.4,2244.8 1394.9,2235.8 1405.1,2242.1 1411.0,2232.1 1418.1,2241.9 1423.3,2234.2 1429.2,2244.9 1436.8,2154.5 1440.1,2147.4 1444.6,2142.2 1447.4,2137.6 1448.2,2129.4 1451.2,2125.1 1452.4,2117.6 1457.1,2112.9 1459.7,2104.5 1464.6,2100.1 1468.0,2093.1 1472.6,2085.8 1479.0,2081.9 1483.6,2074.6 1486.6,2068.2 1488.1,2059.0 1491.4,2053.1 1492.8,2044.5 1495.6,2038.4 1496.5,2028.9 1500.0,2023.9 1500.4,2013.5 1503.6,2008.0 1504.5,1998.4 1507.0,1991.7 1509.7,1985.5 1510.1,1974.9 1513.6,1970.0 1514.5,1960.5 1517.4,1954.5 1518.7,1945.7 1519.9,1936.7 1523.3,1931.5 1523.9,1921.5 1527.3,1916.4 1527.9,1906.3 1530.4,1899.6 1532.3,1893.3 1532.1,1883.1 1534.2,1877.1 1534.7,1868.2 1537.1,1862.7 1537.0,1852.8 1539.0,1846.6 1539.1,1837.0 1541.7,1831.9 1542.1,1822.8 1544.5,1815.9 1545.7,1806.9 1548.7,1801.2 1549.4,1791.2 1552.4,1785.5 1553.8,1776.8 1555.5,1770.0 1555.8,1760.8 1557.9,1754.8 1557.7,1744.8 1560.4,1739.7 1560.0,1729.3 1562.6,1724.1 1562.8,1714.6 1564.7,1708.3 1565.5,1700.0 1568.1,1693.7 1569.4,1685.0 1570.9,1677.0 1573.8,1671.6 1575.0,1662.9 1577.8,1657.2 1578.9,1648.4 1581.1,1641.7 1583.4,1634.6 1584.5,1625.5 1587.7,1620.0 1588.1,1609.6 1591.7,1604.9 1592.8,1595.7 1594.6,1587.5 1598.5,1582.9 1600.0,1574.2 1600.9,1566.8 1603.3,1562.0 1603.6,1553.7 1605.5,1548.1 1606.1,1540.2 1607.8,1534.3 1608.4,1526.6 1610.2,1521.2 1610.0,1512.3 1612.5,1508.0 1612.0,1498.5 1614.3,1494.0 1614.2,1485.2 1615.6,1479.0 1617.9,1473.0 1618.1,1463.1 1620.8,1457.7 1621.2,1448.3 1623.4,1442.1 1624.9,1435.3 1627.9,1430.8 1628.7,1422.8 1631.2,1417.6 1634.5,1411.4 1639.8,1408.7 1643.0,1402.2 1647.4,1397.1 1650.7,1389.9 1654.1,1383.0 1658.8,1378.2 1662.4,1371.5 1667.9,1366.3 1674.0,1362.2 1683.0,1359.3 1693.6,1359.2 1701.0,1363.2 1709.2,1368.5 1714.7,1366.3 1721.0,1365.4 1727.6,1373.0 1732.6,1377.6 1738.3,1382.6 1742.6,1385.1 1748.2,1389.9 1750.3,1395.1 1754.1,1403.4 1756.0,1408.3 1760.4,1415.4 1763.4,1420.0 1767.7,1426.8 1769.7,1432.3 1773.3,1440.6 1774.3,1444.4 1777.8,1452.7 1779.4,1457.5 1782.1,1465.0 1782.5,1468.3 1785.9,1477.0 1787.2,1482.0 1790.6,1488.3 1795.7,1497.5 1799.0,1503.5 1803.2,1511.2 1806.3,1517.1 1810.6,1525.0 1816.5,1520.2 1820.5,1511.8 1826.2,1506.6 1827.3,1500.5 1826.7,1491.7 1828.3,1486.5 1827.3,1476.8 1829.2,1472.3 1828.4,1463.0 1829.8,1457.4 1828.9,1447.9 1830.1,1442.1 1834.7,1438.6 1838.0,1432.9 1841.4,1426.1 1845.7,1420.6 1847.3,1414.8 1846.8,1405.3 1849.2,1401.0 1849.0,1391.9 1851.4,1387.5 1850.7,1377.6 1853.1,1373.3 1853.5,1365.4 1855.0,1359.3 1854.8,1350.3 1857.1,1345.9 1856.7,1336.5 1858.7,1331.3 1859.0,1323.3 1860.8,1317.9 1861.3,1310.1 1862.2,1302.2 1864.1,1296.2 1864.2,1286.7 1866.3,1281.1 1867.2,1273.2 1869.5,1282.5 1869.3,1287.2 1872.3,1297.6 1873.0,1303.9 1876.1,1299.8 1877.5,1292.4 1880.8,1288.6 1885.3,1296.8 1888.0,1301.8 1892.5,1310.1 1895.0,1315.5 1898.7,1322.9 1900.4,1327.0 1904.2,1334.6 1907.3,1339.3 1912.0,1346.9 1915.5,1352.4 1920.4,1360.2 1923.2,1364.4 1927.6,1371.5 1934.3,1379.1 1939.3,1383.8 1945.9,1388.1 1951.0,1389.9 1954.2,1381.7 1959.5,1377.2 1961.8,1367.6 1966.6,1362.2 1972.6,1358.4 1976.5,1351.2 1982.2,1346.9 1989.2,1348.7 1997.8,1353.1 1999.2,1358.2 2002.2,1366.3 2002.8,1370.0 2005.6,1377.6 2008.9,1372.2 2010.9,1364.3 2015.1,1360.5 2017.3,1353.1" fill="none" stroke="#008000" stroke-width="8" stroke-linejoin="round"/>
<polyline points="372.8,1349.5 380.7,1339.6 390.7,1347.0 399.3,1347.0 406.6,1335.8 415.1,1344.9 425.9,1342.7 437.1,1331.9 446.7,1340.7 459.1,1330.6 466.2,1338.3 476.0,1330.7 480.7,1326.1 484.0,1318.9 488.6,1325.8 492.0,1330.7 497.0,1334.3 503.5,1326.6 512.0,1334.7 520.9,1325.2 531.3,1325.8 541.4,1337.6 551.4,1335.9 558.3,1326.4 566.3,1334.0 573.8,1327.6 584.9,1338.4 591.0,1336.3 601.3,1326.7 610.4,1334.9 619.0,1328.6 627.6,1337.6 632.8,1326.0 644.9,1337.8 652.7,1331.1 660.6,1337.3 669.9,1326.8 678.1,1330.0 684.7,1339.5 692.8,1330.9 703.2,1327.4 711.0,1340.8 719.2,1337.6 727.3,1331.1 737.3,1341.2 742.2,1343.9 746.9,1340.1 749.8,1333.1 754.0,1328.5 754.7,1320.8 757.3,1316.4 757.4,1307.8 759.8,1303.0 759.6,1293.9 761.7,1288.6 764.3,1281.1 768.3,1276.1 769.7,1266.5 773.4,1260.9 775.9,1257.2 777.3,1251.7 781.9,1259.1 785.0,1264.0 791.4,1269.5 796.8,1273.2 798.0,1278.1 801.2,1286.4 801.8,1290.1 804.6,1297.8 806.2,1304.9 809.4,1314.7 810.0,1320.0 812.4,1328.5 816.8,1335.6 819.5,1339.6 824.0,1346.9 830.5,1341.8 835.8,1334.6 843.3,1332.5 851.4,1331.5 856.5,1328.7 863.0,1328.5 869.3,1332.2 874.8,1334.6 883.1,1337.2 890.4,1337.8 896.3,1344.2 900.5,1347.4 906.0,1353.1 913.5,1355.7 921.6,1359.2 928.5,1359.2 937.2,1362.2 941.8,1368.8 944.6,1372.2 949.2,1379.0 952.8,1383.8 958.5,1388.8 962.8,1391.2 968.4,1396.1 971.0,1402.7 972.3,1407.0 976.0,1415.6 977.2,1419.8 980.0,1426.8 981.5,1433.5 984.5,1443.0 985.5,1448.9 988.0,1457.5 993.7,1463.1 1000.0,1469.8 1001.3,1478.0 1000.6,1482.8 1002.0,1491.3 1001.5,1496.4 1003.5,1506.0 1002.6,1510.5 1004.0,1518.9 1004.8,1524.9 1007.9,1535.1 1008.2,1540.2 1010.5,1549.0 1011.7,1555.7 1011.5,1560.8 1013.8,1570.4 1012.8,1574.3 1015.2,1583.9 1014.3,1587.9 1015.6,1595.7 1015.8,1602.0 1018.1,1612.0 1017.7,1617.2 1019.5,1626.4 1021.3,1635.5 1021.0,1640.9 1022.7,1649.9 1023.4,1657.1 1024.8,1664.9 1024.9,1670.3 1027.1,1679.4 1027.3,1685.0 1029.1,1693.5 1029.1,1698.9 1031.9,1709.0 1031.7,1714.0 1034.4,1724.1 1035.1,1730.7 1036.8,1739.7 1036.2,1744.6 1038.4,1754.5 1038.3,1760.3 1040.5,1770.0 1040.6,1776.2 1042.4,1785.3 1042.9,1792.1 1044.5,1801.0 1044.3,1806.5 1046.2,1815.8 1045.9,1821.3 1048.3,1831.5 1048.1,1837.0 1050.0,1846.4 1050.7,1853.5 1051.8,1860.6 1054.1,1869.7 1054.6,1875.7 1057.0,1885.1 1057.3,1890.6 1059.9,1900.3 1060.2,1906.0 1062.4,1915.0 1064.6,1922.8 1065.1,1927.8 1067.9,1936.8 1068.4,1941.8 1071.1,1950.6 1072.1,1956.4 1074.1,1964.1 1082.0,1967.2 1084.6,1974.4 1085.4,1978.7 1088.1,1986.1 1089.7,1991.7 1091.3,1998.8 1094.5,2008.6 1095.1,2014.0 1097.9,2023.1 1098.6,2028.6 1101.4,2037.8 1104.3,2044.9 1105.6,2049.3 1108.9,2057.1 1110.2,2061.3 1113.1,2068.5 1117.6,2075.7 1120.9,2080.8 1125.6,2077.0 1128.1,2069.4 1132.6,2065.4 1137.9,2064.4 1144.3,2065.4 1145.3,2071.2 1148.5,2081.0 1148.7,2085.3 1151.6,2094.6 1152.3,2099.9 1154.7,2108.2 1156.0,2114.6 1162.1,2116.9 1169.4,2121.4 1175.5,2123.8 1177.4,2130.3 1180.5,2139.2 1182.0,2144.9 1185.3,2154.1 1187.2,2160.6 1192.2,2165.2 1199.2,2173.5 1204.5,2178.5 1210.6,2185.2 1218.7,2188.9 1226.2,2191.3 1229.3,2198.7 1230.1,2202.2 1233.9,2210.9 1234.8,2214.5 1238.0,2222.0 1241.4,2226.3 1246.6,2233.8 1249.6,2237.4 1254.0,2223.1 1259.2,2243.0 1266.5,2230.3 1272.5,2243.5 1278.1,2222.4 1283.9,2242.4 1290.4,2220.0 1296.2,2242.1 1306.6,2232.7 1315.0,2241.8 1324.8,2223.4 1334.2,2244.6 1339.2,2221.0 1348.3,2245.1 1358.3,2230.9 1363.2,2241.3 1369.1,2218.4 1375.6,2245.4 1382.9,2229.8 1390.0,2222.0 1391.4,2213.4 1394.6,2207.9 1395.4,2198.3 1397.8,2191.3 1402.5,2186.6 1405.1,2178.1 1409.5,2172.9 1415.6,2170.4 1421.2,2166.8 1422.7,2157.9 1426.3,2152.7 1427.8,2144.0 1431.2,2138.4 1432.9,2129.9 1433.2,2122.6 1434.6,2117.4 1434.1,2108.7 1436.2,2104.5 1435.7,2095.9 1436.8,2090.0 1441.5,2096.1 1444.6,2099.2 1446.1,2092.5 1445.9,2082.7 1448.2,2077.4 1447.9,2067.4 1449.8,2061.5 1449.8,2052.0 1451.7,2046.0 1452.4,2037.8 1455.9,2032.0 1460.5,2028.1 1464.1,2022.4 1466.0,2015.5 1469.1,2010.7 1470.7,2003.2 1473.8,1998.5 1475.8,1991.7 1478.8,1986.8 1480.1,1978.8 1483.3,1974.1 1484.4,1965.8 1487.5,1961.0 1490.7,1956.4 1491.8,1948.0 1495.0,1943.4 1496.5,1935.8 1499.2,1930.3 1501.6,1923.5 1502.4,1913.7 1505.4,1907.8 1507.0,1899.6 1508.7,1893.2 1508.6,1883.6 1510.6,1877.7 1510.2,1867.6 1512.3,1861.9 1512.1,1852.2 1514.4,1846.9 1514.8,1838.2 1515.1,1829.6 1516.8,1823.6 1516.3,1813.7 1518.7,1808.9 1518.3,1799.1 1520.3,1793.6 1519.8,1783.6 1521.8,1778.2 1521.1,1767.9 1522.6,1761.4 1522.7,1752.6 1524.7,1747.2 1524.1,1737.0 1526.1,1731.5 1526.1,1722.6 1528.1,1717.1 1527.5,1706.9 1529.6,1701.7 1528.8,1691.2 1530.4,1685.0 1532.0,1678.4 1532.6,1669.9 1534.8,1664.3 1535.0,1655.2 1537.4,1649.9 1538.2,1641.7 1539.8,1633.5 1542.8,1627.7 1543.3,1617.3 1546.0,1611.0 1549.1,1606.7 1550.8,1600.0 1553.8,1595.7 1556.1,1590.2 1557.1,1582.3 1560.0,1577.8 1561.6,1571.1 1565.1,1565.5 1566.0,1555.4 1569.4,1549.6 1570.9,1542.9 1571.0,1533.7 1572.6,1527.1 1572.6,1517.7 1575.0,1512.5 1574.9,1502.9 1576.5,1496.4 1577.2,1488.2 1579.2,1481.8 1579.0,1471.4 1581.4,1465.7 1582.0,1456.7 1584.1,1450.6 1585.0,1442.1 1587.7,1435.8 1588.2,1425.5 1591.6,1420.4 1592.8,1411.4 1594.0,1402.4 1597.0,1396.7 1598.2,1387.5 1600.6,1380.7 1603.9,1375.1 1608.4,1371.5 1613.0,1375.8 1616.2,1377.6 1619.3,1379.3 1624.0,1383.8 1626.6,1378.7 1627.6,1370.9 1630.3,1366.2 1631.8,1359.2 1636.7,1357.6 1640.0,1353.1 1648.1,1354.5 1654.6,1353.1 1661.7,1347.3 1670.2,1343.9 1677.5,1346.0 1685.8,1350.0 1693.9,1347.5 1701.4,1343.9 1709.5,1342.8 1717.0,1340.8 1722.5,1338.7 1728.7,1337.8 1735.1,1341.7 1740.4,1343.9 1749.1,1350.0 1756.0,1353.1 1762.4,1347.9 1767.7,1340.8 1771.1,1337.1 1772.3,1329.5 1775.5,1325.4 1779.0,1327.7 1783.3,1331.5 1784.2,1323.6 1786.5,1318.3 1786.6,1309.0 1789.3,1304.3 1789.0,1294.3 1791.1,1288.6 1793.1,1282.3 1796.8,1279.1 1799.0,1273.2 1801.2,1281.5 1802.2,1287.5 1805.6,1297.7 1806.7,1303.9 1807.9,1297.4 1811.2,1294.6 1812.6,1288.6 1814.7,1295.9 1815.2,1300.3 1817.2,1307.5 1818.4,1313.1 1819.2,1319.2 1822.1,1328.9 1822.6,1334.5 1825.0,1343.3 1826.2,1350.0 1831.8,1354.1 1838.0,1359.2 1839.3,1365.8 1842.5,1375.7 1843.4,1381.6 1845.7,1389.9 1846.7,1381.6 1849.6,1376.6 1849.7,1366.5 1852.4,1361.3 1853.5,1353.1 1859.9,1360.1 1865.2,1365.4 1869.8,1360.5 1873.0,1353.1 1876.5,1347.2 1878.1,1337.9 1882.3,1333.3 1884.7,1325.4 1888.2,1329.8 1893.2,1337.0 1896.4,1340.8 1901.0,1348.2 1903.3,1351.5 1908.4,1359.8 1912.0,1365.4 1919.1,1362.5 1927.6,1362.2 1935.7,1367.4 1943.2,1371.5 1949.0,1368.4 1952.8,1361.8 1958.8,1359.2 1963.2,1353.7 1969.6,1351.7 1974.4,1346.9 1981.4,1348.6 1990.0,1353.1 1996.0,1348.3 2000.1,1340.3 2005.6,1334.6 2012.1,1341.9 2017.3,1346.9" fill="none" stroke="#8000FF" stroke-width="8" stroke-linejoin="round"/>
<polyline points="370.6,1346.7 381.4,1339.1 388.5,1338.3 396.4,1342.4 405.5,1336.3 414.9,1340.0 424.7,1332.6 434.3,1339.4 442.0,1338.4 449.1,1339.5 457.8,1330.0 468.2,1336.6 471.2,1332.7 477.7,1327.5 486.6,1333.5 492.2,1328.5 499.3,1326.7 509.6,1337.8 519.1,1324.7 527.8,1334.1 537.3,1329.0 550.1,1339.8 555.0,1326.1 562.9,1337.4 573.8,1327.5 581.9,1334.9 590.5,1330.8 602.4,1336.3 609.3,1326.8 618.6,1340.2 627.0,1328.1 640.2,1324.1 645.5,1330.2 657.3,1339.0 662.7,1330.4 670.7,1337.0 678.1,1328.8 688.1,1340.4 698.4,1328.3 708.2,1340.1 713.8,1333.6 722.5,1341.0 732.4,1331.0 741.6,1339.8 750.4,1340.5 762.3,1334.2 769.7,1343.3 780.1,1332.2 791.8,1339.2 796.3,1334.9 808.5,1340.8 811.3,1334.9 812.4,1325.9 815.9,1321.2 817.1,1312.4 820.2,1307.1 823.1,1300.5 824.5,1291.3 828.1,1285.9 828.9,1275.5 832.0,1269.3 834.8,1261.5 839.8,1257.5 843.0,1250.4 846.4,1256.9 848.3,1260.6 852.0,1267.7 855.4,1275.8 856.7,1280.3 860.2,1288.7 861.3,1292.6 864.9,1301.3 867.0,1307.1 868.2,1313.3 870.4,1321.1 871.0,1326.1 873.7,1334.8 874.8,1340.8 882.3,1341.8 890.4,1343.9 897.6,1347.5 906.0,1353.1 913.4,1350.9 921.9,1350.6 928.6,1347.1 937.2,1346.9 944.3,1347.2 953.2,1350.7 959.8,1350.1 968.4,1353.1 973.1,1360.4 976.5,1365.2 981.7,1373.4 985.2,1378.5 990.0,1385.8 993.0,1390.7 997.1,1397.6 1000.0,1402.2 1002.3,1410.4 1003.6,1417.0 1006.6,1426.6 1007.8,1432.9 1015.6,1436.0 1018.4,1444.7 1019.0,1449.4 1021.5,1457.5 1022.5,1464.1 1025.5,1474.2 1025.5,1479.1 1028.7,1489.5 1028.8,1494.4 1031.2,1503.5 1031.8,1509.8 1033.4,1517.9 1033.5,1523.1 1035.8,1532.4 1035.2,1536.6 1037.9,1546.5 1037.1,1550.4 1039.0,1558.8 1039.5,1564.8 1042.2,1574.9 1042.1,1579.9 1044.5,1589.4 1044.8,1595.2 1047.6,1605.3 1047.8,1610.8 1049.7,1619.4 1050.7,1626.4 1052.4,1635.0 1052.3,1640.4 1054.2,1649.3 1054.2,1654.9 1056.2,1664.2 1055.8,1669.1 1058.1,1678.8 1058.5,1685.0 1058.4,1691.6 1060.1,1701.5 1059.3,1706.7 1061.3,1717.1 1060.4,1722.2 1062.2,1732.1 1061.1,1737.1 1062.4,1746.1 1063.3,1753.1 1065.9,1763.0 1065.9,1768.3 1068.3,1778.1 1068.5,1783.8 1070.2,1792.1 1070.5,1798.6 1072.9,1808.8 1072.5,1814.1 1074.8,1824.1 1074.3,1829.1 1076.8,1839.5 1076.4,1844.7 1078.0,1853.5 1080.1,1862.6 1080.1,1867.9 1082.2,1877.0 1082.9,1883.8 1084.9,1892.6 1085.4,1898.9 1087.4,1907.8 1087.8,1913.9 1090.0,1923.3 1090.6,1929.6 1092.8,1938.8 1093.6,1945.7 1095.2,1952.7 1098.2,1962.2 1098.7,1967.4 1102.0,1977.5 1102.6,1982.8 1105.3,1991.7 1108.7,1997.4 1113.9,2006.3 1116.2,2010.0 1121.4,2019.0 1124.4,2023.9 1129.0,2031.7 1132.6,2037.8 1133.9,2044.4 1136.9,2053.9 1137.9,2059.8 1140.4,2068.5 1143.7,2076.7 1144.9,2081.2 1148.5,2089.9 1150.3,2095.5 1154.1,2104.5 1156.0,2110.2 1159.5,2118.5 1160.6,2122.2 1164.5,2131.2 1166.0,2135.7 1170.2,2145.1 1171.5,2149.4 1175.0,2157.5 1178.5,2162.8 1184.1,2172.0 1187.1,2176.5 1192.3,2184.8 1195.1,2189.0 1200.0,2196.9 1206.0,2203.0 1210.6,2206.6 1217.4,2214.2 1222.3,2218.3 1229.4,2226.4 1233.9,2229.8 1240.0,2236.2 1245.0,2231.7 1254.2,2245.3 1260.0,2231.6 1268.0,2243.5 1274.1,2224.4 1282.5,2242.9 1290.3,2223.6 1296.1,2241.5 1304.7,2222.9 1310.4,2241.5 1317.9,2237.3 1326.0,2243.9 1336.6,2229.1 1345.2,2241.3 1355.2,2235.1 1364.3,2242.3 1370.5,2237.0 1376.0,2220.5 1377.6,2213.1 1380.5,2207.9 1381.7,2199.7 1384.7,2194.7 1385.6,2186.1 1388.7,2181.3 1390.0,2173.2 1391.9,2166.0 1395.0,2161.0 1395.7,2151.8 1399.3,2147.5 1400.0,2138.3 1403.3,2133.4 1405.0,2126.0 1408.1,2120.5 1409.4,2111.8 1412.8,2106.8 1414.5,2098.9 1417.9,2093.8 1420.0,2086.6 1422.2,2078.7 1426.4,2074.3 1428.1,2065.5 1432.3,2061.1 1433.9,2052.2 1438.0,2047.6 1440.0,2039.4 1442.5,2032.8 1443.9,2024.3 1447.3,2019.4 1448.2,2009.9 1451.4,2004.6 1452.3,1995.3 1455.8,1990.5 1457.3,1982.1 1460.2,1976.2 1462.0,1968.5 1464.6,1962.6 1465.5,1953.6 1468.9,1949.0 1469.3,1939.3 1472.5,1934.4 1473.6,1925.8 1476.8,1921.0 1477.2,1911.1 1480.0,1905.5 1482.0,1899.4 1482.6,1890.6 1484.8,1884.8 1485.5,1876.3 1488.1,1871.1 1488.6,1862.3 1491.1,1857.0 1491.7,1848.3 1493.9,1842.4 1495.0,1834.6 1496.7,1828.9 1496.5,1819.8 1498.1,1813.8 1498.0,1804.9 1500.0,1799.7 1499.8,1790.5 1501.8,1785.2 1501.4,1775.9 1503.8,1771.4 1503.3,1761.6 1505.0,1755.9 1506.7,1750.1 1506.4,1740.7 1508.2,1735.2 1508.1,1726.1 1510.2,1721.0 1510.4,1712.6 1512.4,1707.2 1512.4,1698.5 1514.2,1692.8 1514.8,1685.0 1516.2,1679.0 1515.4,1669.1 1517.3,1663.9 1516.9,1654.6 1518.7,1649.2 1518.5,1640.3 1520.6,1635.5 1520.0,1625.9 1521.6,1620.2 1521.4,1611.2 1522.6,1604.9 1524.4,1598.3 1524.1,1588.1 1526.5,1582.7 1526.0,1572.1 1528.3,1566.4 1528.3,1556.8 1530.4,1550.8 1530.4,1541.0 1532.8,1535.7 1532.7,1525.7 1534.3,1518.9 1535.3,1510.6 1537.7,1505.0 1537.4,1494.5 1540.2,1489.4 1539.9,1479.0 1542.1,1472.8 1545.7,1467.1 1550.6,1463.9 1553.8,1457.5 1556.0,1451.2 1556.2,1441.5 1559.3,1436.8 1559.4,1426.9 1561.6,1420.6 1568.1,1417.1 1573.3,1411.4 1574.4,1402.3 1577.9,1397.2 1578.6,1387.5 1581.1,1380.7 1582.8,1387.9 1585.0,1396.1 1585.6,1387.7 1587.7,1381.9 1587.2,1371.6 1589.0,1365.4 1591.7,1360.6 1592.3,1352.1 1595.1,1347.6 1596.7,1340.8 1603.0,1344.6 1608.4,1346.9 1616.8,1349.4 1624.0,1350.0 1630.8,1347.8 1639.2,1339.9 1649.7,1340.1 1657.8,1338.2 1665.4,1346.9 1675.5,1340.1 1681.8,1347.8 1690.9,1339.5 1697.1,1350.6 1706.1,1350.4 1711.3,1340.1 1722.0,1330.7 1725.0,1325.0 1726.5,1316.8 1730.1,1312.4 1732.1,1304.9 1735.0,1299.2 1738.3,1293.3 1739.8,1284.3 1743.5,1279.0 1744.7,1269.6 1748.2,1264.0 1750.8,1271.5 1752.1,1276.7 1755.8,1286.0 1756.8,1290.7 1760.0,1299.2 1762.0,1306.4 1762.6,1311.0 1765.6,1319.9 1766.0,1324.2 1769.1,1333.5 1770.0,1338.6 1775.4,1359.2 1784.9,1346.2 1793.0,1346.1 1802.3,1333.8 1808.3,1346.4 1813.3,1335.6 1822.6,1352.1 1827.0,1338.2 1834.9,1346.8 1845.8,1334.4 1853.6,1347.8 1858.8,1353.2 1867.7,1333.6 1876.7,1352.9 1885.6,1334.1 1893.6,1350.3 1900.3,1352.1 1908.4,1333.6 1916.9,1352.2 1925.6,1340.5 1935.2,1352.4 1941.9,1339.4 1952.5,1352.0 1960.2,1337.2 1969.8,1352.3 1974.7,1347.4 1982.5,1330.4 1990.0,1352.2 1998.9,1346.4 2005.1,1337.4 2012.8,1350.0" fill="none" stroke="#FFFF80" stroke-width="8" stroke-linejoin="round"/>
<polyline points="372.5,1347.1 378.6,1339.5 389.5,1345.8 394.3,1336.7 408.5,1342.6 417.4,1332.8 425.5,1345.4 435.4,1329.2 446.7,1339.7 456.2,1328.3 465.2,1336.4 470.2,1334.1 477.8,1336.4 488.0,1325.3 496.5,1335.0 504.4,1327.6 513.5,1333.3 522.4,1328.8 535.9,1332.8 543.4,1333.1 555.5,1329.1 563.9,1329.4 575.1,1334.4 585.3,1328.7 592.2,1334.8 604.5,1326.3 610.4,1337.1 622.3,1340.4 631.3,1328.5 642.4,1335.9 651.4,1328.3 661.4,1339.7 670.1,1327.8 676.6,1341.6 688.6,1330.7 698.0,1337.9 707.0,1331.4 711.5,1340.6 720.2,1330.2 729.4,1332.0 738.0,1338.8 747.3,1334.9 758.5,1344.2 763.7,1331.6 773.8,1343.2 783.5,1331.0 792.4,1335.9 801.8,1341.1 808.5,1340.8 811.5,1335.8 812.6,1327.5 816.0,1323.1 817.2,1315.0 820.2,1310.1 823.0,1303.5 824.3,1294.2 827.9,1289.0 828.8,1279.2 832.0,1273.2 836.2,1267.7 839.5,1260.5 843.9,1255.3 847.5,1248.7 848.9,1253.8 852.1,1262.2 852.8,1266.0 855.3,1273.2 858.4,1280.8 859.2,1284.1 862.8,1292.5 863.9,1296.4 867.0,1303.9 869.2,1312.4 869.6,1317.8 872.3,1327.2 872.9,1332.8 874.8,1340.8 881.7,1340.8 890.4,1343.9 897.4,1347.1 906.0,1353.1 910.3,1348.8 913.4,1342.2 917.7,1337.8 923.6,1339.8 931.5,1345.4 937.2,1346.9 945.8,1346.9 952.8,1343.9 960.3,1348.0 968.4,1353.1 973.0,1361.5 975.6,1366.5 980.0,1374.6 982.7,1382.0 983.4,1385.8 986.8,1394.4 988.0,1399.2 994.5,1395.5 1000.0,1389.9 1004.4,1386.3 1007.8,1380.7 1011.9,1381.0 1017.5,1383.8 1020.2,1391.3 1020.8,1395.0 1023.4,1402.2 1024.2,1409.6 1023.6,1414.7 1025.2,1423.5 1024.8,1428.9 1026.4,1437.8 1025.5,1442.2 1027.4,1451.6 1027.3,1457.5 1028.8,1466.7 1028.1,1472.0 1030.0,1481.8 1029.3,1487.1 1031.2,1497.1 1031.2,1503.5 1032.9,1512.4 1032.6,1517.9 1034.7,1527.6 1035.1,1534.3 1035.7,1540.2 1038.1,1549.3 1039.0,1555.7 1040.0,1548.0 1042.4,1542.7 1043.0,1534.3 1044.5,1542.9 1044.1,1548.2 1046.1,1557.8 1046.8,1565.0 1047.9,1573.7 1047.5,1579.7 1048.7,1588.7 1048.0,1594.4 1049.9,1604.5 1049.1,1609.8 1050.8,1619.8 1050.7,1626.4 1051.8,1632.5 1055.3,1642.9 1055.7,1647.9 1058.5,1657.1 1058.2,1662.7 1059.8,1671.6 1059.5,1677.3 1060.5,1685.0 1061.9,1693.5 1061.7,1699.0 1064.0,1709.0 1063.6,1714.1 1066.0,1724.2 1066.3,1730.7 1066.5,1737.1 1069.1,1747.6 1068.5,1752.5 1070.8,1762.5 1070.5,1767.9 1072.4,1777.3 1072.8,1783.9 1074.1,1792.1 1074.5,1798.8 1076.8,1808.8 1076.4,1814.0 1078.9,1824.3 1078.3,1829.3 1080.7,1839.3 1080.4,1844.8 1082.0,1853.5 1082.7,1859.9 1085.6,1870.1 1085.8,1875.6 1088.5,1885.5 1088.7,1891.0 1091.1,1900.3 1091.9,1906.8 1093.6,1915.0 1093.7,1921.2 1096.3,1931.6 1095.7,1936.6 1098.0,1946.5 1097.7,1952.0 1099.9,1961.8 1099.6,1967.2 1101.4,1976.4 1106.0,1982.7 1108.9,1986.1 1113.1,1991.7 1113.1,1998.8 1114.4,2007.9 1113.7,2013.8 1115.5,2023.9 1114.3,2028.8 1115.8,2038.4 1115.5,2044.9 1116.7,2054.0 1115.8,2059.4 1117.0,2068.5 1120.2,2073.4 1125.4,2081.9 1128.7,2086.9 1132.0,2079.7 1136.8,2075.2 1140.4,2068.5 1142.0,2075.5 1145.0,2085.0 1145.6,2090.4 1148.2,2099.2 1152.7,2097.2 1156.0,2093.1 1158.0,2102.1 1157.8,2107.2 1160.0,2116.6 1159.8,2121.8 1161.9,2131.0 1161.9,2136.3 1163.8,2145.3 1166.0,2149.7 1169.8,2156.9 1171.6,2160.6 1172.7,2153.0 1176.1,2149.5 1177.0,2141.3 1179.4,2136.1 1180.0,2142.2 1182.0,2150.7 1182.0,2155.9 1184.1,2164.6 1184.5,2170.3 1186.7,2179.3 1187.2,2185.2 1187.7,2176.6 1190.3,2171.8 1190.7,2163.0 1193.1,2157.7 1192.9,2148.0 1195.0,2142.2 1197.4,2150.2 1198.1,2155.0 1201.7,2165.1 1202.5,2170.4 1205.0,2178.6 1206.7,2185.2 1212.4,2190.2 1216.6,2192.4 1222.3,2197.5 1225.9,2204.9 1227.3,2208.3 1231.6,2216.9 1234.0,2222.0 1238.8,2228.7 1241.3,2231.5 1245.7,2237.4 1250.0,2218.9 1256.7,2243.6 1265.0,2223.4 1272.3,2242.1 1280.8,2229.0 1288.1,2241.5 1293.2,2222.5 1304.4,2241.3 1311.4,2237.7 1316.3,2243.2 1322.6,2218.8 1327.6,2243.7 1333.0,2237.5 1337.9,2244.7 1348.3,2232.4 1354.2,2244.1 1361.2,2225.9 1366.5,2244.4 1378.3,2237.4 1380.0,2231.7 1379.4,2222.1 1382.0,2218.1 1382.2,2209.8 1383.5,2202.5 1385.8,2197.1 1386.5,2188.8 1388.8,2183.5 1390.0,2176.0 1394.4,2173.9 1397.8,2169.8 1401.3,2164.5 1405.6,2160.6 1406.9,2151.7 1409.9,2145.9 1410.7,2136.3 1413.4,2129.9 1414.9,2123.1 1418.1,2119.1 1418.5,2110.2 1421.2,2105.4 1423.4,2099.1 1424.0,2090.0 1426.7,2084.7 1426.8,2074.7 1429.0,2068.5 1430.4,2059.9 1433.6,2054.4 1434.1,2044.2 1436.8,2037.8 1440.1,2034.0 1441.6,2026.8 1444.6,2022.4 1447.9,2018.3 1452.4,2016.3 1454.8,2010.5 1455.8,2002.2 1458.5,1996.8 1459.9,1989.1 1462.8,1984.2 1464.1,1976.4 1466.6,1969.7 1467.2,1959.6 1470.5,1954.3 1471.5,1945.0 1474.3,1938.8 1475.8,1930.3 1477.3,1921.8 1480.2,1915.8 1480.9,1905.9 1484.4,1901.0 1485.3,1891.4 1487.5,1884.3 1488.7,1877.2 1488.4,1867.6 1490.6,1862.5 1490.1,1852.7 1492.0,1846.9 1491.7,1837.3 1493.5,1831.5 1492.9,1821.3 1495.3,1816.5 1495.3,1807.5 1495.5,1798.8 1497.7,1793.6 1497.0,1783.3 1499.3,1778.3 1498.9,1768.5 1500.8,1762.8 1499.9,1752.3 1502.4,1747.6 1502.0,1737.9 1503.1,1730.7 1503.4,1722.5 1505.2,1716.8 1504.3,1706.5 1506.4,1701.5 1505.8,1691.7 1507.0,1685.0 1508.4,1678.7 1508.4,1670.0 1510.6,1665.2 1511.0,1657.1 1512.9,1650.5 1512.9,1640.6 1515.4,1635.0 1515.5,1625.2 1517.8,1619.4 1518.7,1611.0 1520.0,1604.6 1519.4,1594.6 1521.1,1588.8 1521.0,1579.8 1522.7,1573.9 1521.9,1563.7 1523.9,1558.5 1523.0,1548.1 1524.8,1542.4 1524.6,1533.1 1526.5,1527.7 1526.5,1518.9 1528.1,1512.4 1527.9,1502.6 1529.9,1496.6 1530.4,1488.2 1531.6,1482.5 1531.4,1474.3 1533.0,1469.4 1532.6,1460.8 1534.2,1456.0 1534.3,1448.3 1537.6,1442.3 1538.7,1432.6 1542.1,1426.8 1544.9,1422.1 1545.7,1413.9 1548.3,1408.9 1550.0,1402.2 1552.4,1396.9 1553.2,1388.7 1556.2,1384.6 1557.7,1377.6 1563.8,1373.5 1569.4,1368.5 1572.6,1364.4 1574.0,1357.1 1577.2,1353.1 1581.6,1350.8 1585.0,1346.9 1588.0,1339.2 1592.0,1333.5 1594.8,1325.4 1600.1,1332.4 1604.5,1337.8 1610.8,1337.0 1616.2,1334.6 1619.9,1339.3 1624.6,1345.9 1628.0,1350.0 1633.6,1347.8 1640.0,1346.9 1646.8,1346.9 1652.9,1343.3 1656.5,1335.5 1662.4,1331.5 1671.0,1337.5 1678.0,1340.8 1686.4,1343.3 1693.6,1343.9 1699.3,1348.9 1703.2,1350.5 1709.2,1356.1 1710.0,1348.6 1712.1,1343.3 1712.1,1334.4 1714.4,1329.5 1714.5,1320.6 1716.6,1315.4 1717.0,1307.1 1721.2,1300.5 1724.2,1291.7 1728.7,1285.5 1731.5,1279.2 1733.2,1270.9 1736.6,1265.8 1738.5,1257.9 1740.6,1266.6 1740.4,1271.3 1743.3,1281.3 1743.2,1286.2 1746.1,1296.3 1746.5,1302.1 1748.2,1310.1 1756.0,1307.1 1757.6,1315.0 1757.4,1319.9 1759.5,1328.7 1759.2,1333.3 1761.7,1343.1 1761.2,1347.3 1763.6,1356.7 1763.8,1362.2 1768.4,1366.6 1771.6,1368.5 1775.2,1376.5 1776.8,1381.1 1781.1,1390.5 1783.3,1396.1 1785.1,1388.3 1788.6,1383.5 1789.8,1374.8 1793.4,1370.3 1795.0,1362.2 1798.5,1367.6 1803.5,1375.8 1806.7,1380.7 1807.2,1372.6 1808.9,1366.7 1808.4,1356.8 1810.4,1351.5 1810.1,1341.9 1812.5,1337.3 1812.6,1328.5 1815.2,1337.1 1815.8,1342.1 1818.7,1351.1 1819.7,1356.9 1822.3,1365.4 1823.8,1371.2 1827.5,1381.0 1828.5,1385.9 1832.4,1396.2 1834.0,1402.2 1835.6,1396.0 1835.5,1386.9 1838.1,1382.6 1837.8,1372.9 1840.4,1368.6 1839.8,1358.6 1841.8,1353.1 1846.1,1359.8 1849.1,1364.5 1853.5,1371.5 1856.1,1365.3 1857.5,1356.8 1860.8,1351.8 1862.2,1343.5 1865.2,1337.8 1869.6,1341.5 1876.2,1349.0 1880.8,1353.1 1885.5,1348.4 1888.1,1339.9 1892.5,1334.6 1894.0,1341.6 1896.7,1350.6 1897.8,1356.6 1901.1,1366.8 1901.7,1372.0 1904.2,1380.7 1904.9,1373.0 1907.4,1368.4 1907.3,1359.3 1909.7,1354.6 1910.1,1346.3 1912.0,1340.8 1914.0,1346.3 1917.2,1354.0 1918.6,1358.4 1921.7,1366.0 1923.7,1371.5 1924.7,1364.2 1927.0,1359.3 1927.0,1350.4 1929.7,1346.3 1929.9,1337.6 1931.5,1331.5 1938.2,1328.5 1943.2,1322.4 1945.6,1330.3 1946.5,1335.5 1949.9,1345.2 1950.2,1349.5 1953.5,1359.0 1955.0,1365.4 1960.2,1358.1 1966.6,1353.1 1967.2,1359.3 1968.9,1367.4 1968.9,1372.7 1971.3,1382.0 1970.7,1386.2 1972.7,1395.0 1972.9,1400.5 1974.4,1408.3 1974.6,1399.4 1977.1,1394.3 1976.9,1384.5 1978.6,1378.2 1978.9,1369.3 1981.1,1363.8 1980.6,1353.5 1982.7,1347.8 1982.3,1337.8 1984.5,1332.2 1984.3,1322.4 1986.1,1316.2 1988.0,1324.6 1987.8,1329.2 1989.8,1337.8 1990.0,1343.1 1992.5,1352.7 1992.2,1357.1 1994.0,1365.4 1994.9,1356.8 1997.5,1351.4 1997.8,1341.8 2000.9,1337.2 2001.7,1328.5 2002.3,1334.5 2004.6,1343.4 2005.1,1349.1 2007.4,1358.0 2007.6,1363.2 2009.5,1371.5 2010.6,1379.5 2010.1,1384.5 2012.0,1394.0 2011.5,1399.0 2013.3,1408.2 2013.2,1414.0 2014.8,1422.8 2014.0,1427.4 2015.4,1436.0 2016.2,1429.1 2015.2,1419.1 2016.7,1413.4 2016.2,1404.2 2017.4,1398.1 2016.6,1388.3 2017.9,1382.3 2017.5,1373.3 2019.0,1367.7 2018.2,1357.9 2019.2,1351.5 2018.3,1341.5 2020.0,1336.2 2019.3,1326.8 2020.5,1320.5 2019.5,1310.4 2020.9,1304.7 2020.6,1295.8 2021.2,1288.6 2021.6,1294.8 2023.4,1303.6 2023.2,1308.9 2025.1,1317.8 2024.9,1322.9 2026.5,1331.3 2027.0,1337.8" fill="none" stroke="#00FF00" stroke-width="8" stroke-linejoin="round"/>
</g></g>
<rect x="1598.6" y="266" width="8" height="60" fill="#000"/><polygon points="1576.5,324.8 1628,324.8 1602.6,375.5" fill="#000"/>
<rect x="1413" y="1144" width="10" height="60" fill="#FF0000"/><polygon points="1392,1202.7 1443.8,1202.7 1418,1255.3" fill="#FF0000"/>
<g fill="#000"><rect x="361" y="37" width="1853" height="12"/>
<rect x="361" y="37" width="11" height="1459"/>
<rect x="2202" y="37" width="12" height="1459"/>
<rect x="359" y="1487" width="1857" height="18"/>
<rect x="359" y="1496" width="12" height="1362"/>
<rect x="2204" y="1496" width="12" height="1362"/>
<rect x="359" y="2846" width="1857" height="12"/>
<rect x="372" y="1372.1" width="9" height="11.800000000000182"/>
<rect x="2193" y="1372.1" width="9" height="11.800000000000182"/>
<rect x="372" y="1250.6" width="22" height="11.800000000000182"/>
<rect x="2180" y="1250.6" width="22" height="11.800000000000182"/>
<rect x="372" y="1129.2" width="9" height="11.799999999999955"/>
<rect x="2193" y="1129.2" width="9" height="11.799999999999955"/>
<rect x="372" y="1007.7" width="22" height="11.799999999999955"/>
<rect x="2180" y="1007.7" width="22" height="11.799999999999955"/>
<rect x="372" y="886.3" width="9" height="11.800000000000068"/>
<rect x="2193" y="886.3" width="9" height="11.800000000000068"/>
<rect x="372" y="764.9" width="22" height="11.800000000000068"/>
<rect x="2180" y="764.9" width="22" height="11.800000000000068"/>
<rect x="372" y="643.4" width="9" height="11.800000000000068"/>
<rect x="2193" y="643.4" width="9" height="11.800000000000068"/>
<rect x="372" y="522.0" width="22" height="11.799999999999955"/>
<rect x="2180" y="522.0" width="22" height="11.799999999999955"/>
<rect x="372" y="400.5" width="9" height="11.800000000000011"/>
<rect x="2193" y="400.5" width="9" height="11.800000000000011"/>
<rect x="372" y="279.1" width="22" height="11.799999999999955"/>
<rect x="2180" y="279.1" width="22" height="11.799999999999955"/>
<rect x="372" y="157.7" width="9" height="11.800000000000011"/>
<rect x="2193" y="157.7" width="9" height="11.800000000000011"/>
<rect x="371" y="2733.7" width="9" height="11.200000000000273"/>
<rect x="2195" y="2733.7" width="9" height="11.200000000000273"/>
<rect x="371" y="2620.4" width="9" height="11.199999999999818"/>
<rect x="2195" y="2620.4" width="9" height="11.199999999999818"/>
<rect x="371" y="2507.0" width="9" height="11.199999999999818"/>
<rect x="2195" y="2507.0" width="9" height="11.199999999999818"/>
<rect x="371" y="2393.7" width="9" height="11.200000000000273"/>
<rect x="2195" y="2393.7" width="9" height="11.200000000000273"/>
<rect x="371" y="2280.4" width="22" height="11.199999999999818"/>
<rect x="2182" y="2280.4" width="22" height="11.199999999999818"/>
<rect x="371" y="2167.1" width="9" height="11.200000000000273"/>
<rect x="2195" y="2167.1" width="9" height="11.200000000000273"/>
<rect x="371" y="2053.8" width="9" height="11.199999999999818"/>
<rect x="2195" y="2053.8" width="9" height="11.199999999999818"/>
<rect x="371" y="1940.4" width="9" height="11.199999999999818"/>
<rect x="2195" y="1940.4" width="9" height="11.199999999999818"/>
<rect x="371" y="1827.1" width="9" height="11.200000000000045"/>
<rect x="2195" y="1827.1" width="9" height="11.200000000000045"/>
<rect x="371" y="1713.8" width="22" height="11.200000000000045"/>
<rect x="2182" y="1713.8" width="22" height="11.200000000000045"/>
<rect x="371" y="1600.5" width="9" height="11.200000000000045"/>
<rect x="2195" y="1600.5" width="9" height="11.200000000000045"/>
<rect x="513.2" y="49" width="11.0" height="9"/>
<rect x="513.2" y="1478" width="11.0" height="9"/>
<rect x="513.2" y="1505" width="11.0" height="9"/>
<rect x="513.2" y="2837" width="11.0" height="9"/>
<rect x="667.0" y="49" width="11.0" height="22"/>
<rect x="667.0" y="1465" width="11.0" height="22"/>
<rect x="667.0" y="1505" width="11.0" height="22"/>
<rect x="667.0" y="2824" width="11.0" height="22"/>
<rect x="820.8" y="49" width="11.0" height="9"/>
<rect x="820.8" y="1478" width="11.0" height="9"/>
<rect x="820.8" y="1505" width="11.0" height="9"/>
<rect x="820.8" y="2837" width="11.0" height="9"/>
<rect x="974.5" y="49" width="11.0" height="22"/>
<rect x="974.5" y="1465" width="11.0" height="22"/>
<rect x="974.5" y="1505" width="11.0" height="22"/>
<rect x="974.5" y="2824" width="11.0" height="22"/>
<rect x="1128.2" y="49" width="11.0" height="9"/>
<rect x="1128.2" y="1478" width="11.0" height="9"/>
<rect x="1128.2" y="1505" width="11.0" height="9"/>
<rect x="1128.2" y="2837" width="11.0" height="9"/>
<rect x="1282.0" y="49" width="11.0" height="22"/>
<rect x="1282.0" y="1465" width="11.0" height="22"/>
<rect x="1282.0" y="1505" width="11.0" height="22"/>
<rect x="1282.0" y="2824" width="11.0" height="22"/>
<rect x="1435.8" y="49" width="11.0" height="9"/>
<rect x="1435.8" y="1478" width="11.0" height="9"/>
<rect x="1435.8" y="1505" width="11.0" height="9"/>
<rect x="1435.8" y="2837" width="11.0" height="9"/>
<rect x="1589.5" y="49" width="11.0" height="22"/>
<rect x="1589.5" y="1465" width="11.0" height="22"/>
<rect x="1589.5" y="1505" width="11.0" height="22"/>
<rect x="1589.5" y="2824" width="11.0" height="22"/>
<rect x="1743.2" y="49" width="11.0" height="9"/>
<rect x="1743.2" y="1478" width="11.0" height="9"/>
<rect x="1743.2" y="1505" width="11.0" height="9"/>
<rect x="1743.2" y="2837" width="11.0" height="9"/>
<rect x="1897.0" y="49" width="11.0" height="22"/>
<rect x="1897.0" y="1465" width="11.0" height="22"/>
<rect x="1897.0" y="1505" width="11.0" height="22"/>
<rect x="1897.0" y="2824" width="11.0" height="22"/>
<rect x="2050.8" y="49" width="11.0" height="9"/>
<rect x="2050.8" y="1478" width="11.0" height="9"/>
<rect x="2050.8" y="1505" width="11.0" height="9"/>
<rect x="2050.8" y="2837" width="11.0" height="9"/></g>
<g><text transform="translate(1978.54,1387.35) scale(1.6920,1.6883)" font-family="'Liberation Sans', sans-serif" font-weight="bold" font-size="100" fill="#000">(a)</text><text transform="translate(1981.74,2805.78) scale(1.6525,1.7011)" font-family="'Liberation Sans', sans-serif" font-weight="bold" font-size="100" fill="#000">(b)</text></g>
<g fill="#000"><rect x="369" y="3022" width="11" height="113.8"/><rect x="380" y="3073" width="50.2" height="11.8"/><polygon points="430.2,3062.9 463,3079 430.2,3095"/></g>
</svg>
</body></html>
